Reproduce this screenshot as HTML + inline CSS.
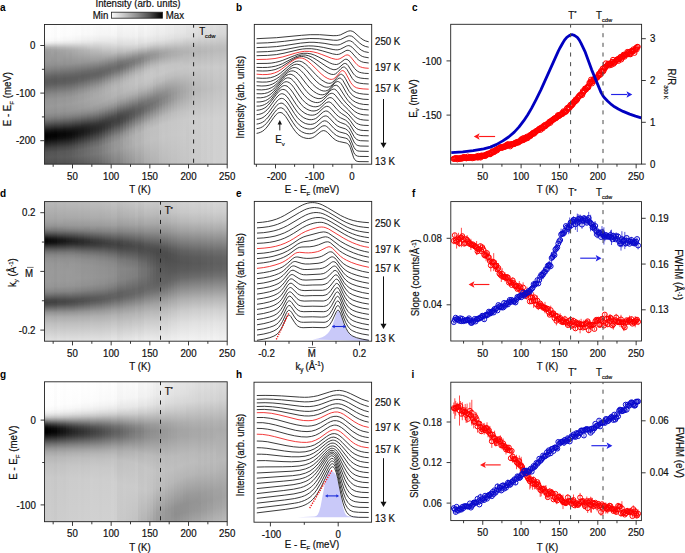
<!DOCTYPE html>
<html><head><meta charset="utf-8"><style>
html,body{margin:0;padding:0;background:#fff;width:685px;height:553px;overflow:hidden}
svg{display:block;font-family:"Liberation Sans", sans-serif}
</style></head><body>
<svg width="685" height="553" viewBox="0 0 685 553">
<defs><linearGradient id="ha0" x2="0" y2="1"><stop offset="0.000" stop-color="#fdfdfd"/><stop offset="0.090" stop-color="#fcfcfc"/><stop offset="0.115" stop-color="#f7f7f7"/><stop offset="0.133" stop-color="#e7e7e7"/><stop offset="0.162" stop-color="#b0b0b0"/><stop offset="0.176" stop-color="#a1a1a1"/><stop offset="0.194" stop-color="#9b9b9b"/><stop offset="0.255" stop-color="#979797"/><stop offset="0.288" stop-color="#909090"/><stop offset="0.317" stop-color="#848484"/><stop offset="0.371" stop-color="#646464"/><stop offset="0.396" stop-color="#5b5b5b"/><stop offset="0.414" stop-color="#5a5a5a"/><stop offset="0.432" stop-color="#5f5f5f"/><stop offset="0.500" stop-color="#868686"/><stop offset="0.540" stop-color="#949494"/><stop offset="0.590" stop-color="#989898"/><stop offset="0.637" stop-color="#909090"/><stop offset="0.662" stop-color="#848484"/><stop offset="0.683" stop-color="#737373"/><stop offset="0.705" stop-color="#5c5c5c"/><stop offset="0.759" stop-color="#171717"/><stop offset="0.777" stop-color="#070707"/><stop offset="0.791" stop-color="#010101"/><stop offset="0.806" stop-color="#010101"/><stop offset="0.824" stop-color="#080808"/><stop offset="0.885" stop-color="#404040"/><stop offset="0.917" stop-color="#525252"/><stop offset="0.953" stop-color="#575757"/><stop offset="1.000" stop-color="#4e4e4e"/></linearGradient><linearGradient id="ha1" x2="0" y2="1"><stop offset="0.000" stop-color="#fefefe"/><stop offset="0.083" stop-color="#fdfdfd"/><stop offset="0.112" stop-color="#f9f9f9"/><stop offset="0.129" stop-color="#ececec"/><stop offset="0.162" stop-color="#b2b2b2"/><stop offset="0.176" stop-color="#a3a3a3"/><stop offset="0.194" stop-color="#9d9d9d"/><stop offset="0.255" stop-color="#989898"/><stop offset="0.288" stop-color="#909090"/><stop offset="0.317" stop-color="#848484"/><stop offset="0.371" stop-color="#646464"/><stop offset="0.396" stop-color="#5b5b5b"/><stop offset="0.414" stop-color="#5c5c5c"/><stop offset="0.432" stop-color="#616161"/><stop offset="0.500" stop-color="#888888"/><stop offset="0.536" stop-color="#959595"/><stop offset="0.586" stop-color="#999999"/><stop offset="0.633" stop-color="#929292"/><stop offset="0.658" stop-color="#868686"/><stop offset="0.680" stop-color="#767676"/><stop offset="0.701" stop-color="#5f5f5f"/><stop offset="0.759" stop-color="#171717"/><stop offset="0.777" stop-color="#080808"/><stop offset="0.791" stop-color="#030303"/><stop offset="0.806" stop-color="#030303"/><stop offset="0.824" stop-color="#0c0c0c"/><stop offset="0.885" stop-color="#424242"/><stop offset="0.914" stop-color="#535353"/><stop offset="0.950" stop-color="#595959"/><stop offset="1.000" stop-color="#4f4f4f"/></linearGradient><linearGradient id="ha2" x2="0" y2="1"><stop offset="0.000" stop-color="#fdfdfd"/><stop offset="0.083" stop-color="#fcfcfc"/><stop offset="0.112" stop-color="#f8f8f8"/><stop offset="0.129" stop-color="#eaeaea"/><stop offset="0.162" stop-color="#b3b3b3"/><stop offset="0.180" stop-color="#a2a2a2"/><stop offset="0.284" stop-color="#919191"/><stop offset="0.313" stop-color="#848484"/><stop offset="0.367" stop-color="#646464"/><stop offset="0.392" stop-color="#5b5b5b"/><stop offset="0.410" stop-color="#5b5b5b"/><stop offset="0.428" stop-color="#606060"/><stop offset="0.496" stop-color="#878787"/><stop offset="0.532" stop-color="#949494"/><stop offset="0.583" stop-color="#999999"/><stop offset="0.629" stop-color="#929292"/><stop offset="0.655" stop-color="#878787"/><stop offset="0.676" stop-color="#777777"/><stop offset="0.701" stop-color="#5d5d5d"/><stop offset="0.755" stop-color="#191919"/><stop offset="0.773" stop-color="#0a0a0a"/><stop offset="0.788" stop-color="#040404"/><stop offset="0.802" stop-color="#040404"/><stop offset="0.820" stop-color="#0b0b0b"/><stop offset="0.881" stop-color="#414141"/><stop offset="0.914" stop-color="#545454"/><stop offset="0.950" stop-color="#595959"/><stop offset="1.000" stop-color="#4f4f4f"/></linearGradient><linearGradient id="ha3" x2="0" y2="1"><stop offset="0.000" stop-color="#fbfbfb"/><stop offset="0.083" stop-color="#fafafa"/><stop offset="0.112" stop-color="#f5f5f5"/><stop offset="0.129" stop-color="#e7e7e7"/><stop offset="0.162" stop-color="#b2b2b2"/><stop offset="0.180" stop-color="#a1a1a1"/><stop offset="0.198" stop-color="#9b9b9b"/><stop offset="0.252" stop-color="#969696"/><stop offset="0.284" stop-color="#8f8f8f"/><stop offset="0.313" stop-color="#828282"/><stop offset="0.367" stop-color="#626262"/><stop offset="0.388" stop-color="#5a5a5a"/><stop offset="0.406" stop-color="#595959"/><stop offset="0.424" stop-color="#5d5d5d"/><stop offset="0.496" stop-color="#868686"/><stop offset="0.532" stop-color="#939393"/><stop offset="0.583" stop-color="#979797"/><stop offset="0.629" stop-color="#909090"/><stop offset="0.655" stop-color="#848484"/><stop offset="0.676" stop-color="#747474"/><stop offset="0.698" stop-color="#5d5d5d"/><stop offset="0.755" stop-color="#161616"/><stop offset="0.773" stop-color="#080808"/><stop offset="0.788" stop-color="#030303"/><stop offset="0.802" stop-color="#030303"/><stop offset="0.820" stop-color="#0c0c0c"/><stop offset="0.881" stop-color="#414141"/><stop offset="0.914" stop-color="#535353"/><stop offset="0.950" stop-color="#585858"/><stop offset="1.000" stop-color="#4d4d4d"/></linearGradient><linearGradient id="ha4" x2="0" y2="1"><stop offset="0.000" stop-color="#fefefe"/><stop offset="0.083" stop-color="#fdfdfd"/><stop offset="0.112" stop-color="#f7f7f7"/><stop offset="0.129" stop-color="#e9e9e9"/><stop offset="0.162" stop-color="#b6b6b6"/><stop offset="0.180" stop-color="#a5a5a5"/><stop offset="0.198" stop-color="#9f9f9f"/><stop offset="0.255" stop-color="#999999"/><stop offset="0.284" stop-color="#919191"/><stop offset="0.313" stop-color="#848484"/><stop offset="0.363" stop-color="#666666"/><stop offset="0.388" stop-color="#5d5d5d"/><stop offset="0.406" stop-color="#5c5c5c"/><stop offset="0.424" stop-color="#616161"/><stop offset="0.493" stop-color="#898989"/><stop offset="0.529" stop-color="#969696"/><stop offset="0.579" stop-color="#9b9b9b"/><stop offset="0.626" stop-color="#949494"/><stop offset="0.651" stop-color="#888888"/><stop offset="0.673" stop-color="#797979"/><stop offset="0.698" stop-color="#5e5e5e"/><stop offset="0.752" stop-color="#1c1c1c"/><stop offset="0.770" stop-color="#0d0d0d"/><stop offset="0.784" stop-color="#070707"/><stop offset="0.799" stop-color="#070707"/><stop offset="0.817" stop-color="#0f0f0f"/><stop offset="0.881" stop-color="#464646"/><stop offset="0.914" stop-color="#585858"/><stop offset="0.950" stop-color="#5b5b5b"/><stop offset="1.000" stop-color="#515151"/></linearGradient><linearGradient id="ha5" x2="0" y2="1"><stop offset="0.000" stop-color="#fdfdfd"/><stop offset="0.079" stop-color="#fcfcfc"/><stop offset="0.108" stop-color="#f7f7f7"/><stop offset="0.129" stop-color="#e7e7e7"/><stop offset="0.162" stop-color="#b7b7b7"/><stop offset="0.180" stop-color="#a6a6a6"/><stop offset="0.198" stop-color="#a0a0a0"/><stop offset="0.255" stop-color="#989898"/><stop offset="0.284" stop-color="#919191"/><stop offset="0.360" stop-color="#666666"/><stop offset="0.385" stop-color="#5d5d5d"/><stop offset="0.403" stop-color="#5c5c5c"/><stop offset="0.421" stop-color="#606060"/><stop offset="0.493" stop-color="#8a8a8a"/><stop offset="0.529" stop-color="#969696"/><stop offset="0.576" stop-color="#9b9b9b"/><stop offset="0.622" stop-color="#949494"/><stop offset="0.647" stop-color="#898989"/><stop offset="0.669" stop-color="#7a7a7a"/><stop offset="0.694" stop-color="#606060"/><stop offset="0.752" stop-color="#1b1b1b"/><stop offset="0.770" stop-color="#0d0d0d"/><stop offset="0.784" stop-color="#080808"/><stop offset="0.799" stop-color="#090909"/><stop offset="0.817" stop-color="#111111"/><stop offset="0.878" stop-color="#454545"/><stop offset="0.910" stop-color="#575757"/><stop offset="0.950" stop-color="#5c5c5c"/><stop offset="1.000" stop-color="#515151"/></linearGradient><linearGradient id="ha6" x2="0" y2="1"><stop offset="0.000" stop-color="#fcfcfc"/><stop offset="0.076" stop-color="#fbfbfb"/><stop offset="0.108" stop-color="#f5f5f5"/><stop offset="0.129" stop-color="#e5e5e5"/><stop offset="0.162" stop-color="#b7b7b7"/><stop offset="0.183" stop-color="#a5a5a5"/><stop offset="0.281" stop-color="#909090"/><stop offset="0.309" stop-color="#838383"/><stop offset="0.360" stop-color="#646464"/><stop offset="0.385" stop-color="#5b5b5b"/><stop offset="0.403" stop-color="#5b5b5b"/><stop offset="0.421" stop-color="#606060"/><stop offset="0.489" stop-color="#888888"/><stop offset="0.525" stop-color="#959595"/><stop offset="0.576" stop-color="#9a9a9a"/><stop offset="0.622" stop-color="#929292"/><stop offset="0.647" stop-color="#878787"/><stop offset="0.669" stop-color="#777777"/><stop offset="0.691" stop-color="#616161"/><stop offset="0.748" stop-color="#1c1c1c"/><stop offset="0.766" stop-color="#0e0e0e"/><stop offset="0.781" stop-color="#080808"/><stop offset="0.795" stop-color="#080808"/><stop offset="0.813" stop-color="#101010"/><stop offset="0.878" stop-color="#464646"/><stop offset="0.910" stop-color="#575757"/><stop offset="0.950" stop-color="#5b5b5b"/><stop offset="1.000" stop-color="#505050"/></linearGradient><linearGradient id="ha7" x2="0" y2="1"><stop offset="0.000" stop-color="#fdfdfd"/><stop offset="0.076" stop-color="#fcfcfc"/><stop offset="0.108" stop-color="#f5f5f5"/><stop offset="0.129" stop-color="#e5e5e5"/><stop offset="0.165" stop-color="#b6b6b6"/><stop offset="0.183" stop-color="#a8a8a8"/><stop offset="0.281" stop-color="#929292"/><stop offset="0.356" stop-color="#676767"/><stop offset="0.381" stop-color="#5d5d5d"/><stop offset="0.399" stop-color="#5d5d5d"/><stop offset="0.417" stop-color="#616161"/><stop offset="0.489" stop-color="#8b8b8b"/><stop offset="0.525" stop-color="#989898"/><stop offset="0.572" stop-color="#9c9c9c"/><stop offset="0.619" stop-color="#959595"/><stop offset="0.644" stop-color="#8a8a8a"/><stop offset="0.665" stop-color="#7b7b7b"/><stop offset="0.691" stop-color="#616161"/><stop offset="0.745" stop-color="#212121"/><stop offset="0.763" stop-color="#121212"/><stop offset="0.781" stop-color="#0b0b0b"/><stop offset="0.795" stop-color="#0c0c0c"/><stop offset="0.813" stop-color="#131313"/><stop offset="0.878" stop-color="#494949"/><stop offset="0.910" stop-color="#5a5a5a"/><stop offset="0.950" stop-color="#5d5d5d"/><stop offset="1.000" stop-color="#525252"/></linearGradient><linearGradient id="ha8" x2="0" y2="1"><stop offset="0.000" stop-color="#fdfdfd"/><stop offset="0.072" stop-color="#fcfcfc"/><stop offset="0.104" stop-color="#f6f6f6"/><stop offset="0.126" stop-color="#e8e8e8"/><stop offset="0.165" stop-color="#b7b7b7"/><stop offset="0.183" stop-color="#a9a9a9"/><stop offset="0.201" stop-color="#a2a2a2"/><stop offset="0.281" stop-color="#919191"/><stop offset="0.356" stop-color="#666666"/><stop offset="0.381" stop-color="#5d5d5d"/><stop offset="0.399" stop-color="#5d5d5d"/><stop offset="0.417" stop-color="#626262"/><stop offset="0.486" stop-color="#8a8a8a"/><stop offset="0.522" stop-color="#979797"/><stop offset="0.568" stop-color="#9c9c9c"/><stop offset="0.615" stop-color="#969696"/><stop offset="0.640" stop-color="#8b8b8b"/><stop offset="0.662" stop-color="#7c7c7c"/><stop offset="0.687" stop-color="#636363"/><stop offset="0.745" stop-color="#202020"/><stop offset="0.763" stop-color="#121212"/><stop offset="0.777" stop-color="#0c0c0c"/><stop offset="0.791" stop-color="#0c0c0c"/><stop offset="0.809" stop-color="#131313"/><stop offset="0.874" stop-color="#494949"/><stop offset="0.906" stop-color="#5a5a5a"/><stop offset="0.946" stop-color="#5e5e5e"/><stop offset="1.000" stop-color="#535353"/></linearGradient><linearGradient id="ha9" x2="0" y2="1"><stop offset="0.000" stop-color="#fdfdfd"/><stop offset="0.072" stop-color="#fbfbfb"/><stop offset="0.104" stop-color="#f5f5f5"/><stop offset="0.126" stop-color="#e7e7e7"/><stop offset="0.165" stop-color="#b9b9b9"/><stop offset="0.183" stop-color="#ababab"/><stop offset="0.277" stop-color="#939393"/><stop offset="0.353" stop-color="#676767"/><stop offset="0.378" stop-color="#5e5e5e"/><stop offset="0.396" stop-color="#5e5e5e"/><stop offset="0.414" stop-color="#636363"/><stop offset="0.478" stop-color="#8a8a8a"/><stop offset="0.514" stop-color="#989898"/><stop offset="0.565" stop-color="#9e9e9e"/><stop offset="0.612" stop-color="#979797"/><stop offset="0.637" stop-color="#8c8c8c"/><stop offset="0.658" stop-color="#7d7d7d"/><stop offset="0.683" stop-color="#646464"/><stop offset="0.741" stop-color="#222222"/><stop offset="0.759" stop-color="#151515"/><stop offset="0.773" stop-color="#101010"/><stop offset="0.788" stop-color="#101010"/><stop offset="0.806" stop-color="#171717"/><stop offset="0.871" stop-color="#4c4c4c"/><stop offset="0.906" stop-color="#5e5e5e"/><stop offset="0.946" stop-color="#616161"/><stop offset="1.000" stop-color="#555555"/></linearGradient><linearGradient id="ha10" x2="0" y2="1"><stop offset="0.000" stop-color="#fcfcfc"/><stop offset="0.072" stop-color="#fafafa"/><stop offset="0.104" stop-color="#f3f3f3"/><stop offset="0.126" stop-color="#e6e6e6"/><stop offset="0.165" stop-color="#bbbbbb"/><stop offset="0.183" stop-color="#adadad"/><stop offset="0.273" stop-color="#949494"/><stop offset="0.349" stop-color="#676767"/><stop offset="0.374" stop-color="#5e5e5e"/><stop offset="0.392" stop-color="#5e5e5e"/><stop offset="0.410" stop-color="#646464"/><stop offset="0.475" stop-color="#8c8c8c"/><stop offset="0.511" stop-color="#9a9a9a"/><stop offset="0.561" stop-color="#9f9f9f"/><stop offset="0.608" stop-color="#989898"/><stop offset="0.633" stop-color="#8d8d8d"/><stop offset="0.655" stop-color="#7e7e7e"/><stop offset="0.676" stop-color="#696969"/><stop offset="0.734" stop-color="#272727"/><stop offset="0.752" stop-color="#1a1a1a"/><stop offset="0.770" stop-color="#131313"/><stop offset="0.784" stop-color="#131313"/><stop offset="0.802" stop-color="#1b1b1b"/><stop offset="0.867" stop-color="#4f4f4f"/><stop offset="0.903" stop-color="#616161"/><stop offset="0.942" stop-color="#646464"/><stop offset="1.000" stop-color="#575757"/></linearGradient><linearGradient id="ha11" x2="0" y2="1"><stop offset="0.000" stop-color="#fcfcfc"/><stop offset="0.068" stop-color="#fbfbfb"/><stop offset="0.104" stop-color="#f3f3f3"/><stop offset="0.126" stop-color="#e6e6e6"/><stop offset="0.165" stop-color="#bdbdbd"/><stop offset="0.183" stop-color="#b0b0b0"/><stop offset="0.270" stop-color="#969696"/><stop offset="0.345" stop-color="#686868"/><stop offset="0.371" stop-color="#5f5f5f"/><stop offset="0.403" stop-color="#656565"/><stop offset="0.468" stop-color="#8d8d8d"/><stop offset="0.504" stop-color="#9c9c9c"/><stop offset="0.554" stop-color="#a1a1a1"/><stop offset="0.601" stop-color="#9b9b9b"/><stop offset="0.626" stop-color="#919191"/><stop offset="0.647" stop-color="#838383"/><stop offset="0.673" stop-color="#6b6b6b"/><stop offset="0.730" stop-color="#2b2b2b"/><stop offset="0.748" stop-color="#1d1d1d"/><stop offset="0.763" stop-color="#181818"/><stop offset="0.781" stop-color="#181818"/><stop offset="0.799" stop-color="#202020"/><stop offset="0.863" stop-color="#535353"/><stop offset="0.899" stop-color="#656565"/><stop offset="0.942" stop-color="#676767"/><stop offset="1.000" stop-color="#5a5a5a"/></linearGradient><linearGradient id="ha12" x2="0" y2="1"><stop offset="0.000" stop-color="#fafafa"/><stop offset="0.068" stop-color="#f8f8f8"/><stop offset="0.104" stop-color="#f0f0f0"/><stop offset="0.126" stop-color="#e3e3e3"/><stop offset="0.165" stop-color="#bebebe"/><stop offset="0.183" stop-color="#b1b1b1"/><stop offset="0.270" stop-color="#949494"/><stop offset="0.338" stop-color="#696969"/><stop offset="0.363" stop-color="#5f5f5f"/><stop offset="0.381" stop-color="#5f5f5f"/><stop offset="0.399" stop-color="#646464"/><stop offset="0.464" stop-color="#8d8d8d"/><stop offset="0.500" stop-color="#9c9c9c"/><stop offset="0.550" stop-color="#a1a1a1"/><stop offset="0.597" stop-color="#9b9b9b"/><stop offset="0.622" stop-color="#909090"/><stop offset="0.644" stop-color="#828282"/><stop offset="0.669" stop-color="#6a6a6a"/><stop offset="0.723" stop-color="#2e2e2e"/><stop offset="0.741" stop-color="#202020"/><stop offset="0.759" stop-color="#191919"/><stop offset="0.773" stop-color="#191919"/><stop offset="0.791" stop-color="#202020"/><stop offset="0.860" stop-color="#555555"/><stop offset="0.896" stop-color="#666666"/><stop offset="0.939" stop-color="#696969"/><stop offset="1.000" stop-color="#5a5a5a"/></linearGradient><linearGradient id="ha13" x2="0" y2="1"><stop offset="0.000" stop-color="#fbfbfb"/><stop offset="0.068" stop-color="#f9f9f9"/><stop offset="0.104" stop-color="#f0f0f0"/><stop offset="0.126" stop-color="#e4e4e4"/><stop offset="0.165" stop-color="#c0c0c0"/><stop offset="0.183" stop-color="#b4b4b4"/><stop offset="0.266" stop-color="#969696"/><stop offset="0.335" stop-color="#6a6a6a"/><stop offset="0.360" stop-color="#606060"/><stop offset="0.378" stop-color="#616161"/><stop offset="0.396" stop-color="#676767"/><stop offset="0.460" stop-color="#909090"/><stop offset="0.496" stop-color="#9f9f9f"/><stop offset="0.547" stop-color="#a4a4a4"/><stop offset="0.594" stop-color="#9d9d9d"/><stop offset="0.619" stop-color="#929292"/><stop offset="0.640" stop-color="#848484"/><stop offset="0.662" stop-color="#707070"/><stop offset="0.719" stop-color="#313131"/><stop offset="0.737" stop-color="#242424"/><stop offset="0.755" stop-color="#1e1e1e"/><stop offset="0.770" stop-color="#1e1e1e"/><stop offset="0.788" stop-color="#252525"/><stop offset="0.856" stop-color="#595959"/><stop offset="0.892" stop-color="#6a6a6a"/><stop offset="0.935" stop-color="#6d6d6d"/><stop offset="1.000" stop-color="#5d5d5d"/></linearGradient><linearGradient id="ha14" x2="0" y2="1"><stop offset="0.000" stop-color="#fafafa"/><stop offset="0.068" stop-color="#f8f8f8"/><stop offset="0.104" stop-color="#efefef"/><stop offset="0.126" stop-color="#e3e3e3"/><stop offset="0.183" stop-color="#b5b5b5"/><stop offset="0.263" stop-color="#979797"/><stop offset="0.331" stop-color="#6a6a6a"/><stop offset="0.356" stop-color="#616161"/><stop offset="0.371" stop-color="#616161"/><stop offset="0.388" stop-color="#666666"/><stop offset="0.453" stop-color="#909090"/><stop offset="0.489" stop-color="#a0a0a0"/><stop offset="0.536" stop-color="#a5a5a5"/><stop offset="0.586" stop-color="#9f9f9f"/><stop offset="0.612" stop-color="#959595"/><stop offset="0.633" stop-color="#878787"/><stop offset="0.658" stop-color="#707070"/><stop offset="0.716" stop-color="#333333"/><stop offset="0.734" stop-color="#272727"/><stop offset="0.752" stop-color="#212121"/><stop offset="0.766" stop-color="#212121"/><stop offset="0.784" stop-color="#282828"/><stop offset="0.853" stop-color="#5c5c5c"/><stop offset="0.888" stop-color="#6d6d6d"/><stop offset="0.935" stop-color="#6f6f6f"/><stop offset="1.000" stop-color="#5f5f5f"/></linearGradient><linearGradient id="ha15" x2="0" y2="1"><stop offset="0.000" stop-color="#fbfbfb"/><stop offset="0.065" stop-color="#f9f9f9"/><stop offset="0.104" stop-color="#f0f0f0"/><stop offset="0.126" stop-color="#e4e4e4"/><stop offset="0.180" stop-color="#bbbbbb"/><stop offset="0.255" stop-color="#9c9c9c"/><stop offset="0.327" stop-color="#6c6c6c"/><stop offset="0.353" stop-color="#636363"/><stop offset="0.367" stop-color="#636363"/><stop offset="0.385" stop-color="#696969"/><stop offset="0.450" stop-color="#949494"/><stop offset="0.482" stop-color="#a2a2a2"/><stop offset="0.532" stop-color="#a8a8a8"/><stop offset="0.583" stop-color="#a2a2a2"/><stop offset="0.608" stop-color="#989898"/><stop offset="0.629" stop-color="#8a8a8a"/><stop offset="0.655" stop-color="#737373"/><stop offset="0.709" stop-color="#3a3a3a"/><stop offset="0.727" stop-color="#2d2d2d"/><stop offset="0.745" stop-color="#262626"/><stop offset="0.763" stop-color="#272727"/><stop offset="0.781" stop-color="#2e2e2e"/><stop offset="0.849" stop-color="#616161"/><stop offset="0.885" stop-color="#717171"/><stop offset="0.932" stop-color="#737373"/><stop offset="1.000" stop-color="#636363"/></linearGradient><linearGradient id="ha16" x2="0" y2="1"><stop offset="0.000" stop-color="#fafafa"/><stop offset="0.068" stop-color="#f7f7f7"/><stop offset="0.108" stop-color="#ededed"/><stop offset="0.180" stop-color="#bcbcbc"/><stop offset="0.252" stop-color="#9d9d9d"/><stop offset="0.320" stop-color="#6e6e6e"/><stop offset="0.349" stop-color="#636363"/><stop offset="0.363" stop-color="#636363"/><stop offset="0.381" stop-color="#6a6a6a"/><stop offset="0.439" stop-color="#919191"/><stop offset="0.464" stop-color="#9e9e9e"/><stop offset="0.493" stop-color="#a7a7a7"/><stop offset="0.525" stop-color="#a9a9a9"/><stop offset="0.572" stop-color="#a4a4a4"/><stop offset="0.612" stop-color="#949494"/><stop offset="0.644" stop-color="#7a7a7a"/><stop offset="0.709" stop-color="#393939"/><stop offset="0.727" stop-color="#2d2d2d"/><stop offset="0.741" stop-color="#292929"/><stop offset="0.755" stop-color="#292929"/><stop offset="0.773" stop-color="#2f2f2f"/><stop offset="0.845" stop-color="#646464"/><stop offset="0.881" stop-color="#747474"/><stop offset="0.928" stop-color="#767676"/><stop offset="1.000" stop-color="#646464"/></linearGradient><linearGradient id="ha17" x2="0" y2="1"><stop offset="0.000" stop-color="#f9f9f9"/><stop offset="0.068" stop-color="#f6f6f6"/><stop offset="0.108" stop-color="#ececec"/><stop offset="0.180" stop-color="#bdbdbd"/><stop offset="0.255" stop-color="#9b9b9b"/><stop offset="0.320" stop-color="#6c6c6c"/><stop offset="0.345" stop-color="#636363"/><stop offset="0.360" stop-color="#646464"/><stop offset="0.378" stop-color="#6b6b6b"/><stop offset="0.435" stop-color="#939393"/><stop offset="0.460" stop-color="#a0a0a0"/><stop offset="0.486" stop-color="#a7a7a7"/><stop offset="0.518" stop-color="#aaaaaa"/><stop offset="0.565" stop-color="#a6a6a6"/><stop offset="0.604" stop-color="#979797"/><stop offset="0.637" stop-color="#7e7e7e"/><stop offset="0.701" stop-color="#3e3e3e"/><stop offset="0.719" stop-color="#313131"/><stop offset="0.737" stop-color="#2c2c2c"/><stop offset="0.752" stop-color="#2c2c2c"/><stop offset="0.770" stop-color="#333333"/><stop offset="0.842" stop-color="#676767"/><stop offset="0.881" stop-color="#777777"/><stop offset="0.928" stop-color="#787878"/><stop offset="1.000" stop-color="#666666"/></linearGradient><linearGradient id="ha18" x2="0" y2="1"><stop offset="0.000" stop-color="#f8f8f8"/><stop offset="0.068" stop-color="#f5f5f5"/><stop offset="0.112" stop-color="#e9e9e9"/><stop offset="0.180" stop-color="#bfbfbf"/><stop offset="0.248" stop-color="#9d9d9d"/><stop offset="0.313" stop-color="#6d6d6d"/><stop offset="0.338" stop-color="#646464"/><stop offset="0.353" stop-color="#646464"/><stop offset="0.371" stop-color="#6b6b6b"/><stop offset="0.428" stop-color="#949494"/><stop offset="0.453" stop-color="#a2a2a2"/><stop offset="0.478" stop-color="#a9a9a9"/><stop offset="0.511" stop-color="#acacac"/><stop offset="0.558" stop-color="#a7a7a7"/><stop offset="0.597" stop-color="#989898"/><stop offset="0.629" stop-color="#7f7f7f"/><stop offset="0.694" stop-color="#404040"/><stop offset="0.712" stop-color="#343434"/><stop offset="0.730" stop-color="#2f2f2f"/><stop offset="0.745" stop-color="#2f2f2f"/><stop offset="0.763" stop-color="#363636"/><stop offset="0.835" stop-color="#6b6b6b"/><stop offset="0.874" stop-color="#7b7b7b"/><stop offset="0.924" stop-color="#7c7c7c"/><stop offset="1.000" stop-color="#6a6a6a"/></linearGradient><linearGradient id="ha19" x2="0" y2="1"><stop offset="0.000" stop-color="#f9f9f9"/><stop offset="0.068" stop-color="#f5f5f5"/><stop offset="0.112" stop-color="#e9e9e9"/><stop offset="0.237" stop-color="#a3a3a3"/><stop offset="0.306" stop-color="#707070"/><stop offset="0.331" stop-color="#666666"/><stop offset="0.345" stop-color="#666666"/><stop offset="0.363" stop-color="#6d6d6d"/><stop offset="0.417" stop-color="#959595"/><stop offset="0.442" stop-color="#a3a3a3"/><stop offset="0.468" stop-color="#ababab"/><stop offset="0.500" stop-color="#aeaeae"/><stop offset="0.547" stop-color="#aaaaaa"/><stop offset="0.586" stop-color="#9b9b9b"/><stop offset="0.619" stop-color="#848484"/><stop offset="0.687" stop-color="#424242"/><stop offset="0.705" stop-color="#373737"/><stop offset="0.719" stop-color="#333333"/><stop offset="0.737" stop-color="#343434"/><stop offset="0.755" stop-color="#3b3b3b"/><stop offset="0.827" stop-color="#707070"/><stop offset="0.867" stop-color="#818181"/><stop offset="0.921" stop-color="#828282"/><stop offset="1.000" stop-color="#6f6f6f"/></linearGradient><linearGradient id="ha20" x2="0" y2="1"><stop offset="0.000" stop-color="#f9f9f9"/><stop offset="0.068" stop-color="#f5f5f5"/><stop offset="0.115" stop-color="#e8e8e8"/><stop offset="0.223" stop-color="#ababab"/><stop offset="0.295" stop-color="#747474"/><stop offset="0.324" stop-color="#676767"/><stop offset="0.338" stop-color="#686868"/><stop offset="0.356" stop-color="#6f6f6f"/><stop offset="0.410" stop-color="#989898"/><stop offset="0.435" stop-color="#a6a6a6"/><stop offset="0.460" stop-color="#aeaeae"/><stop offset="0.489" stop-color="#b1b1b1"/><stop offset="0.536" stop-color="#adadad"/><stop offset="0.576" stop-color="#9f9f9f"/><stop offset="0.608" stop-color="#888888"/><stop offset="0.676" stop-color="#474747"/><stop offset="0.694" stop-color="#3c3c3c"/><stop offset="0.712" stop-color="#373737"/><stop offset="0.727" stop-color="#383838"/><stop offset="0.745" stop-color="#3e3e3e"/><stop offset="0.820" stop-color="#767676"/><stop offset="0.860" stop-color="#868686"/><stop offset="0.914" stop-color="#878787"/><stop offset="1.000" stop-color="#737373"/></linearGradient><linearGradient id="ha21" x2="0" y2="1"><stop offset="0.000" stop-color="#f8f8f8"/><stop offset="0.072" stop-color="#f4f4f4"/><stop offset="0.119" stop-color="#e6e6e6"/><stop offset="0.216" stop-color="#afafaf"/><stop offset="0.288" stop-color="#757575"/><stop offset="0.317" stop-color="#686868"/><stop offset="0.331" stop-color="#696969"/><stop offset="0.349" stop-color="#707070"/><stop offset="0.403" stop-color="#999999"/><stop offset="0.428" stop-color="#a8a8a8"/><stop offset="0.453" stop-color="#afafaf"/><stop offset="0.482" stop-color="#b2b2b2"/><stop offset="0.529" stop-color="#aeaeae"/><stop offset="0.568" stop-color="#a0a0a0"/><stop offset="0.601" stop-color="#898989"/><stop offset="0.669" stop-color="#494949"/><stop offset="0.701" stop-color="#3a3a3a"/><stop offset="0.719" stop-color="#3b3b3b"/><stop offset="0.737" stop-color="#424242"/><stop offset="0.813" stop-color="#7a7a7a"/><stop offset="0.856" stop-color="#8b8b8b"/><stop offset="0.910" stop-color="#8c8c8c"/><stop offset="1.000" stop-color="#777777"/></linearGradient><linearGradient id="ha22" x2="0" y2="1"><stop offset="0.000" stop-color="#fafafa"/><stop offset="0.072" stop-color="#f5f5f5"/><stop offset="0.122" stop-color="#e6e6e6"/><stop offset="0.205" stop-color="#b8b8b8"/><stop offset="0.281" stop-color="#797979"/><stop offset="0.309" stop-color="#6c6c6c"/><stop offset="0.324" stop-color="#6d6d6d"/><stop offset="0.342" stop-color="#747474"/><stop offset="0.392" stop-color="#9b9b9b"/><stop offset="0.417" stop-color="#aaaaaa"/><stop offset="0.442" stop-color="#b3b3b3"/><stop offset="0.471" stop-color="#b6b6b6"/><stop offset="0.518" stop-color="#b2b2b2"/><stop offset="0.558" stop-color="#a4a4a4"/><stop offset="0.590" stop-color="#8f8f8f"/><stop offset="0.658" stop-color="#4f4f4f"/><stop offset="0.676" stop-color="#444444"/><stop offset="0.694" stop-color="#3f3f3f"/><stop offset="0.727" stop-color="#474747"/><stop offset="0.806" stop-color="#818181"/><stop offset="0.849" stop-color="#929292"/><stop offset="0.906" stop-color="#929292"/><stop offset="1.000" stop-color="#7e7e7e"/></linearGradient><linearGradient id="ha23" x2="0" y2="1"><stop offset="0.000" stop-color="#fafafa"/><stop offset="0.076" stop-color="#f4f4f4"/><stop offset="0.129" stop-color="#e3e3e3"/><stop offset="0.198" stop-color="#bcbcbc"/><stop offset="0.273" stop-color="#7b7b7b"/><stop offset="0.302" stop-color="#6d6d6d"/><stop offset="0.317" stop-color="#6e6e6e"/><stop offset="0.335" stop-color="#757575"/><stop offset="0.385" stop-color="#9d9d9d"/><stop offset="0.410" stop-color="#acacac"/><stop offset="0.435" stop-color="#b5b5b5"/><stop offset="0.464" stop-color="#b8b8b8"/><stop offset="0.511" stop-color="#b3b3b3"/><stop offset="0.550" stop-color="#a5a5a5"/><stop offset="0.583" stop-color="#8f8f8f"/><stop offset="0.651" stop-color="#515151"/><stop offset="0.683" stop-color="#424242"/><stop offset="0.701" stop-color="#434343"/><stop offset="0.719" stop-color="#4a4a4a"/><stop offset="0.799" stop-color="#858585"/><stop offset="0.842" stop-color="#969696"/><stop offset="0.899" stop-color="#979797"/><stop offset="1.000" stop-color="#828282"/></linearGradient><linearGradient id="ha24" x2="0" y2="1"><stop offset="0.000" stop-color="#f5f5f5"/><stop offset="0.079" stop-color="#eeeeee"/><stop offset="0.137" stop-color="#dbdbdb"/><stop offset="0.194" stop-color="#b9b9b9"/><stop offset="0.266" stop-color="#787878"/><stop offset="0.295" stop-color="#6a6a6a"/><stop offset="0.309" stop-color="#6a6a6a"/><stop offset="0.327" stop-color="#727272"/><stop offset="0.378" stop-color="#9b9b9b"/><stop offset="0.403" stop-color="#aaaaaa"/><stop offset="0.428" stop-color="#b2b2b2"/><stop offset="0.453" stop-color="#b5b5b5"/><stop offset="0.500" stop-color="#b1b1b1"/><stop offset="0.540" stop-color="#a3a3a3"/><stop offset="0.572" stop-color="#8e8e8e"/><stop offset="0.640" stop-color="#505050"/><stop offset="0.658" stop-color="#464646"/><stop offset="0.676" stop-color="#414141"/><stop offset="0.694" stop-color="#424242"/><stop offset="0.712" stop-color="#494949"/><stop offset="0.791" stop-color="#848484"/><stop offset="0.835" stop-color="#969696"/><stop offset="0.863" stop-color="#989898"/><stop offset="0.896" stop-color="#969696"/><stop offset="1.000" stop-color="#818181"/></linearGradient><linearGradient id="ha25" x2="0" y2="1"><stop offset="0.000" stop-color="#f5f5f5"/><stop offset="0.079" stop-color="#efefef"/><stop offset="0.140" stop-color="#dbdbdb"/><stop offset="0.194" stop-color="#bababa"/><stop offset="0.266" stop-color="#767676"/><stop offset="0.291" stop-color="#6c6c6c"/><stop offset="0.306" stop-color="#6e6e6e"/><stop offset="0.320" stop-color="#757575"/><stop offset="0.371" stop-color="#9e9e9e"/><stop offset="0.392" stop-color="#acacac"/><stop offset="0.417" stop-color="#b5b5b5"/><stop offset="0.442" stop-color="#b8b8b8"/><stop offset="0.489" stop-color="#b4b4b4"/><stop offset="0.529" stop-color="#a7a7a7"/><stop offset="0.565" stop-color="#8f8f8f"/><stop offset="0.633" stop-color="#535353"/><stop offset="0.651" stop-color="#494949"/><stop offset="0.669" stop-color="#454545"/><stop offset="0.701" stop-color="#4c4c4c"/><stop offset="0.781" stop-color="#878787"/><stop offset="0.802" stop-color="#939393"/><stop offset="0.827" stop-color="#9b9b9b"/><stop offset="0.888" stop-color="#9c9c9c"/><stop offset="1.000" stop-color="#878787"/></linearGradient><linearGradient id="ha26" x2="0" y2="1"><stop offset="0.000" stop-color="#f7f7f7"/><stop offset="0.079" stop-color="#f1f1f1"/><stop offset="0.140" stop-color="#dddddd"/><stop offset="0.191" stop-color="#bebebe"/><stop offset="0.259" stop-color="#7b7b7b"/><stop offset="0.284" stop-color="#717171"/><stop offset="0.299" stop-color="#727272"/><stop offset="0.313" stop-color="#797979"/><stop offset="0.363" stop-color="#a3a3a3"/><stop offset="0.385" stop-color="#b0b0b0"/><stop offset="0.410" stop-color="#b9b9b9"/><stop offset="0.435" stop-color="#bcbcbc"/><stop offset="0.482" stop-color="#b8b8b8"/><stop offset="0.522" stop-color="#aaaaaa"/><stop offset="0.554" stop-color="#959595"/><stop offset="0.622" stop-color="#595959"/><stop offset="0.640" stop-color="#4f4f4f"/><stop offset="0.658" stop-color="#4a4a4a"/><stop offset="0.676" stop-color="#4b4b4b"/><stop offset="0.694" stop-color="#535353"/><stop offset="0.773" stop-color="#8e8e8e"/><stop offset="0.795" stop-color="#999999"/><stop offset="0.820" stop-color="#a1a1a1"/><stop offset="0.849" stop-color="#a4a4a4"/><stop offset="0.885" stop-color="#a2a2a2"/><stop offset="1.000" stop-color="#8d8d8d"/></linearGradient><linearGradient id="ha27" x2="0" y2="1"><stop offset="0.000" stop-color="#f7f7f7"/><stop offset="0.079" stop-color="#f0f0f0"/><stop offset="0.140" stop-color="#dddddd"/><stop offset="0.183" stop-color="#c1c1c1"/><stop offset="0.252" stop-color="#7e7e7e"/><stop offset="0.277" stop-color="#737373"/><stop offset="0.291" stop-color="#757575"/><stop offset="0.306" stop-color="#7c7c7c"/><stop offset="0.353" stop-color="#a2a2a2"/><stop offset="0.374" stop-color="#b0b0b0"/><stop offset="0.399" stop-color="#b9b9b9"/><stop offset="0.424" stop-color="#bdbdbd"/><stop offset="0.471" stop-color="#b9b9b9"/><stop offset="0.511" stop-color="#acacac"/><stop offset="0.547" stop-color="#959595"/><stop offset="0.612" stop-color="#5e5e5e"/><stop offset="0.629" stop-color="#535353"/><stop offset="0.647" stop-color="#4e4e4e"/><stop offset="0.665" stop-color="#4f4f4f"/><stop offset="0.683" stop-color="#565656"/><stop offset="0.766" stop-color="#939393"/><stop offset="0.813" stop-color="#a5a5a5"/><stop offset="0.878" stop-color="#a6a6a6"/><stop offset="1.000" stop-color="#919191"/></linearGradient><linearGradient id="ha28" x2="0" y2="1"><stop offset="0.000" stop-color="#f7f7f7"/><stop offset="0.083" stop-color="#f0f0f0"/><stop offset="0.140" stop-color="#dddddd"/><stop offset="0.180" stop-color="#c3c3c3"/><stop offset="0.245" stop-color="#828282"/><stop offset="0.270" stop-color="#777777"/><stop offset="0.295" stop-color="#7e7e7e"/><stop offset="0.345" stop-color="#a6a6a6"/><stop offset="0.367" stop-color="#b3b3b3"/><stop offset="0.392" stop-color="#bcbcbc"/><stop offset="0.417" stop-color="#bfbfbf"/><stop offset="0.460" stop-color="#bcbcbc"/><stop offset="0.500" stop-color="#afafaf"/><stop offset="0.532" stop-color="#9b9b9b"/><stop offset="0.604" stop-color="#616161"/><stop offset="0.622" stop-color="#575757"/><stop offset="0.640" stop-color="#535353"/><stop offset="0.673" stop-color="#5b5b5b"/><stop offset="0.755" stop-color="#979797"/><stop offset="0.781" stop-color="#a3a3a3"/><stop offset="0.806" stop-color="#aaaaaa"/><stop offset="0.874" stop-color="#aaaaaa"/><stop offset="1.000" stop-color="#959595"/></linearGradient><linearGradient id="ha29" x2="0" y2="1"><stop offset="0.000" stop-color="#f6f6f6"/><stop offset="0.079" stop-color="#f0f0f0"/><stop offset="0.137" stop-color="#dedede"/><stop offset="0.169" stop-color="#cacaca"/><stop offset="0.230" stop-color="#8b8b8b"/><stop offset="0.255" stop-color="#7b7b7b"/><stop offset="0.270" stop-color="#7a7a7a"/><stop offset="0.284" stop-color="#7f7f7f"/><stop offset="0.342" stop-color="#ababab"/><stop offset="0.367" stop-color="#b8b8b8"/><stop offset="0.396" stop-color="#bfbfbf"/><stop offset="0.432" stop-color="#bfbfbf"/><stop offset="0.468" stop-color="#b9b9b9"/><stop offset="0.500" stop-color="#acacac"/><stop offset="0.529" stop-color="#999999"/><stop offset="0.590" stop-color="#676767"/><stop offset="0.608" stop-color="#5d5d5d"/><stop offset="0.626" stop-color="#585858"/><stop offset="0.644" stop-color="#595959"/><stop offset="0.662" stop-color="#5f5f5f"/><stop offset="0.748" stop-color="#9c9c9c"/><stop offset="0.795" stop-color="#adadad"/><stop offset="0.827" stop-color="#b0b0b0"/><stop offset="0.867" stop-color="#aeaeae"/><stop offset="1.000" stop-color="#999999"/></linearGradient><linearGradient id="ha30" x2="0" y2="1"><stop offset="0.000" stop-color="#f8f8f8"/><stop offset="0.079" stop-color="#f2f2f2"/><stop offset="0.133" stop-color="#e2e2e2"/><stop offset="0.165" stop-color="#cdcdcd"/><stop offset="0.223" stop-color="#919191"/><stop offset="0.248" stop-color="#818181"/><stop offset="0.263" stop-color="#808080"/><stop offset="0.277" stop-color="#858585"/><stop offset="0.331" stop-color="#aeaeae"/><stop offset="0.360" stop-color="#bdbdbd"/><stop offset="0.388" stop-color="#c3c3c3"/><stop offset="0.424" stop-color="#c3c3c3"/><stop offset="0.457" stop-color="#bdbdbd"/><stop offset="0.489" stop-color="#b0b0b0"/><stop offset="0.518" stop-color="#9e9e9e"/><stop offset="0.583" stop-color="#6c6c6c"/><stop offset="0.601" stop-color="#636363"/><stop offset="0.619" stop-color="#5f5f5f"/><stop offset="0.637" stop-color="#606060"/><stop offset="0.655" stop-color="#676767"/><stop offset="0.737" stop-color="#a1a1a1"/><stop offset="0.763" stop-color="#adadad"/><stop offset="0.788" stop-color="#b3b3b3"/><stop offset="0.860" stop-color="#b4b4b4"/><stop offset="1.000" stop-color="#a0a0a0"/></linearGradient><linearGradient id="ha31" x2="0" y2="1"><stop offset="0.000" stop-color="#f4f4f4"/><stop offset="0.076" stop-color="#ededed"/><stop offset="0.129" stop-color="#dedede"/><stop offset="0.162" stop-color="#cacaca"/><stop offset="0.216" stop-color="#919191"/><stop offset="0.241" stop-color="#818181"/><stop offset="0.255" stop-color="#808080"/><stop offset="0.270" stop-color="#858585"/><stop offset="0.324" stop-color="#adadad"/><stop offset="0.349" stop-color="#b9b9b9"/><stop offset="0.378" stop-color="#c0c0c0"/><stop offset="0.414" stop-color="#c0c0c0"/><stop offset="0.446" stop-color="#bababa"/><stop offset="0.478" stop-color="#aeaeae"/><stop offset="0.507" stop-color="#9d9d9d"/><stop offset="0.572" stop-color="#6c6c6c"/><stop offset="0.608" stop-color="#5f5f5f"/><stop offset="0.626" stop-color="#606060"/><stop offset="0.644" stop-color="#676767"/><stop offset="0.730" stop-color="#a1a1a1"/><stop offset="0.781" stop-color="#b2b2b2"/><stop offset="0.856" stop-color="#b3b3b3"/><stop offset="1.000" stop-color="#9f9f9f"/></linearGradient><linearGradient id="ha32" x2="0" y2="1"><stop offset="0.000" stop-color="#f4f4f4"/><stop offset="0.076" stop-color="#eeeeee"/><stop offset="0.126" stop-color="#e0e0e0"/><stop offset="0.158" stop-color="#cbcbcb"/><stop offset="0.216" stop-color="#909090"/><stop offset="0.237" stop-color="#858585"/><stop offset="0.263" stop-color="#8a8a8a"/><stop offset="0.317" stop-color="#b0b0b0"/><stop offset="0.342" stop-color="#bcbcbc"/><stop offset="0.371" stop-color="#c2c2c2"/><stop offset="0.406" stop-color="#c2c2c2"/><stop offset="0.439" stop-color="#bcbcbc"/><stop offset="0.471" stop-color="#b0b0b0"/><stop offset="0.500" stop-color="#9e9e9e"/><stop offset="0.561" stop-color="#717171"/><stop offset="0.597" stop-color="#646464"/><stop offset="0.615" stop-color="#656565"/><stop offset="0.633" stop-color="#6b6b6b"/><stop offset="0.719" stop-color="#a5a5a5"/><stop offset="0.770" stop-color="#b6b6b6"/><stop offset="0.845" stop-color="#b7b7b7"/><stop offset="1.000" stop-color="#a4a4a4"/></linearGradient><linearGradient id="ha33" x2="0" y2="1"><stop offset="0.000" stop-color="#f7f7f7"/><stop offset="0.076" stop-color="#f1f1f1"/><stop offset="0.122" stop-color="#e4e4e4"/><stop offset="0.155" stop-color="#cfcfcf"/><stop offset="0.209" stop-color="#989898"/><stop offset="0.230" stop-color="#8d8d8d"/><stop offset="0.255" stop-color="#919191"/><stop offset="0.306" stop-color="#b4b4b4"/><stop offset="0.331" stop-color="#c0c0c0"/><stop offset="0.360" stop-color="#c7c7c7"/><stop offset="0.396" stop-color="#c6c6c6"/><stop offset="0.428" stop-color="#c1c1c1"/><stop offset="0.460" stop-color="#b5b5b5"/><stop offset="0.489" stop-color="#a4a4a4"/><stop offset="0.550" stop-color="#787878"/><stop offset="0.586" stop-color="#6b6b6b"/><stop offset="0.604" stop-color="#6c6c6c"/><stop offset="0.622" stop-color="#727272"/><stop offset="0.709" stop-color="#aaaaaa"/><stop offset="0.734" stop-color="#b5b5b5"/><stop offset="0.763" stop-color="#bcbcbc"/><stop offset="0.842" stop-color="#bdbdbd"/><stop offset="1.000" stop-color="#ababab"/></linearGradient><linearGradient id="ha34" x2="0" y2="1"><stop offset="0.000" stop-color="#f4f4f4"/><stop offset="0.072" stop-color="#efefef"/><stop offset="0.119" stop-color="#e2e2e2"/><stop offset="0.151" stop-color="#cdcdcd"/><stop offset="0.201" stop-color="#9b9b9b"/><stop offset="0.223" stop-color="#909090"/><stop offset="0.248" stop-color="#939393"/><stop offset="0.299" stop-color="#b5b5b5"/><stop offset="0.324" stop-color="#c1c1c1"/><stop offset="0.353" stop-color="#c6c6c6"/><stop offset="0.388" stop-color="#c6c6c6"/><stop offset="0.421" stop-color="#c0c0c0"/><stop offset="0.450" stop-color="#b5b5b5"/><stop offset="0.478" stop-color="#a5a5a5"/><stop offset="0.543" stop-color="#787878"/><stop offset="0.579" stop-color="#6d6d6d"/><stop offset="0.615" stop-color="#757575"/><stop offset="0.698" stop-color="#aaaaaa"/><stop offset="0.723" stop-color="#b6b6b6"/><stop offset="0.752" stop-color="#bdbdbd"/><stop offset="0.831" stop-color="#bebebe"/><stop offset="1.000" stop-color="#adadad"/></linearGradient><linearGradient id="ha35" x2="0" y2="1"><stop offset="0.000" stop-color="#f4f4f4"/><stop offset="0.072" stop-color="#eeeeee"/><stop offset="0.115" stop-color="#e3e3e3"/><stop offset="0.144" stop-color="#d0d0d0"/><stop offset="0.194" stop-color="#a0a0a0"/><stop offset="0.216" stop-color="#959595"/><stop offset="0.241" stop-color="#989898"/><stop offset="0.291" stop-color="#b8b8b8"/><stop offset="0.317" stop-color="#c3c3c3"/><stop offset="0.345" stop-color="#c8c8c8"/><stop offset="0.378" stop-color="#c7c7c7"/><stop offset="0.410" stop-color="#c2c2c2"/><stop offset="0.439" stop-color="#b8b8b8"/><stop offset="0.468" stop-color="#a8a8a8"/><stop offset="0.532" stop-color="#7d7d7d"/><stop offset="0.568" stop-color="#717171"/><stop offset="0.604" stop-color="#797979"/><stop offset="0.691" stop-color="#aeaeae"/><stop offset="0.745" stop-color="#bfbfbf"/><stop offset="0.827" stop-color="#c1c1c1"/><stop offset="1.000" stop-color="#b1b1b1"/></linearGradient><linearGradient id="ha36" x2="0" y2="1"><stop offset="0.000" stop-color="#f2f2f2"/><stop offset="0.068" stop-color="#ededed"/><stop offset="0.112" stop-color="#e2e2e2"/><stop offset="0.140" stop-color="#d0d0d0"/><stop offset="0.191" stop-color="#a2a2a2"/><stop offset="0.212" stop-color="#979797"/><stop offset="0.237" stop-color="#9a9a9a"/><stop offset="0.288" stop-color="#b8b8b8"/><stop offset="0.309" stop-color="#c1c1c1"/><stop offset="0.338" stop-color="#c6c6c6"/><stop offset="0.371" stop-color="#c6c6c6"/><stop offset="0.428" stop-color="#b7b7b7"/><stop offset="0.522" stop-color="#808080"/><stop offset="0.558" stop-color="#757575"/><stop offset="0.594" stop-color="#7c7c7c"/><stop offset="0.683" stop-color="#b0b0b0"/><stop offset="0.737" stop-color="#c0c0c0"/><stop offset="0.820" stop-color="#c1c1c1"/><stop offset="1.000" stop-color="#b2b2b2"/></linearGradient><linearGradient id="ha37" x2="0" y2="1"><stop offset="0.000" stop-color="#f0f0f0"/><stop offset="0.068" stop-color="#eaeaea"/><stop offset="0.108" stop-color="#e1e1e1"/><stop offset="0.137" stop-color="#d0d0d0"/><stop offset="0.187" stop-color="#a5a5a5"/><stop offset="0.209" stop-color="#9a9a9a"/><stop offset="0.234" stop-color="#9d9d9d"/><stop offset="0.284" stop-color="#b9b9b9"/><stop offset="0.306" stop-color="#c1c1c1"/><stop offset="0.360" stop-color="#c5c5c5"/><stop offset="0.417" stop-color="#b7b7b7"/><stop offset="0.511" stop-color="#838383"/><stop offset="0.547" stop-color="#787878"/><stop offset="0.583" stop-color="#7f7f7f"/><stop offset="0.673" stop-color="#b0b0b0"/><stop offset="0.730" stop-color="#c0c0c0"/><stop offset="0.817" stop-color="#c1c1c1"/><stop offset="1.000" stop-color="#b4b4b4"/></linearGradient><linearGradient id="ha38" x2="0" y2="1"><stop offset="0.000" stop-color="#f1f1f1"/><stop offset="0.068" stop-color="#ececec"/><stop offset="0.108" stop-color="#e2e2e2"/><stop offset="0.137" stop-color="#d1d1d1"/><stop offset="0.183" stop-color="#ababab"/><stop offset="0.205" stop-color="#a1a1a1"/><stop offset="0.230" stop-color="#a3a3a3"/><stop offset="0.281" stop-color="#bdbdbd"/><stop offset="0.302" stop-color="#c5c5c5"/><stop offset="0.353" stop-color="#c7c7c7"/><stop offset="0.406" stop-color="#bbbbbb"/><stop offset="0.500" stop-color="#898989"/><stop offset="0.536" stop-color="#808080"/><stop offset="0.572" stop-color="#858585"/><stop offset="0.665" stop-color="#b5b5b5"/><stop offset="0.719" stop-color="#c4c4c4"/><stop offset="0.806" stop-color="#c5c5c5"/><stop offset="1.000" stop-color="#b9b9b9"/></linearGradient><linearGradient id="ha39" x2="0" y2="1"><stop offset="0.000" stop-color="#f1f1f1"/><stop offset="0.065" stop-color="#ececec"/><stop offset="0.104" stop-color="#e2e2e2"/><stop offset="0.133" stop-color="#d3d3d3"/><stop offset="0.180" stop-color="#aeaeae"/><stop offset="0.201" stop-color="#a4a4a4"/><stop offset="0.227" stop-color="#a6a6a6"/><stop offset="0.295" stop-color="#c5c5c5"/><stop offset="0.345" stop-color="#c8c8c8"/><stop offset="0.399" stop-color="#bbbbbb"/><stop offset="0.489" stop-color="#8e8e8e"/><stop offset="0.525" stop-color="#858585"/><stop offset="0.561" stop-color="#8a8a8a"/><stop offset="0.655" stop-color="#b7b7b7"/><stop offset="0.712" stop-color="#c5c5c5"/><stop offset="0.802" stop-color="#c7c7c7"/><stop offset="1.000" stop-color="#bbbbbb"/></linearGradient><linearGradient id="ha40" x2="0" y2="1"><stop offset="0.000" stop-color="#eeeeee"/><stop offset="0.061" stop-color="#eaeaea"/><stop offset="0.101" stop-color="#e1e1e1"/><stop offset="0.129" stop-color="#d2d2d2"/><stop offset="0.176" stop-color="#afafaf"/><stop offset="0.198" stop-color="#a6a6a6"/><stop offset="0.223" stop-color="#a8a8a8"/><stop offset="0.291" stop-color="#c4c4c4"/><stop offset="0.338" stop-color="#c6c6c6"/><stop offset="0.388" stop-color="#bababa"/><stop offset="0.478" stop-color="#919191"/><stop offset="0.514" stop-color="#888888"/><stop offset="0.554" stop-color="#8e8e8e"/><stop offset="0.647" stop-color="#b7b7b7"/><stop offset="0.705" stop-color="#c4c4c4"/><stop offset="0.795" stop-color="#c6c6c6"/><stop offset="1.000" stop-color="#bcbcbc"/></linearGradient><linearGradient id="ha41" x2="0" y2="1"><stop offset="0.000" stop-color="#ededed"/><stop offset="0.058" stop-color="#e9e9e9"/><stop offset="0.097" stop-color="#e1e1e1"/><stop offset="0.126" stop-color="#d3d3d3"/><stop offset="0.176" stop-color="#b1b1b1"/><stop offset="0.194" stop-color="#aaaaaa"/><stop offset="0.223" stop-color="#ababab"/><stop offset="0.288" stop-color="#c4c4c4"/><stop offset="0.331" stop-color="#c6c6c6"/><stop offset="0.378" stop-color="#bcbcbc"/><stop offset="0.468" stop-color="#979797"/><stop offset="0.507" stop-color="#8f8f8f"/><stop offset="0.547" stop-color="#949494"/><stop offset="0.640" stop-color="#b9b9b9"/><stop offset="0.701" stop-color="#c6c6c6"/><stop offset="0.795" stop-color="#c7c7c7"/><stop offset="1.000" stop-color="#bebebe"/></linearGradient><linearGradient id="ha42" x2="0" y2="1"><stop offset="0.000" stop-color="#ededed"/><stop offset="0.058" stop-color="#e9e9e9"/><stop offset="0.094" stop-color="#e1e1e1"/><stop offset="0.122" stop-color="#d4d4d4"/><stop offset="0.173" stop-color="#b4b4b4"/><stop offset="0.194" stop-color="#acacac"/><stop offset="0.219" stop-color="#aeaeae"/><stop offset="0.284" stop-color="#c4c4c4"/><stop offset="0.324" stop-color="#c6c6c6"/><stop offset="0.367" stop-color="#bebebe"/><stop offset="0.457" stop-color="#9d9d9d"/><stop offset="0.496" stop-color="#969696"/><stop offset="0.536" stop-color="#999999"/><stop offset="0.637" stop-color="#bdbdbd"/><stop offset="0.698" stop-color="#c7c7c7"/><stop offset="0.795" stop-color="#c8c8c8"/><stop offset="1.000" stop-color="#c0c0c0"/></linearGradient><linearGradient id="ha43" x2="0" y2="1"><stop offset="0.000" stop-color="#eaeaea"/><stop offset="0.058" stop-color="#e6e6e6"/><stop offset="0.094" stop-color="#dedede"/><stop offset="0.119" stop-color="#d3d3d3"/><stop offset="0.169" stop-color="#b5b5b5"/><stop offset="0.191" stop-color="#aeaeae"/><stop offset="0.219" stop-color="#afafaf"/><stop offset="0.281" stop-color="#c3c3c3"/><stop offset="0.317" stop-color="#c5c5c5"/><stop offset="0.363" stop-color="#bdbdbd"/><stop offset="0.453" stop-color="#a0a0a0"/><stop offset="0.489" stop-color="#9a9a9a"/><stop offset="0.529" stop-color="#9e9e9e"/><stop offset="0.629" stop-color="#bdbdbd"/><stop offset="0.691" stop-color="#c7c7c7"/><stop offset="0.788" stop-color="#c8c8c8"/><stop offset="1.000" stop-color="#c0c0c0"/></linearGradient><linearGradient id="ha44" x2="0" y2="1"><stop offset="0.000" stop-color="#eaeaea"/><stop offset="0.054" stop-color="#e6e6e6"/><stop offset="0.090" stop-color="#dfdfdf"/><stop offset="0.119" stop-color="#d3d3d3"/><stop offset="0.169" stop-color="#b7b7b7"/><stop offset="0.191" stop-color="#b0b0b0"/><stop offset="0.216" stop-color="#b1b1b1"/><stop offset="0.281" stop-color="#c4c4c4"/><stop offset="0.313" stop-color="#c6c6c6"/><stop offset="0.356" stop-color="#bfbfbf"/><stop offset="0.446" stop-color="#a5a5a5"/><stop offset="0.482" stop-color="#a0a0a0"/><stop offset="0.525" stop-color="#a4a4a4"/><stop offset="0.626" stop-color="#c0c0c0"/><stop offset="0.687" stop-color="#c8c8c8"/><stop offset="0.788" stop-color="#c9c9c9"/><stop offset="1.000" stop-color="#c2c2c2"/></linearGradient><linearGradient id="ha45" x2="0" y2="1"><stop offset="0.000" stop-color="#e9e9e9"/><stop offset="0.050" stop-color="#e6e6e6"/><stop offset="0.086" stop-color="#dfdfdf"/><stop offset="0.115" stop-color="#d4d4d4"/><stop offset="0.165" stop-color="#b9b9b9"/><stop offset="0.187" stop-color="#b2b2b2"/><stop offset="0.212" stop-color="#b2b2b2"/><stop offset="0.273" stop-color="#c3c3c3"/><stop offset="0.313" stop-color="#c6c6c6"/><stop offset="0.356" stop-color="#c0c0c0"/><stop offset="0.442" stop-color="#a9a9a9"/><stop offset="0.478" stop-color="#a5a5a5"/><stop offset="0.522" stop-color="#a8a8a8"/><stop offset="0.622" stop-color="#c1c1c1"/><stop offset="0.687" stop-color="#c9c9c9"/><stop offset="0.788" stop-color="#cacaca"/><stop offset="1.000" stop-color="#c4c4c4"/></linearGradient><linearGradient id="ha46" x2="0" y2="1"><stop offset="0.000" stop-color="#e8e8e8"/><stop offset="0.050" stop-color="#e5e5e5"/><stop offset="0.086" stop-color="#dedede"/><stop offset="0.165" stop-color="#b9b9b9"/><stop offset="0.194" stop-color="#b2b2b2"/><stop offset="0.299" stop-color="#c6c6c6"/><stop offset="0.338" stop-color="#c3c3c3"/><stop offset="0.435" stop-color="#adadad"/><stop offset="0.478" stop-color="#a8a8a8"/><stop offset="0.518" stop-color="#acacac"/><stop offset="0.619" stop-color="#c2c2c2"/><stop offset="0.683" stop-color="#cacaca"/><stop offset="0.788" stop-color="#cbcbcb"/><stop offset="1.000" stop-color="#c5c5c5"/></linearGradient><linearGradient id="ha47" x2="0" y2="1"><stop offset="0.000" stop-color="#e6e6e6"/><stop offset="0.083" stop-color="#dddddd"/><stop offset="0.165" stop-color="#b8b8b8"/><stop offset="0.194" stop-color="#b2b2b2"/><stop offset="0.299" stop-color="#c6c6c6"/><stop offset="0.338" stop-color="#c3c3c3"/><stop offset="0.432" stop-color="#b0b0b0"/><stop offset="0.475" stop-color="#acacac"/><stop offset="0.522" stop-color="#b0b0b0"/><stop offset="0.626" stop-color="#c5c5c5"/><stop offset="0.683" stop-color="#cacaca"/><stop offset="1.000" stop-color="#c5c5c5"/></linearGradient><linearGradient id="ha48" x2="0" y2="1"><stop offset="0.000" stop-color="#e6e6e6"/><stop offset="0.083" stop-color="#dddddd"/><stop offset="0.165" stop-color="#bababa"/><stop offset="0.194" stop-color="#b5b5b5"/><stop offset="0.299" stop-color="#c8c8c8"/><stop offset="0.335" stop-color="#c5c5c5"/><stop offset="0.428" stop-color="#b4b4b4"/><stop offset="0.471" stop-color="#b1b1b1"/><stop offset="0.518" stop-color="#b5b5b5"/><stop offset="0.622" stop-color="#c7c7c7"/><stop offset="0.680" stop-color="#cccccc"/><stop offset="1.000" stop-color="#c8c8c8"/></linearGradient><linearGradient id="ha49" x2="0" y2="1"><stop offset="0.000" stop-color="#e6e6e6"/><stop offset="0.079" stop-color="#dddddd"/><stop offset="0.162" stop-color="#bcbcbc"/><stop offset="0.194" stop-color="#b6b6b6"/><stop offset="0.302" stop-color="#c8c8c8"/><stop offset="0.468" stop-color="#b5b5b5"/><stop offset="0.680" stop-color="#cdcdcd"/><stop offset="1.000" stop-color="#cacaca"/></linearGradient><linearGradient id="ha50" x2="0" y2="1"><stop offset="0.000" stop-color="#e4e4e4"/><stop offset="0.079" stop-color="#dbdbdb"/><stop offset="0.162" stop-color="#bbbbbb"/><stop offset="0.191" stop-color="#b6b6b6"/><stop offset="0.302" stop-color="#c8c8c8"/><stop offset="0.464" stop-color="#b8b8b8"/><stop offset="0.676" stop-color="#cdcdcd"/><stop offset="1.000" stop-color="#cacaca"/></linearGradient><linearGradient id="ha51" x2="0" y2="1"><stop offset="0.000" stop-color="#e2e2e2"/><stop offset="0.076" stop-color="#d9d9d9"/><stop offset="0.158" stop-color="#bbbbbb"/><stop offset="0.191" stop-color="#b5b5b5"/><stop offset="0.302" stop-color="#c7c7c7"/><stop offset="0.464" stop-color="#b8b8b8"/><stop offset="0.676" stop-color="#cccccc"/><stop offset="1.000" stop-color="#cacaca"/></linearGradient><linearGradient id="ha52" x2="0" y2="1"><stop offset="0.000" stop-color="#e3e3e3"/><stop offset="0.076" stop-color="#dbdbdb"/><stop offset="0.158" stop-color="#bdbdbd"/><stop offset="0.191" stop-color="#b8b8b8"/><stop offset="0.302" stop-color="#c9c9c9"/><stop offset="0.460" stop-color="#bcbcbc"/><stop offset="0.676" stop-color="#cfcfcf"/><stop offset="1.000" stop-color="#cdcdcd"/></linearGradient><linearGradient id="ha53" x2="0" y2="1"><stop offset="0.000" stop-color="#e0e0e0"/><stop offset="0.072" stop-color="#d9d9d9"/><stop offset="0.158" stop-color="#bcbcbc"/><stop offset="0.191" stop-color="#b7b7b7"/><stop offset="0.302" stop-color="#c8c8c8"/><stop offset="0.460" stop-color="#bcbcbc"/><stop offset="0.676" stop-color="#cecece"/><stop offset="1.000" stop-color="#cccccc"/></linearGradient><linearGradient id="ha54" x2="0" y2="1"><stop offset="0.000" stop-color="#e2e2e2"/><stop offset="0.072" stop-color="#dadada"/><stop offset="0.155" stop-color="#bfbfbf"/><stop offset="0.187" stop-color="#bababa"/><stop offset="0.302" stop-color="#cacaca"/><stop offset="0.460" stop-color="#bfbfbf"/><stop offset="0.673" stop-color="#d0d0d0"/><stop offset="1.000" stop-color="#cfcfcf"/></linearGradient><linearGradient id="ha55" x2="0" y2="1"><stop offset="0.000" stop-color="#dedede"/><stop offset="0.072" stop-color="#d7d7d7"/><stop offset="0.155" stop-color="#bdbdbd"/><stop offset="0.187" stop-color="#b8b8b8"/><stop offset="0.302" stop-color="#c8c8c8"/><stop offset="0.457" stop-color="#bebebe"/><stop offset="0.673" stop-color="#cecece"/><stop offset="1.000" stop-color="#cdcdcd"/></linearGradient><linearGradient id="ha56" x2="0" y2="1"><stop offset="0.000" stop-color="#e0e0e0"/><stop offset="0.068" stop-color="#d9d9d9"/><stop offset="0.155" stop-color="#bfbfbf"/><stop offset="0.187" stop-color="#bbbbbb"/><stop offset="0.302" stop-color="#cbcbcb"/><stop offset="0.457" stop-color="#c2c2c2"/><stop offset="0.673" stop-color="#d1d1d1"/><stop offset="1.000" stop-color="#d1d1d1"/></linearGradient><linearGradient id="ha57" x2="0" y2="1"><stop offset="0.000" stop-color="#dedede"/><stop offset="0.068" stop-color="#d7d7d7"/><stop offset="0.151" stop-color="#bfbfbf"/><stop offset="0.183" stop-color="#bbbbbb"/><stop offset="0.302" stop-color="#cbcbcb"/><stop offset="0.453" stop-color="#c3c3c3"/><stop offset="0.673" stop-color="#d1d1d1"/><stop offset="1.000" stop-color="#d0d0d0"/></linearGradient><linearGradient id="ha58" x2="0" y2="1"><stop offset="0.000" stop-color="#dcdcdc"/><stop offset="0.065" stop-color="#d6d6d6"/><stop offset="0.151" stop-color="#bebebe"/><stop offset="0.183" stop-color="#bababa"/><stop offset="0.302" stop-color="#c9c9c9"/><stop offset="0.453" stop-color="#c2c2c2"/><stop offset="0.673" stop-color="#d0d0d0"/><stop offset="1.000" stop-color="#d0d0d0"/></linearGradient><linearGradient id="ha59" x2="0" y2="1"><stop offset="0.000" stop-color="#dddddd"/><stop offset="0.065" stop-color="#d6d6d6"/><stop offset="0.151" stop-color="#bfbfbf"/><stop offset="0.183" stop-color="#bbbbbb"/><stop offset="0.302" stop-color="#cbcbcb"/><stop offset="0.453" stop-color="#c5c5c5"/><stop offset="0.669" stop-color="#d1d1d1"/><stop offset="1.000" stop-color="#d2d2d2"/></linearGradient><linearGradient id="ha60" x2="0" y2="1"><stop offset="0.000" stop-color="#dcdcdc"/><stop offset="0.065" stop-color="#d6d6d6"/><stop offset="0.147" stop-color="#c0c0c0"/><stop offset="0.183" stop-color="#bcbcbc"/><stop offset="0.302" stop-color="#cccccc"/><stop offset="0.453" stop-color="#c7c7c7"/><stop offset="0.669" stop-color="#d2d2d2"/><stop offset="1.000" stop-color="#d3d3d3"/></linearGradient></defs>
<g shape-rendering="crispEdges"><rect x="45" y="25" width="3" height="139" fill="url(#ha0)"/><rect x="48" y="25" width="3" height="139" fill="url(#ha1)"/><rect x="51" y="25" width="3" height="139" fill="url(#ha2)"/><rect x="54" y="25" width="3" height="139" fill="url(#ha3)"/><rect x="57" y="25" width="3" height="139" fill="url(#ha4)"/><rect x="60" y="25" width="3" height="139" fill="url(#ha5)"/><rect x="63" y="25" width="3" height="139" fill="url(#ha6)"/><rect x="66" y="25" width="3" height="139" fill="url(#ha7)"/><rect x="69" y="25" width="3" height="139" fill="url(#ha8)"/><rect x="72" y="25" width="3" height="139" fill="url(#ha9)"/><rect x="75" y="25" width="3" height="139" fill="url(#ha10)"/><rect x="78" y="25" width="3" height="139" fill="url(#ha11)"/><rect x="81" y="25" width="3" height="139" fill="url(#ha12)"/><rect x="84" y="25" width="3" height="139" fill="url(#ha13)"/><rect x="87" y="25" width="3" height="139" fill="url(#ha14)"/><rect x="90" y="25" width="3" height="139" fill="url(#ha15)"/><rect x="93" y="25" width="3" height="139" fill="url(#ha16)"/><rect x="96" y="25" width="3" height="139" fill="url(#ha17)"/><rect x="99" y="25" width="3" height="139" fill="url(#ha18)"/><rect x="102" y="25" width="3" height="139" fill="url(#ha19)"/><rect x="105" y="25" width="3" height="139" fill="url(#ha20)"/><rect x="108" y="25" width="3" height="139" fill="url(#ha21)"/><rect x="111" y="25" width="3" height="139" fill="url(#ha22)"/><rect x="114" y="25" width="3" height="139" fill="url(#ha23)"/><rect x="117" y="25" width="3" height="139" fill="url(#ha24)"/><rect x="120" y="25" width="3" height="139" fill="url(#ha25)"/><rect x="123" y="25" width="3" height="139" fill="url(#ha26)"/><rect x="126" y="25" width="3" height="139" fill="url(#ha27)"/><rect x="129" y="25" width="3" height="139" fill="url(#ha28)"/><rect x="132" y="25" width="3" height="139" fill="url(#ha29)"/><rect x="135" y="25" width="3" height="139" fill="url(#ha30)"/><rect x="138" y="25" width="3" height="139" fill="url(#ha31)"/><rect x="141" y="25" width="3" height="139" fill="url(#ha32)"/><rect x="144" y="25" width="3" height="139" fill="url(#ha33)"/><rect x="147" y="25" width="3" height="139" fill="url(#ha34)"/><rect x="150" y="25" width="3" height="139" fill="url(#ha35)"/><rect x="153" y="25" width="3" height="139" fill="url(#ha36)"/><rect x="156" y="25" width="3" height="139" fill="url(#ha37)"/><rect x="159" y="25" width="3" height="139" fill="url(#ha38)"/><rect x="162" y="25" width="3" height="139" fill="url(#ha39)"/><rect x="165" y="25" width="3" height="139" fill="url(#ha40)"/><rect x="168" y="25" width="3" height="139" fill="url(#ha41)"/><rect x="171" y="25" width="3" height="139" fill="url(#ha42)"/><rect x="174" y="25" width="3" height="139" fill="url(#ha43)"/><rect x="177" y="25" width="3" height="139" fill="url(#ha44)"/><rect x="180" y="25" width="3" height="139" fill="url(#ha45)"/><rect x="183" y="25" width="3" height="139" fill="url(#ha46)"/><rect x="186" y="25" width="3" height="139" fill="url(#ha47)"/><rect x="189" y="25" width="3" height="139" fill="url(#ha48)"/><rect x="192" y="25" width="3" height="139" fill="url(#ha49)"/><rect x="195" y="25" width="3" height="139" fill="url(#ha50)"/><rect x="198" y="25" width="3" height="139" fill="url(#ha51)"/><rect x="201" y="25" width="3" height="139" fill="url(#ha52)"/><rect x="204" y="25" width="3" height="139" fill="url(#ha53)"/><rect x="207" y="25" width="3" height="139" fill="url(#ha54)"/><rect x="210" y="25" width="3" height="139" fill="url(#ha55)"/><rect x="213" y="25" width="3" height="139" fill="url(#ha56)"/><rect x="216" y="25" width="3" height="139" fill="url(#ha57)"/><rect x="219" y="25" width="3" height="139" fill="url(#ha58)"/><rect x="222" y="25" width="3" height="139" fill="url(#ha59)"/><rect x="225" y="25" width="2" height="139" fill="url(#ha60)"/></g>
<defs><linearGradient id="hd0" x2="0" y2="1"><stop offset="0.000" stop-color="#b8b8b8"/><stop offset="0.119" stop-color="#a7a7a7"/><stop offset="0.151" stop-color="#9d9d9d"/><stop offset="0.173" stop-color="#939393"/><stop offset="0.191" stop-color="#848484"/><stop offset="0.205" stop-color="#747474"/><stop offset="0.223" stop-color="#5a5a5a"/><stop offset="0.259" stop-color="#191919"/><stop offset="0.270" stop-color="#0c0c0c"/><stop offset="0.281" stop-color="#070707"/><stop offset="0.288" stop-color="#090909"/><stop offset="0.299" stop-color="#141414"/><stop offset="0.338" stop-color="#565656"/><stop offset="0.360" stop-color="#737373"/><stop offset="0.381" stop-color="#858585"/><stop offset="0.406" stop-color="#909090"/><stop offset="0.442" stop-color="#979797"/><stop offset="0.500" stop-color="#9a9a9a"/><stop offset="0.572" stop-color="#999999"/><stop offset="0.612" stop-color="#949494"/><stop offset="0.647" stop-color="#838383"/><stop offset="0.665" stop-color="#737373"/><stop offset="0.705" stop-color="#474747"/><stop offset="0.723" stop-color="#404040"/><stop offset="0.741" stop-color="#4c4c4c"/><stop offset="0.795" stop-color="#939393"/><stop offset="0.827" stop-color="#acacac"/><stop offset="0.874" stop-color="#bfbfbf"/><stop offset="1.000" stop-color="#e1e1e1"/></linearGradient><linearGradient id="hd1" x2="0" y2="1"><stop offset="0.000" stop-color="#b9b9b9"/><stop offset="0.119" stop-color="#a7a7a7"/><stop offset="0.151" stop-color="#9e9e9e"/><stop offset="0.173" stop-color="#949494"/><stop offset="0.191" stop-color="#858585"/><stop offset="0.205" stop-color="#767676"/><stop offset="0.223" stop-color="#5b5b5b"/><stop offset="0.259" stop-color="#1d1d1d"/><stop offset="0.270" stop-color="#101010"/><stop offset="0.281" stop-color="#0b0b0b"/><stop offset="0.288" stop-color="#0d0d0d"/><stop offset="0.299" stop-color="#171717"/><stop offset="0.338" stop-color="#575757"/><stop offset="0.360" stop-color="#737373"/><stop offset="0.381" stop-color="#858585"/><stop offset="0.406" stop-color="#919191"/><stop offset="0.442" stop-color="#979797"/><stop offset="0.500" stop-color="#9a9a9a"/><stop offset="0.572" stop-color="#9a9a9a"/><stop offset="0.612" stop-color="#959595"/><stop offset="0.647" stop-color="#848484"/><stop offset="0.665" stop-color="#747474"/><stop offset="0.705" stop-color="#484848"/><stop offset="0.723" stop-color="#424242"/><stop offset="0.741" stop-color="#4e4e4e"/><stop offset="0.795" stop-color="#949494"/><stop offset="0.827" stop-color="#adadad"/><stop offset="0.874" stop-color="#c0c0c0"/><stop offset="1.000" stop-color="#e2e2e2"/></linearGradient><linearGradient id="hd2" x2="0" y2="1"><stop offset="0.000" stop-color="#b9b9b9"/><stop offset="0.119" stop-color="#a7a7a7"/><stop offset="0.147" stop-color="#9f9f9f"/><stop offset="0.173" stop-color="#939393"/><stop offset="0.205" stop-color="#767676"/><stop offset="0.223" stop-color="#5c5c5c"/><stop offset="0.259" stop-color="#1f1f1f"/><stop offset="0.270" stop-color="#121212"/><stop offset="0.281" stop-color="#0e0e0e"/><stop offset="0.288" stop-color="#0f0f0f"/><stop offset="0.299" stop-color="#191919"/><stop offset="0.338" stop-color="#575757"/><stop offset="0.360" stop-color="#737373"/><stop offset="0.381" stop-color="#858585"/><stop offset="0.406" stop-color="#909090"/><stop offset="0.442" stop-color="#979797"/><stop offset="0.496" stop-color="#9a9a9a"/><stop offset="0.568" stop-color="#999999"/><stop offset="0.608" stop-color="#959595"/><stop offset="0.629" stop-color="#8d8d8d"/><stop offset="0.647" stop-color="#838383"/><stop offset="0.665" stop-color="#737373"/><stop offset="0.701" stop-color="#4b4b4b"/><stop offset="0.712" stop-color="#444444"/><stop offset="0.723" stop-color="#434343"/><stop offset="0.741" stop-color="#4f4f4f"/><stop offset="0.795" stop-color="#949494"/><stop offset="0.827" stop-color="#acacac"/><stop offset="0.874" stop-color="#bfbfbf"/><stop offset="1.000" stop-color="#e1e1e1"/></linearGradient><linearGradient id="hd3" x2="0" y2="1"><stop offset="0.000" stop-color="#b7b7b7"/><stop offset="0.119" stop-color="#a5a5a5"/><stop offset="0.147" stop-color="#9d9d9d"/><stop offset="0.173" stop-color="#919191"/><stop offset="0.205" stop-color="#757575"/><stop offset="0.223" stop-color="#5b5b5b"/><stop offset="0.259" stop-color="#202020"/><stop offset="0.270" stop-color="#141414"/><stop offset="0.281" stop-color="#0f0f0f"/><stop offset="0.291" stop-color="#121212"/><stop offset="0.302" stop-color="#1e1e1e"/><stop offset="0.338" stop-color="#565656"/><stop offset="0.360" stop-color="#717171"/><stop offset="0.381" stop-color="#838383"/><stop offset="0.406" stop-color="#8e8e8e"/><stop offset="0.442" stop-color="#949494"/><stop offset="0.496" stop-color="#979797"/><stop offset="0.568" stop-color="#979797"/><stop offset="0.608" stop-color="#929292"/><stop offset="0.644" stop-color="#838383"/><stop offset="0.665" stop-color="#707070"/><stop offset="0.701" stop-color="#4a4a4a"/><stop offset="0.712" stop-color="#434343"/><stop offset="0.723" stop-color="#424242"/><stop offset="0.741" stop-color="#4e4e4e"/><stop offset="0.795" stop-color="#929292"/><stop offset="0.827" stop-color="#aaaaaa"/><stop offset="0.874" stop-color="#bdbdbd"/><stop offset="1.000" stop-color="#dfdfdf"/></linearGradient><linearGradient id="hd4" x2="0" y2="1"><stop offset="0.000" stop-color="#bababa"/><stop offset="0.119" stop-color="#a8a8a8"/><stop offset="0.147" stop-color="#a0a0a0"/><stop offset="0.173" stop-color="#959595"/><stop offset="0.205" stop-color="#787878"/><stop offset="0.223" stop-color="#606060"/><stop offset="0.259" stop-color="#262626"/><stop offset="0.270" stop-color="#1a1a1a"/><stop offset="0.281" stop-color="#151515"/><stop offset="0.291" stop-color="#181818"/><stop offset="0.302" stop-color="#232323"/><stop offset="0.342" stop-color="#5e5e5e"/><stop offset="0.363" stop-color="#777777"/><stop offset="0.385" stop-color="#888888"/><stop offset="0.410" stop-color="#929292"/><stop offset="0.446" stop-color="#989898"/><stop offset="0.504" stop-color="#9a9a9a"/><stop offset="0.568" stop-color="#9a9a9a"/><stop offset="0.608" stop-color="#959595"/><stop offset="0.647" stop-color="#838383"/><stop offset="0.701" stop-color="#4d4d4d"/><stop offset="0.719" stop-color="#464646"/><stop offset="0.737" stop-color="#4f4f4f"/><stop offset="0.791" stop-color="#919191"/><stop offset="0.827" stop-color="#adadad"/><stop offset="0.874" stop-color="#c0c0c0"/><stop offset="1.000" stop-color="#e2e2e2"/></linearGradient><linearGradient id="hd5" x2="0" y2="1"><stop offset="0.000" stop-color="#bababa"/><stop offset="0.119" stop-color="#a8a8a8"/><stop offset="0.147" stop-color="#a0a0a0"/><stop offset="0.173" stop-color="#949494"/><stop offset="0.205" stop-color="#787878"/><stop offset="0.223" stop-color="#616161"/><stop offset="0.259" stop-color="#282828"/><stop offset="0.270" stop-color="#1c1c1c"/><stop offset="0.281" stop-color="#171717"/><stop offset="0.291" stop-color="#1b1b1b"/><stop offset="0.302" stop-color="#252525"/><stop offset="0.342" stop-color="#5e5e5e"/><stop offset="0.363" stop-color="#777777"/><stop offset="0.385" stop-color="#878787"/><stop offset="0.410" stop-color="#919191"/><stop offset="0.446" stop-color="#979797"/><stop offset="0.504" stop-color="#9a9a9a"/><stop offset="0.568" stop-color="#999999"/><stop offset="0.608" stop-color="#949494"/><stop offset="0.644" stop-color="#848484"/><stop offset="0.701" stop-color="#4e4e4e"/><stop offset="0.719" stop-color="#464646"/><stop offset="0.737" stop-color="#505050"/><stop offset="0.791" stop-color="#919191"/><stop offset="0.827" stop-color="#adadad"/><stop offset="0.874" stop-color="#bfbfbf"/><stop offset="1.000" stop-color="#e1e1e1"/></linearGradient><linearGradient id="hd6" x2="0" y2="1"><stop offset="0.000" stop-color="#b9b9b9"/><stop offset="0.115" stop-color="#a8a8a8"/><stop offset="0.169" stop-color="#969696"/><stop offset="0.191" stop-color="#868686"/><stop offset="0.209" stop-color="#747474"/><stop offset="0.266" stop-color="#222222"/><stop offset="0.277" stop-color="#1a1a1a"/><stop offset="0.284" stop-color="#1a1a1a"/><stop offset="0.302" stop-color="#262626"/><stop offset="0.342" stop-color="#5e5e5e"/><stop offset="0.363" stop-color="#767676"/><stop offset="0.385" stop-color="#868686"/><stop offset="0.410" stop-color="#909090"/><stop offset="0.446" stop-color="#969696"/><stop offset="0.504" stop-color="#999999"/><stop offset="0.568" stop-color="#989898"/><stop offset="0.608" stop-color="#939393"/><stop offset="0.644" stop-color="#838383"/><stop offset="0.701" stop-color="#4d4d4d"/><stop offset="0.719" stop-color="#464646"/><stop offset="0.737" stop-color="#505050"/><stop offset="0.791" stop-color="#909090"/><stop offset="0.827" stop-color="#acacac"/><stop offset="0.874" stop-color="#bebebe"/><stop offset="1.000" stop-color="#e0e0e0"/></linearGradient><linearGradient id="hd7" x2="0" y2="1"><stop offset="0.000" stop-color="#bbbbbb"/><stop offset="0.115" stop-color="#a9a9a9"/><stop offset="0.169" stop-color="#979797"/><stop offset="0.191" stop-color="#888888"/><stop offset="0.209" stop-color="#767676"/><stop offset="0.266" stop-color="#262626"/><stop offset="0.284" stop-color="#1e1e1e"/><stop offset="0.302" stop-color="#2a2a2a"/><stop offset="0.342" stop-color="#606060"/><stop offset="0.363" stop-color="#787878"/><stop offset="0.385" stop-color="#878787"/><stop offset="0.410" stop-color="#919191"/><stop offset="0.496" stop-color="#9a9a9a"/><stop offset="0.565" stop-color="#9a9a9a"/><stop offset="0.604" stop-color="#959595"/><stop offset="0.644" stop-color="#848484"/><stop offset="0.698" stop-color="#525252"/><stop offset="0.709" stop-color="#4b4b4b"/><stop offset="0.719" stop-color="#494949"/><stop offset="0.737" stop-color="#535353"/><stop offset="0.791" stop-color="#929292"/><stop offset="0.827" stop-color="#adadad"/><stop offset="0.874" stop-color="#bfbfbf"/><stop offset="1.000" stop-color="#e2e2e2"/></linearGradient><linearGradient id="hd8" x2="0" y2="1"><stop offset="0.000" stop-color="#bbbbbb"/><stop offset="0.115" stop-color="#a9a9a9"/><stop offset="0.169" stop-color="#989898"/><stop offset="0.191" stop-color="#898989"/><stop offset="0.209" stop-color="#777777"/><stop offset="0.263" stop-color="#2d2d2d"/><stop offset="0.273" stop-color="#242424"/><stop offset="0.284" stop-color="#212121"/><stop offset="0.302" stop-color="#2c2c2c"/><stop offset="0.342" stop-color="#616161"/><stop offset="0.363" stop-color="#787878"/><stop offset="0.385" stop-color="#878787"/><stop offset="0.410" stop-color="#919191"/><stop offset="0.446" stop-color="#979797"/><stop offset="0.500" stop-color="#9a9a9a"/><stop offset="0.565" stop-color="#999999"/><stop offset="0.604" stop-color="#949494"/><stop offset="0.640" stop-color="#868686"/><stop offset="0.662" stop-color="#757575"/><stop offset="0.698" stop-color="#525252"/><stop offset="0.709" stop-color="#4c4c4c"/><stop offset="0.719" stop-color="#4a4a4a"/><stop offset="0.741" stop-color="#585858"/><stop offset="0.795" stop-color="#969696"/><stop offset="0.827" stop-color="#adadad"/><stop offset="0.874" stop-color="#bfbfbf"/><stop offset="1.000" stop-color="#e1e1e1"/></linearGradient><linearGradient id="hd9" x2="0" y2="1"><stop offset="0.000" stop-color="#bbbbbb"/><stop offset="0.115" stop-color="#a9a9a9"/><stop offset="0.169" stop-color="#989898"/><stop offset="0.191" stop-color="#898989"/><stop offset="0.209" stop-color="#787878"/><stop offset="0.266" stop-color="#2c2c2c"/><stop offset="0.284" stop-color="#242424"/><stop offset="0.302" stop-color="#2e2e2e"/><stop offset="0.342" stop-color="#616161"/><stop offset="0.363" stop-color="#777777"/><stop offset="0.385" stop-color="#878787"/><stop offset="0.410" stop-color="#919191"/><stop offset="0.446" stop-color="#979797"/><stop offset="0.496" stop-color="#999999"/><stop offset="0.561" stop-color="#999999"/><stop offset="0.601" stop-color="#959595"/><stop offset="0.640" stop-color="#858585"/><stop offset="0.698" stop-color="#535353"/><stop offset="0.709" stop-color="#4d4d4d"/><stop offset="0.719" stop-color="#4c4c4c"/><stop offset="0.741" stop-color="#5a5a5a"/><stop offset="0.795" stop-color="#969696"/><stop offset="0.827" stop-color="#adadad"/><stop offset="0.874" stop-color="#bfbfbf"/><stop offset="1.000" stop-color="#e1e1e1"/></linearGradient><linearGradient id="hd10" x2="0" y2="1"><stop offset="0.000" stop-color="#bbbbbb"/><stop offset="0.115" stop-color="#a9a9a9"/><stop offset="0.169" stop-color="#989898"/><stop offset="0.191" stop-color="#8a8a8a"/><stop offset="0.209" stop-color="#797979"/><stop offset="0.266" stop-color="#2f2f2f"/><stop offset="0.284" stop-color="#262626"/><stop offset="0.295" stop-color="#292929"/><stop offset="0.306" stop-color="#323232"/><stop offset="0.349" stop-color="#676767"/><stop offset="0.378" stop-color="#818181"/><stop offset="0.410" stop-color="#8f8f8f"/><stop offset="0.450" stop-color="#969696"/><stop offset="0.547" stop-color="#999999"/><stop offset="0.604" stop-color="#929292"/><stop offset="0.644" stop-color="#808080"/><stop offset="0.698" stop-color="#525252"/><stop offset="0.719" stop-color="#4e4e4e"/><stop offset="0.737" stop-color="#595959"/><stop offset="0.791" stop-color="#949494"/><stop offset="0.827" stop-color="#adadad"/><stop offset="0.874" stop-color="#bfbfbf"/><stop offset="1.000" stop-color="#e1e1e1"/></linearGradient><linearGradient id="hd11" x2="0" y2="1"><stop offset="0.000" stop-color="#bcbcbc"/><stop offset="0.115" stop-color="#aaaaaa"/><stop offset="0.169" stop-color="#999999"/><stop offset="0.191" stop-color="#8b8b8b"/><stop offset="0.209" stop-color="#7b7b7b"/><stop offset="0.266" stop-color="#343434"/><stop offset="0.277" stop-color="#2c2c2c"/><stop offset="0.288" stop-color="#2a2a2a"/><stop offset="0.306" stop-color="#343434"/><stop offset="0.353" stop-color="#6a6a6a"/><stop offset="0.378" stop-color="#808080"/><stop offset="0.410" stop-color="#8f8f8f"/><stop offset="0.453" stop-color="#969696"/><stop offset="0.550" stop-color="#999999"/><stop offset="0.604" stop-color="#929292"/><stop offset="0.640" stop-color="#828282"/><stop offset="0.698" stop-color="#535353"/><stop offset="0.716" stop-color="#505050"/><stop offset="0.737" stop-color="#5d5d5d"/><stop offset="0.791" stop-color="#969696"/><stop offset="0.824" stop-color="#adadad"/><stop offset="0.871" stop-color="#bfbfbf"/><stop offset="1.000" stop-color="#e2e2e2"/></linearGradient><linearGradient id="hd12" x2="0" y2="1"><stop offset="0.000" stop-color="#bbbbbb"/><stop offset="0.115" stop-color="#a9a9a9"/><stop offset="0.169" stop-color="#989898"/><stop offset="0.191" stop-color="#8b8b8b"/><stop offset="0.209" stop-color="#7b7b7b"/><stop offset="0.266" stop-color="#353535"/><stop offset="0.277" stop-color="#2d2d2d"/><stop offset="0.288" stop-color="#2b2b2b"/><stop offset="0.299" stop-color="#2e2e2e"/><stop offset="0.309" stop-color="#363636"/><stop offset="0.353" stop-color="#676767"/><stop offset="0.381" stop-color="#7f7f7f"/><stop offset="0.414" stop-color="#8d8d8d"/><stop offset="0.453" stop-color="#949494"/><stop offset="0.547" stop-color="#969696"/><stop offset="0.601" stop-color="#909090"/><stop offset="0.640" stop-color="#7f7f7f"/><stop offset="0.694" stop-color="#545454"/><stop offset="0.716" stop-color="#505050"/><stop offset="0.734" stop-color="#5b5b5b"/><stop offset="0.791" stop-color="#969696"/><stop offset="0.824" stop-color="#acacac"/><stop offset="0.871" stop-color="#bebebe"/><stop offset="1.000" stop-color="#e1e1e1"/></linearGradient><linearGradient id="hd13" x2="0" y2="1"><stop offset="0.000" stop-color="#bcbcbc"/><stop offset="0.115" stop-color="#aaaaaa"/><stop offset="0.169" stop-color="#999999"/><stop offset="0.209" stop-color="#7d7d7d"/><stop offset="0.270" stop-color="#363636"/><stop offset="0.288" stop-color="#2e2e2e"/><stop offset="0.309" stop-color="#383838"/><stop offset="0.356" stop-color="#6a6a6a"/><stop offset="0.385" stop-color="#818181"/><stop offset="0.417" stop-color="#8e8e8e"/><stop offset="0.457" stop-color="#949494"/><stop offset="0.547" stop-color="#979797"/><stop offset="0.601" stop-color="#909090"/><stop offset="0.637" stop-color="#808080"/><stop offset="0.691" stop-color="#575757"/><stop offset="0.712" stop-color="#525252"/><stop offset="0.734" stop-color="#5f5f5f"/><stop offset="0.791" stop-color="#989898"/><stop offset="0.824" stop-color="#adadad"/><stop offset="0.871" stop-color="#bfbfbf"/><stop offset="1.000" stop-color="#e2e2e2"/></linearGradient><linearGradient id="hd14" x2="0" y2="1"><stop offset="0.000" stop-color="#bcbcbc"/><stop offset="0.115" stop-color="#aaaaaa"/><stop offset="0.169" stop-color="#999999"/><stop offset="0.209" stop-color="#7e7e7e"/><stop offset="0.270" stop-color="#393939"/><stop offset="0.281" stop-color="#323232"/><stop offset="0.291" stop-color="#303030"/><stop offset="0.309" stop-color="#393939"/><stop offset="0.356" stop-color="#696969"/><stop offset="0.385" stop-color="#7f7f7f"/><stop offset="0.417" stop-color="#8d8d8d"/><stop offset="0.460" stop-color="#949494"/><stop offset="0.547" stop-color="#969696"/><stop offset="0.597" stop-color="#909090"/><stop offset="0.633" stop-color="#818181"/><stop offset="0.691" stop-color="#575757"/><stop offset="0.712" stop-color="#545454"/><stop offset="0.734" stop-color="#616161"/><stop offset="0.788" stop-color="#969696"/><stop offset="0.824" stop-color="#adadad"/><stop offset="0.871" stop-color="#bfbfbf"/><stop offset="1.000" stop-color="#e2e2e2"/></linearGradient><linearGradient id="hd15" x2="0" y2="1"><stop offset="0.000" stop-color="#bebebe"/><stop offset="0.115" stop-color="#acacac"/><stop offset="0.169" stop-color="#9b9b9b"/><stop offset="0.191" stop-color="#8f8f8f"/><stop offset="0.212" stop-color="#7d7d7d"/><stop offset="0.270" stop-color="#3e3e3e"/><stop offset="0.291" stop-color="#343434"/><stop offset="0.313" stop-color="#3e3e3e"/><stop offset="0.360" stop-color="#6d6d6d"/><stop offset="0.388" stop-color="#818181"/><stop offset="0.421" stop-color="#8e8e8e"/><stop offset="0.460" stop-color="#949494"/><stop offset="0.543" stop-color="#969696"/><stop offset="0.594" stop-color="#919191"/><stop offset="0.633" stop-color="#818181"/><stop offset="0.687" stop-color="#5b5b5b"/><stop offset="0.709" stop-color="#575757"/><stop offset="0.730" stop-color="#636363"/><stop offset="0.788" stop-color="#999999"/><stop offset="0.824" stop-color="#b0b0b0"/><stop offset="0.871" stop-color="#c1c1c1"/><stop offset="1.000" stop-color="#e3e3e3"/></linearGradient><linearGradient id="hd16" x2="0" y2="1"><stop offset="0.000" stop-color="#bebebe"/><stop offset="0.115" stop-color="#acacac"/><stop offset="0.169" stop-color="#9b9b9b"/><stop offset="0.191" stop-color="#8f8f8f"/><stop offset="0.212" stop-color="#7e7e7e"/><stop offset="0.273" stop-color="#3e3e3e"/><stop offset="0.295" stop-color="#363636"/><stop offset="0.313" stop-color="#3e3e3e"/><stop offset="0.360" stop-color="#6b6b6b"/><stop offset="0.388" stop-color="#808080"/><stop offset="0.421" stop-color="#8d8d8d"/><stop offset="0.464" stop-color="#939393"/><stop offset="0.543" stop-color="#959595"/><stop offset="0.594" stop-color="#8f8f8f"/><stop offset="0.629" stop-color="#818181"/><stop offset="0.687" stop-color="#5b5b5b"/><stop offset="0.709" stop-color="#585858"/><stop offset="0.730" stop-color="#656565"/><stop offset="0.788" stop-color="#9a9a9a"/><stop offset="0.820" stop-color="#aeaeae"/><stop offset="0.867" stop-color="#bfbfbf"/><stop offset="1.000" stop-color="#e3e3e3"/></linearGradient><linearGradient id="hd17" x2="0" y2="1"><stop offset="0.000" stop-color="#bebebe"/><stop offset="0.115" stop-color="#acacac"/><stop offset="0.169" stop-color="#9b9b9b"/><stop offset="0.212" stop-color="#7f7f7f"/><stop offset="0.273" stop-color="#404040"/><stop offset="0.295" stop-color="#383838"/><stop offset="0.317" stop-color="#424242"/><stop offset="0.363" stop-color="#6d6d6d"/><stop offset="0.392" stop-color="#808080"/><stop offset="0.424" stop-color="#8c8c8c"/><stop offset="0.464" stop-color="#929292"/><stop offset="0.540" stop-color="#949494"/><stop offset="0.590" stop-color="#8f8f8f"/><stop offset="0.626" stop-color="#818181"/><stop offset="0.683" stop-color="#5d5d5d"/><stop offset="0.705" stop-color="#595959"/><stop offset="0.723" stop-color="#626262"/><stop offset="0.781" stop-color="#959595"/><stop offset="0.820" stop-color="#aeaeae"/><stop offset="0.867" stop-color="#bfbfbf"/><stop offset="1.000" stop-color="#e3e3e3"/></linearGradient><linearGradient id="hd18" x2="0" y2="1"><stop offset="0.000" stop-color="#bebebe"/><stop offset="0.115" stop-color="#ababab"/><stop offset="0.169" stop-color="#9b9b9b"/><stop offset="0.212" stop-color="#808080"/><stop offset="0.273" stop-color="#434343"/><stop offset="0.295" stop-color="#3a3a3a"/><stop offset="0.317" stop-color="#424242"/><stop offset="0.367" stop-color="#6e6e6e"/><stop offset="0.396" stop-color="#808080"/><stop offset="0.428" stop-color="#8b8b8b"/><stop offset="0.468" stop-color="#919191"/><stop offset="0.543" stop-color="#939393"/><stop offset="0.590" stop-color="#8d8d8d"/><stop offset="0.626" stop-color="#808080"/><stop offset="0.680" stop-color="#5e5e5e"/><stop offset="0.705" stop-color="#5b5b5b"/><stop offset="0.727" stop-color="#666666"/><stop offset="0.784" stop-color="#999999"/><stop offset="0.820" stop-color="#aeaeae"/><stop offset="0.867" stop-color="#bfbfbf"/><stop offset="1.000" stop-color="#e2e2e2"/></linearGradient><linearGradient id="hd19" x2="0" y2="1"><stop offset="0.000" stop-color="#bfbfbf"/><stop offset="0.115" stop-color="#acacac"/><stop offset="0.169" stop-color="#9c9c9c"/><stop offset="0.212" stop-color="#828282"/><stop offset="0.273" stop-color="#474747"/><stop offset="0.288" stop-color="#3f3f3f"/><stop offset="0.299" stop-color="#3e3e3e"/><stop offset="0.320" stop-color="#474747"/><stop offset="0.367" stop-color="#6e6e6e"/><stop offset="0.396" stop-color="#808080"/><stop offset="0.428" stop-color="#8b8b8b"/><stop offset="0.471" stop-color="#919191"/><stop offset="0.540" stop-color="#939393"/><stop offset="0.586" stop-color="#8e8e8e"/><stop offset="0.622" stop-color="#818181"/><stop offset="0.680" stop-color="#5f5f5f"/><stop offset="0.701" stop-color="#5d5d5d"/><stop offset="0.719" stop-color="#656565"/><stop offset="0.781" stop-color="#989898"/><stop offset="0.820" stop-color="#afafaf"/><stop offset="0.867" stop-color="#c0c0c0"/><stop offset="1.000" stop-color="#e3e3e3"/></linearGradient><linearGradient id="hd20" x2="0" y2="1"><stop offset="0.000" stop-color="#c0c0c0"/><stop offset="0.112" stop-color="#aeaeae"/><stop offset="0.169" stop-color="#9d9d9d"/><stop offset="0.212" stop-color="#838383"/><stop offset="0.277" stop-color="#474747"/><stop offset="0.299" stop-color="#3f3f3f"/><stop offset="0.320" stop-color="#464646"/><stop offset="0.371" stop-color="#6e6e6e"/><stop offset="0.399" stop-color="#7f7f7f"/><stop offset="0.432" stop-color="#8a8a8a"/><stop offset="0.475" stop-color="#909090"/><stop offset="0.540" stop-color="#929292"/><stop offset="0.583" stop-color="#8c8c8c"/><stop offset="0.619" stop-color="#808080"/><stop offset="0.673" stop-color="#626262"/><stop offset="0.698" stop-color="#5e5e5e"/><stop offset="0.719" stop-color="#686868"/><stop offset="0.777" stop-color="#989898"/><stop offset="0.817" stop-color="#afafaf"/><stop offset="0.867" stop-color="#c1c1c1"/><stop offset="1.000" stop-color="#e4e4e4"/></linearGradient><linearGradient id="hd21" x2="0" y2="1"><stop offset="0.000" stop-color="#c0c0c0"/><stop offset="0.112" stop-color="#aeaeae"/><stop offset="0.169" stop-color="#9d9d9d"/><stop offset="0.212" stop-color="#838383"/><stop offset="0.277" stop-color="#494949"/><stop offset="0.302" stop-color="#404040"/><stop offset="0.324" stop-color="#474747"/><stop offset="0.374" stop-color="#6d6d6d"/><stop offset="0.403" stop-color="#7e7e7e"/><stop offset="0.435" stop-color="#898989"/><stop offset="0.475" stop-color="#8e8e8e"/><stop offset="0.536" stop-color="#909090"/><stop offset="0.579" stop-color="#8a8a8a"/><stop offset="0.612" stop-color="#808080"/><stop offset="0.669" stop-color="#616161"/><stop offset="0.694" stop-color="#5f5f5f"/><stop offset="0.716" stop-color="#696969"/><stop offset="0.781" stop-color="#9c9c9c"/><stop offset="0.817" stop-color="#b0b0b0"/><stop offset="0.867" stop-color="#c1c1c1"/><stop offset="1.000" stop-color="#e4e4e4"/></linearGradient><linearGradient id="hd22" x2="0" y2="1"><stop offset="0.000" stop-color="#c3c3c3"/><stop offset="0.112" stop-color="#b0b0b0"/><stop offset="0.169" stop-color="#9f9f9f"/><stop offset="0.212" stop-color="#868686"/><stop offset="0.277" stop-color="#4d4d4d"/><stop offset="0.291" stop-color="#454545"/><stop offset="0.306" stop-color="#434343"/><stop offset="0.327" stop-color="#4b4b4b"/><stop offset="0.378" stop-color="#6f6f6f"/><stop offset="0.406" stop-color="#7f7f7f"/><stop offset="0.439" stop-color="#898989"/><stop offset="0.478" stop-color="#8f8f8f"/><stop offset="0.532" stop-color="#909090"/><stop offset="0.572" stop-color="#8c8c8c"/><stop offset="0.608" stop-color="#808080"/><stop offset="0.665" stop-color="#646464"/><stop offset="0.691" stop-color="#626262"/><stop offset="0.716" stop-color="#6e6e6e"/><stop offset="0.777" stop-color="#9e9e9e"/><stop offset="0.817" stop-color="#b3b3b3"/><stop offset="0.867" stop-color="#c4c4c4"/><stop offset="1.000" stop-color="#e7e7e7"/></linearGradient><linearGradient id="hd23" x2="0" y2="1"><stop offset="0.000" stop-color="#c3c3c3"/><stop offset="0.112" stop-color="#b0b0b0"/><stop offset="0.169" stop-color="#9f9f9f"/><stop offset="0.212" stop-color="#868686"/><stop offset="0.281" stop-color="#4c4c4c"/><stop offset="0.306" stop-color="#444444"/><stop offset="0.331" stop-color="#4c4c4c"/><stop offset="0.381" stop-color="#6f6f6f"/><stop offset="0.410" stop-color="#7e7e7e"/><stop offset="0.442" stop-color="#888888"/><stop offset="0.482" stop-color="#8d8d8d"/><stop offset="0.529" stop-color="#8e8e8e"/><stop offset="0.568" stop-color="#8a8a8a"/><stop offset="0.601" stop-color="#808080"/><stop offset="0.658" stop-color="#656565"/><stop offset="0.687" stop-color="#626262"/><stop offset="0.712" stop-color="#6f6f6f"/><stop offset="0.777" stop-color="#9f9f9f"/><stop offset="0.813" stop-color="#b2b2b2"/><stop offset="0.863" stop-color="#c3c3c3"/><stop offset="1.000" stop-color="#e7e7e7"/></linearGradient><linearGradient id="hd24" x2="0" y2="1"><stop offset="0.000" stop-color="#bfbfbf"/><stop offset="0.108" stop-color="#acacac"/><stop offset="0.165" stop-color="#9c9c9c"/><stop offset="0.212" stop-color="#828282"/><stop offset="0.281" stop-color="#4a4a4a"/><stop offset="0.295" stop-color="#424242"/><stop offset="0.309" stop-color="#404040"/><stop offset="0.331" stop-color="#474747"/><stop offset="0.385" stop-color="#696969"/><stop offset="0.414" stop-color="#787878"/><stop offset="0.446" stop-color="#818181"/><stop offset="0.482" stop-color="#878787"/><stop offset="0.525" stop-color="#878787"/><stop offset="0.565" stop-color="#838383"/><stop offset="0.597" stop-color="#797979"/><stop offset="0.655" stop-color="#606060"/><stop offset="0.683" stop-color="#5f5f5f"/><stop offset="0.709" stop-color="#6b6b6b"/><stop offset="0.773" stop-color="#9a9a9a"/><stop offset="0.813" stop-color="#aeaeae"/><stop offset="0.863" stop-color="#bfbfbf"/><stop offset="1.000" stop-color="#e2e2e2"/></linearGradient><linearGradient id="hd25" x2="0" y2="1"><stop offset="0.000" stop-color="#c1c1c1"/><stop offset="0.108" stop-color="#aeaeae"/><stop offset="0.165" stop-color="#9d9d9d"/><stop offset="0.212" stop-color="#848484"/><stop offset="0.284" stop-color="#4a4a4a"/><stop offset="0.313" stop-color="#424242"/><stop offset="0.335" stop-color="#494949"/><stop offset="0.414" stop-color="#767676"/><stop offset="0.446" stop-color="#808080"/><stop offset="0.482" stop-color="#868686"/><stop offset="0.558" stop-color="#838383"/><stop offset="0.590" stop-color="#7a7a7a"/><stop offset="0.651" stop-color="#616161"/><stop offset="0.680" stop-color="#616161"/><stop offset="0.705" stop-color="#6d6d6d"/><stop offset="0.770" stop-color="#9b9b9b"/><stop offset="0.809" stop-color="#afafaf"/><stop offset="0.860" stop-color="#c0c0c0"/><stop offset="1.000" stop-color="#e4e4e4"/></linearGradient><linearGradient id="hd26" x2="0" y2="1"><stop offset="0.000" stop-color="#c3c3c3"/><stop offset="0.104" stop-color="#b1b1b1"/><stop offset="0.165" stop-color="#9f9f9f"/><stop offset="0.212" stop-color="#868686"/><stop offset="0.284" stop-color="#4f4f4f"/><stop offset="0.313" stop-color="#464646"/><stop offset="0.338" stop-color="#4c4c4c"/><stop offset="0.417" stop-color="#787878"/><stop offset="0.482" stop-color="#868686"/><stop offset="0.554" stop-color="#838383"/><stop offset="0.586" stop-color="#7b7b7b"/><stop offset="0.647" stop-color="#646464"/><stop offset="0.676" stop-color="#646464"/><stop offset="0.701" stop-color="#707070"/><stop offset="0.770" stop-color="#9f9f9f"/><stop offset="0.809" stop-color="#b2b2b2"/><stop offset="0.860" stop-color="#c2c2c2"/><stop offset="1.000" stop-color="#e7e7e7"/></linearGradient><linearGradient id="hd27" x2="0" y2="1"><stop offset="0.000" stop-color="#c4c4c4"/><stop offset="0.104" stop-color="#b1b1b1"/><stop offset="0.165" stop-color="#9f9f9f"/><stop offset="0.212" stop-color="#878787"/><stop offset="0.284" stop-color="#505050"/><stop offset="0.302" stop-color="#484848"/><stop offset="0.317" stop-color="#464646"/><stop offset="0.342" stop-color="#4d4d4d"/><stop offset="0.421" stop-color="#767676"/><stop offset="0.482" stop-color="#848484"/><stop offset="0.550" stop-color="#818181"/><stop offset="0.640" stop-color="#656565"/><stop offset="0.669" stop-color="#636363"/><stop offset="0.694" stop-color="#6e6e6e"/><stop offset="0.759" stop-color="#9a9a9a"/><stop offset="0.806" stop-color="#b1b1b1"/><stop offset="0.860" stop-color="#c3c3c3"/><stop offset="1.000" stop-color="#e7e7e7"/></linearGradient><linearGradient id="hd28" x2="0" y2="1"><stop offset="0.000" stop-color="#c5c5c5"/><stop offset="0.104" stop-color="#b3b3b3"/><stop offset="0.165" stop-color="#a1a1a1"/><stop offset="0.212" stop-color="#888888"/><stop offset="0.288" stop-color="#515151"/><stop offset="0.306" stop-color="#494949"/><stop offset="0.320" stop-color="#484848"/><stop offset="0.345" stop-color="#4f4f4f"/><stop offset="0.424" stop-color="#767676"/><stop offset="0.482" stop-color="#838383"/><stop offset="0.547" stop-color="#808080"/><stop offset="0.637" stop-color="#666666"/><stop offset="0.665" stop-color="#656565"/><stop offset="0.691" stop-color="#6f6f6f"/><stop offset="0.759" stop-color="#9c9c9c"/><stop offset="0.806" stop-color="#b3b3b3"/><stop offset="1.000" stop-color="#e8e8e8"/></linearGradient><linearGradient id="hd29" x2="0" y2="1"><stop offset="0.000" stop-color="#c6c6c6"/><stop offset="0.104" stop-color="#b3b3b3"/><stop offset="0.165" stop-color="#a1a1a1"/><stop offset="0.212" stop-color="#898989"/><stop offset="0.288" stop-color="#535353"/><stop offset="0.320" stop-color="#494949"/><stop offset="0.345" stop-color="#4f4f4f"/><stop offset="0.428" stop-color="#757575"/><stop offset="0.482" stop-color="#818181"/><stop offset="0.540" stop-color="#7f7f7f"/><stop offset="0.629" stop-color="#666666"/><stop offset="0.662" stop-color="#666666"/><stop offset="0.687" stop-color="#707070"/><stop offset="0.755" stop-color="#9c9c9c"/><stop offset="0.802" stop-color="#b2b2b2"/><stop offset="0.856" stop-color="#c4c4c4"/><stop offset="1.000" stop-color="#e9e9e9"/></linearGradient><linearGradient id="hd30" x2="0" y2="1"><stop offset="0.000" stop-color="#c9c9c9"/><stop offset="0.101" stop-color="#b7b7b7"/><stop offset="0.162" stop-color="#a5a5a5"/><stop offset="0.212" stop-color="#8c8c8c"/><stop offset="0.291" stop-color="#565656"/><stop offset="0.309" stop-color="#4e4e4e"/><stop offset="0.327" stop-color="#4d4d4d"/><stop offset="0.353" stop-color="#535353"/><stop offset="0.432" stop-color="#757575"/><stop offset="0.482" stop-color="#7f7f7f"/><stop offset="0.532" stop-color="#7f7f7f"/><stop offset="0.626" stop-color="#686868"/><stop offset="0.658" stop-color="#6a6a6a"/><stop offset="0.683" stop-color="#747474"/><stop offset="0.759" stop-color="#a3a3a3"/><stop offset="0.802" stop-color="#b6b6b6"/><stop offset="1.000" stop-color="#ececec"/></linearGradient><linearGradient id="hd31" x2="0" y2="1"><stop offset="0.000" stop-color="#c5c5c5"/><stop offset="0.097" stop-color="#b4b4b4"/><stop offset="0.162" stop-color="#a1a1a1"/><stop offset="0.212" stop-color="#898989"/><stop offset="0.295" stop-color="#525252"/><stop offset="0.313" stop-color="#4b4b4b"/><stop offset="0.331" stop-color="#494949"/><stop offset="0.356" stop-color="#4e4e4e"/><stop offset="0.435" stop-color="#6d6d6d"/><stop offset="0.482" stop-color="#777777"/><stop offset="0.536" stop-color="#767676"/><stop offset="0.622" stop-color="#646464"/><stop offset="0.651" stop-color="#666666"/><stop offset="0.680" stop-color="#727272"/><stop offset="0.755" stop-color="#9f9f9f"/><stop offset="0.799" stop-color="#b2b2b2"/><stop offset="0.856" stop-color="#c4c4c4"/><stop offset="1.000" stop-color="#e8e8e8"/></linearGradient><linearGradient id="hd32" x2="0" y2="1"><stop offset="0.000" stop-color="#c7c7c7"/><stop offset="0.097" stop-color="#b5b5b5"/><stop offset="0.162" stop-color="#a3a3a3"/><stop offset="0.212" stop-color="#8b8b8b"/><stop offset="0.299" stop-color="#545454"/><stop offset="0.320" stop-color="#4c4c4c"/><stop offset="0.338" stop-color="#4b4b4b"/><stop offset="0.363" stop-color="#505050"/><stop offset="0.439" stop-color="#6b6b6b"/><stop offset="0.482" stop-color="#737373"/><stop offset="0.532" stop-color="#737373"/><stop offset="0.615" stop-color="#656565"/><stop offset="0.644" stop-color="#676767"/><stop offset="0.673" stop-color="#737373"/><stop offset="0.752" stop-color="#a1a1a1"/><stop offset="0.795" stop-color="#b4b4b4"/><stop offset="0.856" stop-color="#c6c6c6"/><stop offset="1.000" stop-color="#eaeaea"/></linearGradient><linearGradient id="hd33" x2="0" y2="1"><stop offset="0.000" stop-color="#cbcbcb"/><stop offset="0.094" stop-color="#bababa"/><stop offset="0.158" stop-color="#a8a8a8"/><stop offset="0.212" stop-color="#8f8f8f"/><stop offset="0.302" stop-color="#585858"/><stop offset="0.324" stop-color="#505050"/><stop offset="0.342" stop-color="#4e4e4e"/><stop offset="0.371" stop-color="#535353"/><stop offset="0.442" stop-color="#6b6b6b"/><stop offset="0.482" stop-color="#727272"/><stop offset="0.529" stop-color="#727272"/><stop offset="0.604" stop-color="#686868"/><stop offset="0.637" stop-color="#6b6b6b"/><stop offset="0.665" stop-color="#767676"/><stop offset="0.748" stop-color="#a5a5a5"/><stop offset="0.795" stop-color="#b8b8b8"/><stop offset="0.856" stop-color="#cbcbcb"/><stop offset="1.000" stop-color="#ededed"/></linearGradient><linearGradient id="hd34" x2="0" y2="1"><stop offset="0.000" stop-color="#cacaca"/><stop offset="0.094" stop-color="#b9b9b9"/><stop offset="0.158" stop-color="#a7a7a7"/><stop offset="0.212" stop-color="#8f8f8f"/><stop offset="0.306" stop-color="#565656"/><stop offset="0.327" stop-color="#4f4f4f"/><stop offset="0.349" stop-color="#4d4d4d"/><stop offset="0.482" stop-color="#6c6c6c"/><stop offset="0.525" stop-color="#6c6c6c"/><stop offset="0.597" stop-color="#656565"/><stop offset="0.629" stop-color="#696969"/><stop offset="0.662" stop-color="#767676"/><stop offset="0.745" stop-color="#a3a3a3"/><stop offset="0.791" stop-color="#b7b7b7"/><stop offset="0.856" stop-color="#cacaca"/><stop offset="1.000" stop-color="#ececec"/></linearGradient><linearGradient id="hd35" x2="0" y2="1"><stop offset="0.000" stop-color="#cacaca"/><stop offset="0.090" stop-color="#bababa"/><stop offset="0.155" stop-color="#a8a8a8"/><stop offset="0.212" stop-color="#8f8f8f"/><stop offset="0.309" stop-color="#575757"/><stop offset="0.335" stop-color="#4e4e4e"/><stop offset="0.356" stop-color="#4d4d4d"/><stop offset="0.482" stop-color="#676767"/><stop offset="0.590" stop-color="#656565"/><stop offset="0.622" stop-color="#696969"/><stop offset="0.655" stop-color="#757575"/><stop offset="0.741" stop-color="#a4a4a4"/><stop offset="0.791" stop-color="#b9b9b9"/><stop offset="0.856" stop-color="#cbcbcb"/><stop offset="1.000" stop-color="#ededed"/></linearGradient><linearGradient id="hd36" x2="0" y2="1"><stop offset="0.000" stop-color="#c9c9c9"/><stop offset="0.090" stop-color="#b9b9b9"/><stop offset="0.155" stop-color="#a8a8a8"/><stop offset="0.212" stop-color="#8f8f8f"/><stop offset="0.313" stop-color="#565656"/><stop offset="0.338" stop-color="#4d4d4d"/><stop offset="0.363" stop-color="#4c4c4c"/><stop offset="0.478" stop-color="#616161"/><stop offset="0.583" stop-color="#626262"/><stop offset="0.612" stop-color="#666666"/><stop offset="0.644" stop-color="#717171"/><stop offset="0.730" stop-color="#a0a0a0"/><stop offset="0.788" stop-color="#b7b7b7"/><stop offset="0.856" stop-color="#cbcbcb"/><stop offset="1.000" stop-color="#ececec"/></linearGradient><linearGradient id="hd37" x2="0" y2="1"><stop offset="0.000" stop-color="#c9c9c9"/><stop offset="0.086" stop-color="#b9b9b9"/><stop offset="0.155" stop-color="#a7a7a7"/><stop offset="0.216" stop-color="#8d8d8d"/><stop offset="0.317" stop-color="#555555"/><stop offset="0.342" stop-color="#4c4c4c"/><stop offset="0.371" stop-color="#4a4a4a"/><stop offset="0.478" stop-color="#5b5b5b"/><stop offset="0.572" stop-color="#5f5f5f"/><stop offset="0.604" stop-color="#646464"/><stop offset="0.637" stop-color="#6f6f6f"/><stop offset="0.727" stop-color="#9f9f9f"/><stop offset="0.784" stop-color="#b6b6b6"/><stop offset="0.856" stop-color="#cbcbcb"/><stop offset="1.000" stop-color="#ebebeb"/></linearGradient><linearGradient id="hd38" x2="0" y2="1"><stop offset="0.000" stop-color="#cccccc"/><stop offset="0.086" stop-color="#bdbdbd"/><stop offset="0.151" stop-color="#ababab"/><stop offset="0.212" stop-color="#929292"/><stop offset="0.320" stop-color="#575757"/><stop offset="0.349" stop-color="#4e4e4e"/><stop offset="0.378" stop-color="#4c4c4c"/><stop offset="0.597" stop-color="#656565"/><stop offset="0.633" stop-color="#737373"/><stop offset="0.730" stop-color="#a5a5a5"/><stop offset="0.784" stop-color="#bababa"/><stop offset="0.856" stop-color="#cecece"/><stop offset="1.000" stop-color="#eeeeee"/></linearGradient><linearGradient id="hd39" x2="0" y2="1"><stop offset="0.000" stop-color="#cccccc"/><stop offset="0.083" stop-color="#bebebe"/><stop offset="0.147" stop-color="#adadad"/><stop offset="0.212" stop-color="#939393"/><stop offset="0.327" stop-color="#575757"/><stop offset="0.356" stop-color="#4f4f4f"/><stop offset="0.388" stop-color="#4d4d4d"/><stop offset="0.586" stop-color="#656565"/><stop offset="0.622" stop-color="#717171"/><stop offset="0.719" stop-color="#a3a3a3"/><stop offset="0.781" stop-color="#bbbbbb"/><stop offset="0.856" stop-color="#d0d0d0"/><stop offset="1.000" stop-color="#eeeeee"/></linearGradient><linearGradient id="hd40" x2="0" y2="1"><stop offset="0.000" stop-color="#cccccc"/><stop offset="0.083" stop-color="#bebebe"/><stop offset="0.147" stop-color="#adadad"/><stop offset="0.212" stop-color="#949494"/><stop offset="0.331" stop-color="#575757"/><stop offset="0.363" stop-color="#4e4e4e"/><stop offset="0.399" stop-color="#4c4c4c"/><stop offset="0.576" stop-color="#636363"/><stop offset="0.615" stop-color="#717171"/><stop offset="0.712" stop-color="#a1a1a1"/><stop offset="0.777" stop-color="#bbbbbb"/><stop offset="0.856" stop-color="#d0d0d0"/><stop offset="1.000" stop-color="#ededed"/></linearGradient><linearGradient id="hd41" x2="0" y2="1"><stop offset="0.000" stop-color="#cdcdcd"/><stop offset="0.079" stop-color="#c1c1c1"/><stop offset="0.144" stop-color="#b0b0b0"/><stop offset="0.212" stop-color="#969696"/><stop offset="0.335" stop-color="#5a5a5a"/><stop offset="0.371" stop-color="#505050"/><stop offset="0.410" stop-color="#4e4e4e"/><stop offset="0.507" stop-color="#595959"/><stop offset="0.565" stop-color="#636363"/><stop offset="0.604" stop-color="#717171"/><stop offset="0.712" stop-color="#a6a6a6"/><stop offset="0.777" stop-color="#bebebe"/><stop offset="0.860" stop-color="#d4d4d4"/><stop offset="1.000" stop-color="#eeeeee"/></linearGradient><linearGradient id="hd42" x2="0" y2="1"><stop offset="0.000" stop-color="#cfcfcf"/><stop offset="0.079" stop-color="#c3c3c3"/><stop offset="0.144" stop-color="#b3b3b3"/><stop offset="0.212" stop-color="#999999"/><stop offset="0.338" stop-color="#5d5d5d"/><stop offset="0.378" stop-color="#525252"/><stop offset="0.417" stop-color="#505050"/><stop offset="0.493" stop-color="#585858"/><stop offset="0.554" stop-color="#646464"/><stop offset="0.597" stop-color="#737373"/><stop offset="0.705" stop-color="#a7a7a7"/><stop offset="0.773" stop-color="#c1c1c1"/><stop offset="0.860" stop-color="#d7d7d7"/><stop offset="1.000" stop-color="#f0f0f0"/></linearGradient><linearGradient id="hd43" x2="0" y2="1"><stop offset="0.000" stop-color="#cecece"/><stop offset="0.076" stop-color="#c4c4c4"/><stop offset="0.140" stop-color="#b4b4b4"/><stop offset="0.209" stop-color="#9c9c9c"/><stop offset="0.345" stop-color="#5c5c5c"/><stop offset="0.385" stop-color="#535353"/><stop offset="0.428" stop-color="#515151"/><stop offset="0.500" stop-color="#595959"/><stop offset="0.561" stop-color="#686868"/><stop offset="0.712" stop-color="#acacac"/><stop offset="0.791" stop-color="#c7c7c7"/><stop offset="0.871" stop-color="#dadada"/><stop offset="1.000" stop-color="#efefef"/></linearGradient><linearGradient id="hd44" x2="0" y2="1"><stop offset="0.000" stop-color="#d0d0d0"/><stop offset="0.076" stop-color="#c6c6c6"/><stop offset="0.140" stop-color="#b7b7b7"/><stop offset="0.209" stop-color="#9f9f9f"/><stop offset="0.349" stop-color="#5f5f5f"/><stop offset="0.388" stop-color="#565656"/><stop offset="0.432" stop-color="#535353"/><stop offset="0.496" stop-color="#5b5b5b"/><stop offset="0.554" stop-color="#696969"/><stop offset="0.705" stop-color="#aeaeae"/><stop offset="0.784" stop-color="#c9c9c9"/><stop offset="0.867" stop-color="#dcdcdc"/><stop offset="1.000" stop-color="#f1f1f1"/></linearGradient><linearGradient id="hd45" x2="0" y2="1"><stop offset="0.000" stop-color="#d1d1d1"/><stop offset="0.076" stop-color="#c8c8c8"/><stop offset="0.140" stop-color="#b9b9b9"/><stop offset="0.209" stop-color="#a1a1a1"/><stop offset="0.349" stop-color="#626262"/><stop offset="0.392" stop-color="#585858"/><stop offset="0.435" stop-color="#555555"/><stop offset="0.493" stop-color="#5c5c5c"/><stop offset="0.547" stop-color="#6a6a6a"/><stop offset="0.701" stop-color="#afafaf"/><stop offset="0.781" stop-color="#cbcbcb"/><stop offset="0.867" stop-color="#dedede"/><stop offset="1.000" stop-color="#f2f2f2"/></linearGradient><linearGradient id="hd46" x2="0" y2="1"><stop offset="0.000" stop-color="#d2d2d2"/><stop offset="0.076" stop-color="#c8c8c8"/><stop offset="0.140" stop-color="#b9b9b9"/><stop offset="0.209" stop-color="#a1a1a1"/><stop offset="0.353" stop-color="#626262"/><stop offset="0.396" stop-color="#585858"/><stop offset="0.439" stop-color="#565656"/><stop offset="0.493" stop-color="#5c5c5c"/><stop offset="0.543" stop-color="#696969"/><stop offset="0.701" stop-color="#b0b0b0"/><stop offset="0.781" stop-color="#cbcbcb"/><stop offset="0.867" stop-color="#dedede"/><stop offset="1.000" stop-color="#f2f2f2"/></linearGradient><linearGradient id="hd47" x2="0" y2="1"><stop offset="0.000" stop-color="#d1d1d1"/><stop offset="0.076" stop-color="#c8c8c8"/><stop offset="0.140" stop-color="#b9b9b9"/><stop offset="0.209" stop-color="#a1a1a1"/><stop offset="0.353" stop-color="#626262"/><stop offset="0.396" stop-color="#585858"/><stop offset="0.439" stop-color="#555555"/><stop offset="0.489" stop-color="#5b5b5b"/><stop offset="0.543" stop-color="#696969"/><stop offset="0.698" stop-color="#afafaf"/><stop offset="0.777" stop-color="#cacaca"/><stop offset="0.867" stop-color="#dedede"/><stop offset="1.000" stop-color="#f1f1f1"/></linearGradient><linearGradient id="hd48" x2="0" y2="1"><stop offset="0.000" stop-color="#d3d3d3"/><stop offset="0.076" stop-color="#cacaca"/><stop offset="0.140" stop-color="#bbbbbb"/><stop offset="0.209" stop-color="#a3a3a3"/><stop offset="0.353" stop-color="#656565"/><stop offset="0.396" stop-color="#5a5a5a"/><stop offset="0.439" stop-color="#575757"/><stop offset="0.489" stop-color="#5d5d5d"/><stop offset="0.540" stop-color="#6b6b6b"/><stop offset="0.698" stop-color="#b1b1b1"/><stop offset="0.777" stop-color="#cccccc"/><stop offset="0.867" stop-color="#e0e0e0"/><stop offset="1.000" stop-color="#f3f3f3"/></linearGradient><linearGradient id="hd49" x2="0" y2="1"><stop offset="0.000" stop-color="#d4d4d4"/><stop offset="0.072" stop-color="#cbcbcb"/><stop offset="0.137" stop-color="#bdbdbd"/><stop offset="0.205" stop-color="#a6a6a6"/><stop offset="0.356" stop-color="#656565"/><stop offset="0.399" stop-color="#5b5b5b"/><stop offset="0.442" stop-color="#595959"/><stop offset="0.489" stop-color="#5e5e5e"/><stop offset="0.540" stop-color="#6c6c6c"/><stop offset="0.694" stop-color="#b1b1b1"/><stop offset="0.777" stop-color="#cecece"/><stop offset="0.867" stop-color="#e1e1e1"/><stop offset="1.000" stop-color="#f3f3f3"/></linearGradient><linearGradient id="hd50" x2="0" y2="1"><stop offset="0.000" stop-color="#d3d3d3"/><stop offset="0.072" stop-color="#cbcbcb"/><stop offset="0.137" stop-color="#bdbdbd"/><stop offset="0.205" stop-color="#a5a5a5"/><stop offset="0.356" stop-color="#666666"/><stop offset="0.399" stop-color="#5b5b5b"/><stop offset="0.442" stop-color="#595959"/><stop offset="0.489" stop-color="#5e5e5e"/><stop offset="0.536" stop-color="#6b6b6b"/><stop offset="0.694" stop-color="#b1b1b1"/><stop offset="0.777" stop-color="#cecece"/><stop offset="0.867" stop-color="#e1e1e1"/><stop offset="1.000" stop-color="#f2f2f2"/></linearGradient><linearGradient id="hd51" x2="0" y2="1"><stop offset="0.000" stop-color="#d2d2d2"/><stop offset="0.072" stop-color="#cacaca"/><stop offset="0.137" stop-color="#bcbcbc"/><stop offset="0.205" stop-color="#a5a5a5"/><stop offset="0.356" stop-color="#656565"/><stop offset="0.399" stop-color="#5b5b5b"/><stop offset="0.442" stop-color="#585858"/><stop offset="0.489" stop-color="#5e5e5e"/><stop offset="0.536" stop-color="#6b6b6b"/><stop offset="0.694" stop-color="#b1b1b1"/><stop offset="0.777" stop-color="#cdcdcd"/><stop offset="0.867" stop-color="#e0e0e0"/><stop offset="1.000" stop-color="#f1f1f1"/></linearGradient><linearGradient id="hd52" x2="0" y2="1"><stop offset="0.000" stop-color="#d5d5d5"/><stop offset="0.072" stop-color="#cccccc"/><stop offset="0.137" stop-color="#bebebe"/><stop offset="0.205" stop-color="#a7a7a7"/><stop offset="0.356" stop-color="#686868"/><stop offset="0.399" stop-color="#5e5e5e"/><stop offset="0.442" stop-color="#5b5b5b"/><stop offset="0.486" stop-color="#606060"/><stop offset="0.532" stop-color="#6d6d6d"/><stop offset="0.694" stop-color="#b4b4b4"/><stop offset="0.773" stop-color="#cfcfcf"/><stop offset="0.867" stop-color="#e2e2e2"/><stop offset="1.000" stop-color="#f3f3f3"/></linearGradient><linearGradient id="hd53" x2="0" y2="1"><stop offset="0.000" stop-color="#d4d4d4"/><stop offset="0.072" stop-color="#cbcbcb"/><stop offset="0.137" stop-color="#bdbdbd"/><stop offset="0.201" stop-color="#a8a8a8"/><stop offset="0.356" stop-color="#686868"/><stop offset="0.399" stop-color="#5e5e5e"/><stop offset="0.442" stop-color="#5b5b5b"/><stop offset="0.486" stop-color="#606060"/><stop offset="0.532" stop-color="#6c6c6c"/><stop offset="0.694" stop-color="#b3b3b3"/><stop offset="0.773" stop-color="#cecece"/><stop offset="0.867" stop-color="#e1e1e1"/><stop offset="1.000" stop-color="#f2f2f2"/></linearGradient><linearGradient id="hd54" x2="0" y2="1"><stop offset="0.000" stop-color="#d6d6d6"/><stop offset="0.072" stop-color="#cdcdcd"/><stop offset="0.137" stop-color="#bfbfbf"/><stop offset="0.201" stop-color="#aaaaaa"/><stop offset="0.356" stop-color="#6b6b6b"/><stop offset="0.399" stop-color="#606060"/><stop offset="0.442" stop-color="#5e5e5e"/><stop offset="0.486" stop-color="#626262"/><stop offset="0.532" stop-color="#6f6f6f"/><stop offset="0.694" stop-color="#b5b5b5"/><stop offset="0.773" stop-color="#d0d0d0"/><stop offset="0.867" stop-color="#e3e3e3"/><stop offset="1.000" stop-color="#f4f4f4"/></linearGradient><linearGradient id="hd55" x2="0" y2="1"><stop offset="0.000" stop-color="#d4d4d4"/><stop offset="0.068" stop-color="#cccccc"/><stop offset="0.133" stop-color="#bebebe"/><stop offset="0.201" stop-color="#a8a8a8"/><stop offset="0.356" stop-color="#696969"/><stop offset="0.399" stop-color="#5f5f5f"/><stop offset="0.442" stop-color="#5c5c5c"/><stop offset="0.486" stop-color="#616161"/><stop offset="0.532" stop-color="#6d6d6d"/><stop offset="0.694" stop-color="#b3b3b3"/><stop offset="0.773" stop-color="#cecece"/><stop offset="0.867" stop-color="#e1e1e1"/><stop offset="1.000" stop-color="#f1f1f1"/></linearGradient><linearGradient id="hd56" x2="0" y2="1"><stop offset="0.000" stop-color="#d7d7d7"/><stop offset="0.068" stop-color="#cfcfcf"/><stop offset="0.133" stop-color="#c1c1c1"/><stop offset="0.201" stop-color="#ababab"/><stop offset="0.353" stop-color="#6e6e6e"/><stop offset="0.399" stop-color="#626262"/><stop offset="0.442" stop-color="#606060"/><stop offset="0.486" stop-color="#646464"/><stop offset="0.532" stop-color="#717171"/><stop offset="0.691" stop-color="#b5b5b5"/><stop offset="0.773" stop-color="#d1d1d1"/><stop offset="0.867" stop-color="#e4e4e4"/><stop offset="1.000" stop-color="#f4f4f4"/></linearGradient><linearGradient id="hd57" x2="0" y2="1"><stop offset="0.000" stop-color="#d6d6d6"/><stop offset="0.068" stop-color="#cecece"/><stop offset="0.133" stop-color="#c0c0c0"/><stop offset="0.201" stop-color="#aaaaaa"/><stop offset="0.353" stop-color="#6d6d6d"/><stop offset="0.399" stop-color="#626262"/><stop offset="0.442" stop-color="#5f5f5f"/><stop offset="0.486" stop-color="#646464"/><stop offset="0.532" stop-color="#717171"/><stop offset="0.694" stop-color="#b6b6b6"/><stop offset="0.777" stop-color="#d1d1d1"/><stop offset="0.867" stop-color="#e3e3e3"/><stop offset="1.000" stop-color="#f3f3f3"/></linearGradient><linearGradient id="hd58" x2="0" y2="1"><stop offset="0.000" stop-color="#d5d5d5"/><stop offset="0.068" stop-color="#cdcdcd"/><stop offset="0.133" stop-color="#bfbfbf"/><stop offset="0.201" stop-color="#a9a9a9"/><stop offset="0.353" stop-color="#6d6d6d"/><stop offset="0.399" stop-color="#626262"/><stop offset="0.442" stop-color="#5f5f5f"/><stop offset="0.486" stop-color="#636363"/><stop offset="0.532" stop-color="#707070"/><stop offset="0.694" stop-color="#b5b5b5"/><stop offset="0.777" stop-color="#cfcfcf"/><stop offset="0.867" stop-color="#e2e2e2"/><stop offset="1.000" stop-color="#f1f1f1"/></linearGradient><linearGradient id="hd59" x2="0" y2="1"><stop offset="0.000" stop-color="#d6d6d6"/><stop offset="0.068" stop-color="#cecece"/><stop offset="0.133" stop-color="#c1c1c1"/><stop offset="0.198" stop-color="#acacac"/><stop offset="0.353" stop-color="#6f6f6f"/><stop offset="0.399" stop-color="#646464"/><stop offset="0.442" stop-color="#616161"/><stop offset="0.486" stop-color="#666666"/><stop offset="0.532" stop-color="#727272"/><stop offset="0.694" stop-color="#b6b6b6"/><stop offset="0.777" stop-color="#d1d1d1"/><stop offset="0.867" stop-color="#e3e3e3"/><stop offset="1.000" stop-color="#f2f2f2"/></linearGradient><linearGradient id="hd60" x2="0" y2="1"><stop offset="0.000" stop-color="#d7d7d7"/><stop offset="0.068" stop-color="#cfcfcf"/><stop offset="0.133" stop-color="#c2c2c2"/><stop offset="0.198" stop-color="#adadad"/><stop offset="0.353" stop-color="#707070"/><stop offset="0.399" stop-color="#656565"/><stop offset="0.442" stop-color="#626262"/><stop offset="0.486" stop-color="#676767"/><stop offset="0.532" stop-color="#737373"/><stop offset="0.694" stop-color="#b7b7b7"/><stop offset="0.777" stop-color="#d2d2d2"/><stop offset="0.871" stop-color="#e4e4e4"/><stop offset="1.000" stop-color="#f3f3f3"/></linearGradient></defs>
<g shape-rendering="crispEdges"><rect x="45" y="202" width="3" height="139" fill="url(#hd0)"/><rect x="48" y="202" width="3" height="139" fill="url(#hd1)"/><rect x="51" y="202" width="3" height="139" fill="url(#hd2)"/><rect x="54" y="202" width="3" height="139" fill="url(#hd3)"/><rect x="57" y="202" width="3" height="139" fill="url(#hd4)"/><rect x="60" y="202" width="3" height="139" fill="url(#hd5)"/><rect x="63" y="202" width="3" height="139" fill="url(#hd6)"/><rect x="66" y="202" width="3" height="139" fill="url(#hd7)"/><rect x="69" y="202" width="3" height="139" fill="url(#hd8)"/><rect x="72" y="202" width="3" height="139" fill="url(#hd9)"/><rect x="75" y="202" width="3" height="139" fill="url(#hd10)"/><rect x="78" y="202" width="3" height="139" fill="url(#hd11)"/><rect x="81" y="202" width="3" height="139" fill="url(#hd12)"/><rect x="84" y="202" width="3" height="139" fill="url(#hd13)"/><rect x="87" y="202" width="3" height="139" fill="url(#hd14)"/><rect x="90" y="202" width="3" height="139" fill="url(#hd15)"/><rect x="93" y="202" width="3" height="139" fill="url(#hd16)"/><rect x="96" y="202" width="3" height="139" fill="url(#hd17)"/><rect x="99" y="202" width="3" height="139" fill="url(#hd18)"/><rect x="102" y="202" width="3" height="139" fill="url(#hd19)"/><rect x="105" y="202" width="3" height="139" fill="url(#hd20)"/><rect x="108" y="202" width="3" height="139" fill="url(#hd21)"/><rect x="111" y="202" width="3" height="139" fill="url(#hd22)"/><rect x="114" y="202" width="3" height="139" fill="url(#hd23)"/><rect x="117" y="202" width="3" height="139" fill="url(#hd24)"/><rect x="120" y="202" width="3" height="139" fill="url(#hd25)"/><rect x="123" y="202" width="3" height="139" fill="url(#hd26)"/><rect x="126" y="202" width="3" height="139" fill="url(#hd27)"/><rect x="129" y="202" width="3" height="139" fill="url(#hd28)"/><rect x="132" y="202" width="3" height="139" fill="url(#hd29)"/><rect x="135" y="202" width="3" height="139" fill="url(#hd30)"/><rect x="138" y="202" width="3" height="139" fill="url(#hd31)"/><rect x="141" y="202" width="3" height="139" fill="url(#hd32)"/><rect x="144" y="202" width="3" height="139" fill="url(#hd33)"/><rect x="147" y="202" width="3" height="139" fill="url(#hd34)"/><rect x="150" y="202" width="3" height="139" fill="url(#hd35)"/><rect x="153" y="202" width="3" height="139" fill="url(#hd36)"/><rect x="156" y="202" width="3" height="139" fill="url(#hd37)"/><rect x="159" y="202" width="3" height="139" fill="url(#hd38)"/><rect x="162" y="202" width="3" height="139" fill="url(#hd39)"/><rect x="165" y="202" width="3" height="139" fill="url(#hd40)"/><rect x="168" y="202" width="3" height="139" fill="url(#hd41)"/><rect x="171" y="202" width="3" height="139" fill="url(#hd42)"/><rect x="174" y="202" width="3" height="139" fill="url(#hd43)"/><rect x="177" y="202" width="3" height="139" fill="url(#hd44)"/><rect x="180" y="202" width="3" height="139" fill="url(#hd45)"/><rect x="183" y="202" width="3" height="139" fill="url(#hd46)"/><rect x="186" y="202" width="3" height="139" fill="url(#hd47)"/><rect x="189" y="202" width="3" height="139" fill="url(#hd48)"/><rect x="192" y="202" width="3" height="139" fill="url(#hd49)"/><rect x="195" y="202" width="3" height="139" fill="url(#hd50)"/><rect x="198" y="202" width="3" height="139" fill="url(#hd51)"/><rect x="201" y="202" width="3" height="139" fill="url(#hd52)"/><rect x="204" y="202" width="3" height="139" fill="url(#hd53)"/><rect x="207" y="202" width="3" height="139" fill="url(#hd54)"/><rect x="210" y="202" width="3" height="139" fill="url(#hd55)"/><rect x="213" y="202" width="3" height="139" fill="url(#hd56)"/><rect x="216" y="202" width="3" height="139" fill="url(#hd57)"/><rect x="219" y="202" width="3" height="139" fill="url(#hd58)"/><rect x="222" y="202" width="3" height="139" fill="url(#hd59)"/><rect x="225" y="202" width="2" height="139" fill="url(#hd60)"/></g>
<defs><linearGradient id="hg0" x2="0" y2="1"><stop offset="0.000" stop-color="#ffffff"/><stop offset="0.171" stop-color="#fefefe"/><stop offset="0.200" stop-color="#f9f9f9"/><stop offset="0.221" stop-color="#eeeeee"/><stop offset="0.236" stop-color="#dfdfdf"/><stop offset="0.250" stop-color="#c8c8c8"/><stop offset="0.264" stop-color="#a6a6a6"/><stop offset="0.296" stop-color="#474747"/><stop offset="0.307" stop-color="#2b2b2b"/><stop offset="0.321" stop-color="#0f0f0f"/><stop offset="0.336" stop-color="#000000"/><stop offset="0.361" stop-color="#000000"/><stop offset="0.371" stop-color="#070707"/><stop offset="0.389" stop-color="#1d1d1d"/><stop offset="0.439" stop-color="#696969"/><stop offset="0.464" stop-color="#888888"/><stop offset="0.496" stop-color="#a4a4a4"/><stop offset="0.536" stop-color="#b7b7b7"/><stop offset="0.593" stop-color="#c2c2c2"/><stop offset="0.686" stop-color="#c9c9c9"/><stop offset="1.000" stop-color="#cccccc"/></linearGradient><linearGradient id="hg1" x2="0" y2="1"><stop offset="0.000" stop-color="#ffffff"/><stop offset="0.168" stop-color="#fefefe"/><stop offset="0.200" stop-color="#f9f9f9"/><stop offset="0.221" stop-color="#eeeeee"/><stop offset="0.239" stop-color="#dadada"/><stop offset="0.254" stop-color="#c1c1c1"/><stop offset="0.268" stop-color="#9d9d9d"/><stop offset="0.300" stop-color="#414141"/><stop offset="0.314" stop-color="#202020"/><stop offset="0.329" stop-color="#0a0a0a"/><stop offset="0.343" stop-color="#010101"/><stop offset="0.361" stop-color="#030303"/><stop offset="0.379" stop-color="#121212"/><stop offset="0.443" stop-color="#6f6f6f"/><stop offset="0.475" stop-color="#949494"/><stop offset="0.504" stop-color="#aaaaaa"/><stop offset="0.536" stop-color="#b7b7b7"/><stop offset="0.593" stop-color="#c2c2c2"/><stop offset="0.686" stop-color="#cacaca"/><stop offset="1.000" stop-color="#cdcdcd"/></linearGradient><linearGradient id="hg2" x2="0" y2="1"><stop offset="0.000" stop-color="#ffffff"/><stop offset="0.164" stop-color="#fefefe"/><stop offset="0.196" stop-color="#f9f9f9"/><stop offset="0.218" stop-color="#efefef"/><stop offset="0.236" stop-color="#dedede"/><stop offset="0.254" stop-color="#bfbfbf"/><stop offset="0.268" stop-color="#9e9e9e"/><stop offset="0.300" stop-color="#444444"/><stop offset="0.318" stop-color="#1d1d1d"/><stop offset="0.332" stop-color="#0b0b0b"/><stop offset="0.350" stop-color="#030303"/><stop offset="0.364" stop-color="#080808"/><stop offset="0.382" stop-color="#191919"/><stop offset="0.443" stop-color="#707070"/><stop offset="0.471" stop-color="#919191"/><stop offset="0.500" stop-color="#a7a7a7"/><stop offset="0.536" stop-color="#b7b7b7"/><stop offset="0.593" stop-color="#c2c2c2"/><stop offset="0.686" stop-color="#c9c9c9"/><stop offset="1.000" stop-color="#cccccc"/></linearGradient><linearGradient id="hg3" x2="0" y2="1"><stop offset="0.000" stop-color="#fdfdfd"/><stop offset="0.164" stop-color="#fbfbfb"/><stop offset="0.196" stop-color="#f6f6f6"/><stop offset="0.218" stop-color="#ececec"/><stop offset="0.236" stop-color="#dadada"/><stop offset="0.254" stop-color="#bdbdbd"/><stop offset="0.268" stop-color="#9c9c9c"/><stop offset="0.300" stop-color="#464646"/><stop offset="0.318" stop-color="#202020"/><stop offset="0.332" stop-color="#0d0d0d"/><stop offset="0.350" stop-color="#050505"/><stop offset="0.364" stop-color="#090909"/><stop offset="0.382" stop-color="#191919"/><stop offset="0.443" stop-color="#6f6f6f"/><stop offset="0.471" stop-color="#8f8f8f"/><stop offset="0.500" stop-color="#a5a5a5"/><stop offset="0.536" stop-color="#b5b5b5"/><stop offset="0.593" stop-color="#c0c0c0"/><stop offset="0.686" stop-color="#c7c7c7"/><stop offset="1.000" stop-color="#cacaca"/></linearGradient><linearGradient id="hg4" x2="0" y2="1"><stop offset="0.000" stop-color="#ffffff"/><stop offset="0.161" stop-color="#fefefe"/><stop offset="0.193" stop-color="#f9f9f9"/><stop offset="0.218" stop-color="#eeeeee"/><stop offset="0.236" stop-color="#dcdcdc"/><stop offset="0.254" stop-color="#bfbfbf"/><stop offset="0.268" stop-color="#9f9f9f"/><stop offset="0.300" stop-color="#4c4c4c"/><stop offset="0.318" stop-color="#282828"/><stop offset="0.332" stop-color="#151515"/><stop offset="0.350" stop-color="#0d0d0d"/><stop offset="0.364" stop-color="#111111"/><stop offset="0.382" stop-color="#202020"/><stop offset="0.443" stop-color="#737373"/><stop offset="0.471" stop-color="#939393"/><stop offset="0.500" stop-color="#a9a9a9"/><stop offset="0.536" stop-color="#b8b8b8"/><stop offset="0.593" stop-color="#c3c3c3"/><stop offset="0.686" stop-color="#cacaca"/><stop offset="1.000" stop-color="#cdcdcd"/></linearGradient><linearGradient id="hg5" x2="0" y2="1"><stop offset="0.000" stop-color="#ffffff"/><stop offset="0.161" stop-color="#fdfdfd"/><stop offset="0.193" stop-color="#f8f8f8"/><stop offset="0.214" stop-color="#eeeeee"/><stop offset="0.236" stop-color="#dadada"/><stop offset="0.254" stop-color="#bebebe"/><stop offset="0.268" stop-color="#9f9f9f"/><stop offset="0.300" stop-color="#505050"/><stop offset="0.318" stop-color="#2c2c2c"/><stop offset="0.332" stop-color="#1a1a1a"/><stop offset="0.350" stop-color="#121212"/><stop offset="0.364" stop-color="#151515"/><stop offset="0.382" stop-color="#242424"/><stop offset="0.446" stop-color="#797979"/><stop offset="0.475" stop-color="#979797"/><stop offset="0.504" stop-color="#ababab"/><stop offset="0.539" stop-color="#b9b9b9"/><stop offset="0.596" stop-color="#c3c3c3"/><stop offset="0.689" stop-color="#cacaca"/><stop offset="1.000" stop-color="#cdcdcd"/></linearGradient><linearGradient id="hg6" x2="0" y2="1"><stop offset="0.000" stop-color="#fefefe"/><stop offset="0.157" stop-color="#fcfcfc"/><stop offset="0.189" stop-color="#f7f7f7"/><stop offset="0.214" stop-color="#ececec"/><stop offset="0.236" stop-color="#d8d8d8"/><stop offset="0.254" stop-color="#bcbcbc"/><stop offset="0.268" stop-color="#9e9e9e"/><stop offset="0.300" stop-color="#525252"/><stop offset="0.318" stop-color="#303030"/><stop offset="0.332" stop-color="#1e1e1e"/><stop offset="0.350" stop-color="#161616"/><stop offset="0.364" stop-color="#191919"/><stop offset="0.382" stop-color="#272727"/><stop offset="0.446" stop-color="#797979"/><stop offset="0.475" stop-color="#979797"/><stop offset="0.504" stop-color="#aaaaaa"/><stop offset="0.539" stop-color="#b9b9b9"/><stop offset="0.596" stop-color="#c3c3c3"/><stop offset="0.686" stop-color="#c9c9c9"/><stop offset="1.000" stop-color="#cdcdcd"/></linearGradient><linearGradient id="hg7" x2="0" y2="1"><stop offset="0.000" stop-color="#ffffff"/><stop offset="0.157" stop-color="#fdfdfd"/><stop offset="0.189" stop-color="#f8f8f8"/><stop offset="0.214" stop-color="#ececec"/><stop offset="0.236" stop-color="#d8d8d8"/><stop offset="0.254" stop-color="#bdbdbd"/><stop offset="0.268" stop-color="#a0a0a0"/><stop offset="0.300" stop-color="#585858"/><stop offset="0.318" stop-color="#373737"/><stop offset="0.336" stop-color="#232323"/><stop offset="0.350" stop-color="#1d1d1d"/><stop offset="0.364" stop-color="#202020"/><stop offset="0.382" stop-color="#2d2d2d"/><stop offset="0.446" stop-color="#7c7c7c"/><stop offset="0.475" stop-color="#999999"/><stop offset="0.504" stop-color="#adadad"/><stop offset="0.539" stop-color="#bbbbbb"/><stop offset="0.596" stop-color="#c5c5c5"/><stop offset="0.686" stop-color="#cbcbcb"/><stop offset="1.000" stop-color="#cecece"/></linearGradient><linearGradient id="hg8" x2="0" y2="1"><stop offset="0.000" stop-color="#ffffff"/><stop offset="0.154" stop-color="#fdfdfd"/><stop offset="0.186" stop-color="#f8f8f8"/><stop offset="0.211" stop-color="#ededed"/><stop offset="0.232" stop-color="#dbdbdb"/><stop offset="0.250" stop-color="#c2c2c2"/><stop offset="0.268" stop-color="#a1a1a1"/><stop offset="0.300" stop-color="#5b5b5b"/><stop offset="0.318" stop-color="#3c3c3c"/><stop offset="0.336" stop-color="#282828"/><stop offset="0.350" stop-color="#222222"/><stop offset="0.368" stop-color="#262626"/><stop offset="0.386" stop-color="#343434"/><stop offset="0.446" stop-color="#7e7e7e"/><stop offset="0.479" stop-color="#9d9d9d"/><stop offset="0.507" stop-color="#afafaf"/><stop offset="0.543" stop-color="#bcbcbc"/><stop offset="0.600" stop-color="#c6c6c6"/><stop offset="0.689" stop-color="#cccccc"/><stop offset="1.000" stop-color="#cfcfcf"/></linearGradient><linearGradient id="hg9" x2="0" y2="1"><stop offset="0.000" stop-color="#ffffff"/><stop offset="0.154" stop-color="#fcfcfc"/><stop offset="0.186" stop-color="#f7f7f7"/><stop offset="0.211" stop-color="#ececec"/><stop offset="0.232" stop-color="#d9d9d9"/><stop offset="0.250" stop-color="#c1c1c1"/><stop offset="0.268" stop-color="#a1a1a1"/><stop offset="0.300" stop-color="#5f5f5f"/><stop offset="0.318" stop-color="#414141"/><stop offset="0.336" stop-color="#2d2d2d"/><stop offset="0.354" stop-color="#272727"/><stop offset="0.368" stop-color="#2b2b2b"/><stop offset="0.386" stop-color="#383838"/><stop offset="0.450" stop-color="#838383"/><stop offset="0.479" stop-color="#9e9e9e"/><stop offset="0.507" stop-color="#b0b0b0"/><stop offset="0.543" stop-color="#bdbdbd"/><stop offset="0.600" stop-color="#c6c6c6"/><stop offset="0.689" stop-color="#cccccc"/><stop offset="1.000" stop-color="#cfcfcf"/></linearGradient><linearGradient id="hg10" x2="0" y2="1"><stop offset="0.000" stop-color="#ffffff"/><stop offset="0.150" stop-color="#fcfcfc"/><stop offset="0.182" stop-color="#f7f7f7"/><stop offset="0.207" stop-color="#ececec"/><stop offset="0.229" stop-color="#dcdcdc"/><stop offset="0.250" stop-color="#c0c0c0"/><stop offset="0.268" stop-color="#a1a1a1"/><stop offset="0.300" stop-color="#616161"/><stop offset="0.318" stop-color="#444444"/><stop offset="0.336" stop-color="#313131"/><stop offset="0.354" stop-color="#2b2b2b"/><stop offset="0.368" stop-color="#2e2e2e"/><stop offset="0.386" stop-color="#3b3b3b"/><stop offset="0.450" stop-color="#848484"/><stop offset="0.479" stop-color="#9e9e9e"/><stop offset="0.507" stop-color="#b0b0b0"/><stop offset="0.543" stop-color="#bdbdbd"/><stop offset="0.600" stop-color="#c6c6c6"/><stop offset="0.689" stop-color="#cccccc"/><stop offset="1.000" stop-color="#cfcfcf"/></linearGradient><linearGradient id="hg11" x2="0" y2="1"><stop offset="0.000" stop-color="#ffffff"/><stop offset="0.146" stop-color="#fdfdfd"/><stop offset="0.182" stop-color="#f7f7f7"/><stop offset="0.207" stop-color="#ececec"/><stop offset="0.229" stop-color="#dbdbdb"/><stop offset="0.250" stop-color="#c0c0c0"/><stop offset="0.300" stop-color="#656565"/><stop offset="0.318" stop-color="#484848"/><stop offset="0.336" stop-color="#363636"/><stop offset="0.354" stop-color="#303030"/><stop offset="0.368" stop-color="#333333"/><stop offset="0.386" stop-color="#3f3f3f"/><stop offset="0.450" stop-color="#868686"/><stop offset="0.479" stop-color="#9f9f9f"/><stop offset="0.507" stop-color="#b1b1b1"/><stop offset="0.543" stop-color="#bebebe"/><stop offset="0.600" stop-color="#c7c7c7"/><stop offset="0.689" stop-color="#cdcdcd"/><stop offset="1.000" stop-color="#d0d0d0"/></linearGradient><linearGradient id="hg12" x2="0" y2="1"><stop offset="0.000" stop-color="#fefefe"/><stop offset="0.146" stop-color="#fbfbfb"/><stop offset="0.182" stop-color="#f4f4f4"/><stop offset="0.207" stop-color="#e9e9e9"/><stop offset="0.229" stop-color="#d8d8d8"/><stop offset="0.246" stop-color="#c3c3c3"/><stop offset="0.264" stop-color="#a7a7a7"/><stop offset="0.304" stop-color="#606060"/><stop offset="0.318" stop-color="#4a4a4a"/><stop offset="0.336" stop-color="#393939"/><stop offset="0.354" stop-color="#323232"/><stop offset="0.368" stop-color="#353535"/><stop offset="0.386" stop-color="#404040"/><stop offset="0.450" stop-color="#858585"/><stop offset="0.482" stop-color="#a1a1a1"/><stop offset="0.511" stop-color="#b1b1b1"/><stop offset="0.546" stop-color="#bdbdbd"/><stop offset="0.604" stop-color="#c6c6c6"/><stop offset="0.693" stop-color="#cccccc"/><stop offset="1.000" stop-color="#cfcfcf"/></linearGradient><linearGradient id="hg13" x2="0" y2="1"><stop offset="0.000" stop-color="#ffffff"/><stop offset="0.143" stop-color="#fbfbfb"/><stop offset="0.179" stop-color="#f5f5f5"/><stop offset="0.204" stop-color="#ebebeb"/><stop offset="0.225" stop-color="#dbdbdb"/><stop offset="0.246" stop-color="#c3c3c3"/><stop offset="0.264" stop-color="#a7a7a7"/><stop offset="0.300" stop-color="#696969"/><stop offset="0.318" stop-color="#4f4f4f"/><stop offset="0.336" stop-color="#3d3d3d"/><stop offset="0.354" stop-color="#373737"/><stop offset="0.371" stop-color="#3b3b3b"/><stop offset="0.389" stop-color="#474747"/><stop offset="0.450" stop-color="#878787"/><stop offset="0.482" stop-color="#a2a2a2"/><stop offset="0.511" stop-color="#b3b3b3"/><stop offset="0.546" stop-color="#bebebe"/><stop offset="0.604" stop-color="#c7c7c7"/><stop offset="0.693" stop-color="#cdcdcd"/><stop offset="1.000" stop-color="#d0d0d0"/></linearGradient><linearGradient id="hg14" x2="0" y2="1"><stop offset="0.000" stop-color="#fefefe"/><stop offset="0.143" stop-color="#fbfbfb"/><stop offset="0.179" stop-color="#f4f4f4"/><stop offset="0.204" stop-color="#eaeaea"/><stop offset="0.225" stop-color="#dadada"/><stop offset="0.246" stop-color="#c2c2c2"/><stop offset="0.300" stop-color="#6b6b6b"/><stop offset="0.318" stop-color="#525252"/><stop offset="0.336" stop-color="#414141"/><stop offset="0.354" stop-color="#3b3b3b"/><stop offset="0.371" stop-color="#3e3e3e"/><stop offset="0.389" stop-color="#4a4a4a"/><stop offset="0.454" stop-color="#8b8b8b"/><stop offset="0.482" stop-color="#a3a3a3"/><stop offset="0.511" stop-color="#b3b3b3"/><stop offset="0.546" stop-color="#bebebe"/><stop offset="0.604" stop-color="#c7c7c7"/><stop offset="0.693" stop-color="#cdcdcd"/><stop offset="1.000" stop-color="#d0d0d0"/></linearGradient><linearGradient id="hg15" x2="0" y2="1"><stop offset="0.000" stop-color="#ffffff"/><stop offset="0.136" stop-color="#fcfcfc"/><stop offset="0.171" stop-color="#f7f7f7"/><stop offset="0.200" stop-color="#ececec"/><stop offset="0.221" stop-color="#dddddd"/><stop offset="0.243" stop-color="#c7c7c7"/><stop offset="0.318" stop-color="#575757"/><stop offset="0.336" stop-color="#464646"/><stop offset="0.354" stop-color="#404040"/><stop offset="0.371" stop-color="#434343"/><stop offset="0.389" stop-color="#4e4e4e"/><stop offset="0.454" stop-color="#8e8e8e"/><stop offset="0.486" stop-color="#a7a7a7"/><stop offset="0.514" stop-color="#b6b6b6"/><stop offset="0.550" stop-color="#c1c1c1"/><stop offset="0.607" stop-color="#c9c9c9"/><stop offset="0.696" stop-color="#cfcfcf"/><stop offset="1.000" stop-color="#d1d1d1"/></linearGradient><linearGradient id="hg16" x2="0" y2="1"><stop offset="0.000" stop-color="#ffffff"/><stop offset="0.136" stop-color="#fbfbfb"/><stop offset="0.171" stop-color="#f5f5f5"/><stop offset="0.200" stop-color="#eaeaea"/><stop offset="0.221" stop-color="#dcdcdc"/><stop offset="0.243" stop-color="#c6c6c6"/><stop offset="0.318" stop-color="#595959"/><stop offset="0.336" stop-color="#494949"/><stop offset="0.354" stop-color="#434343"/><stop offset="0.371" stop-color="#464646"/><stop offset="0.389" stop-color="#515151"/><stop offset="0.454" stop-color="#8e8e8e"/><stop offset="0.486" stop-color="#a7a7a7"/><stop offset="0.514" stop-color="#b6b6b6"/><stop offset="0.550" stop-color="#c1c1c1"/><stop offset="0.607" stop-color="#c9c9c9"/><stop offset="0.696" stop-color="#cecece"/><stop offset="1.000" stop-color="#d1d1d1"/></linearGradient><linearGradient id="hg17" x2="0" y2="1"><stop offset="0.000" stop-color="#fefefe"/><stop offset="0.132" stop-color="#fbfbfb"/><stop offset="0.168" stop-color="#f5f5f5"/><stop offset="0.196" stop-color="#ebebeb"/><stop offset="0.221" stop-color="#dadada"/><stop offset="0.243" stop-color="#c4c4c4"/><stop offset="0.300" stop-color="#727272"/><stop offset="0.318" stop-color="#5c5c5c"/><stop offset="0.336" stop-color="#4d4d4d"/><stop offset="0.354" stop-color="#474747"/><stop offset="0.371" stop-color="#4a4a4a"/><stop offset="0.389" stop-color="#545454"/><stop offset="0.454" stop-color="#8f8f8f"/><stop offset="0.486" stop-color="#a7a7a7"/><stop offset="0.514" stop-color="#b6b6b6"/><stop offset="0.550" stop-color="#c0c0c0"/><stop offset="0.607" stop-color="#c9c9c9"/><stop offset="0.700" stop-color="#cecece"/><stop offset="1.000" stop-color="#d1d1d1"/></linearGradient><linearGradient id="hg18" x2="0" y2="1"><stop offset="0.000" stop-color="#fdfdfd"/><stop offset="0.132" stop-color="#f9f9f9"/><stop offset="0.168" stop-color="#f3f3f3"/><stop offset="0.196" stop-color="#e9e9e9"/><stop offset="0.221" stop-color="#d8d8d8"/><stop offset="0.243" stop-color="#c3c3c3"/><stop offset="0.300" stop-color="#747474"/><stop offset="0.318" stop-color="#5f5f5f"/><stop offset="0.336" stop-color="#505050"/><stop offset="0.354" stop-color="#4b4b4b"/><stop offset="0.371" stop-color="#4d4d4d"/><stop offset="0.389" stop-color="#575757"/><stop offset="0.454" stop-color="#909090"/><stop offset="0.486" stop-color="#a8a8a8"/><stop offset="0.514" stop-color="#b6b6b6"/><stop offset="0.550" stop-color="#c0c0c0"/><stop offset="0.607" stop-color="#c8c8c8"/><stop offset="0.700" stop-color="#cdcdcd"/><stop offset="1.000" stop-color="#d0d0d0"/></linearGradient><linearGradient id="hg19" x2="0" y2="1"><stop offset="0.000" stop-color="#fefefe"/><stop offset="0.129" stop-color="#fafafa"/><stop offset="0.164" stop-color="#f4f4f4"/><stop offset="0.193" stop-color="#eaeaea"/><stop offset="0.218" stop-color="#dadada"/><stop offset="0.239" stop-color="#c6c6c6"/><stop offset="0.300" stop-color="#777777"/><stop offset="0.318" stop-color="#636363"/><stop offset="0.336" stop-color="#555555"/><stop offset="0.354" stop-color="#505050"/><stop offset="0.371" stop-color="#525252"/><stop offset="0.389" stop-color="#5c5c5c"/><stop offset="0.457" stop-color="#959595"/><stop offset="0.486" stop-color="#a9a9a9"/><stop offset="0.518" stop-color="#b8b8b8"/><stop offset="0.554" stop-color="#c1c1c1"/><stop offset="0.614" stop-color="#c9c9c9"/><stop offset="0.704" stop-color="#cecece"/><stop offset="1.000" stop-color="#d1d1d1"/></linearGradient><linearGradient id="hg20" x2="0" y2="1"><stop offset="0.000" stop-color="#fefefe"/><stop offset="0.129" stop-color="#f9f9f9"/><stop offset="0.164" stop-color="#f3f3f3"/><stop offset="0.193" stop-color="#e9e9e9"/><stop offset="0.218" stop-color="#d9d9d9"/><stop offset="0.239" stop-color="#c6c6c6"/><stop offset="0.300" stop-color="#797979"/><stop offset="0.318" stop-color="#666666"/><stop offset="0.336" stop-color="#5a5a5a"/><stop offset="0.354" stop-color="#555555"/><stop offset="0.371" stop-color="#575757"/><stop offset="0.389" stop-color="#606060"/><stop offset="0.457" stop-color="#979797"/><stop offset="0.486" stop-color="#aaaaaa"/><stop offset="0.518" stop-color="#b9b9b9"/><stop offset="0.554" stop-color="#c2c2c2"/><stop offset="0.614" stop-color="#c9c9c9"/><stop offset="0.707" stop-color="#cecece"/><stop offset="1.000" stop-color="#d1d1d1"/></linearGradient><linearGradient id="hg21" x2="0" y2="1"><stop offset="0.000" stop-color="#fdfdfd"/><stop offset="0.125" stop-color="#f9f9f9"/><stop offset="0.161" stop-color="#f3f3f3"/><stop offset="0.189" stop-color="#e9e9e9"/><stop offset="0.214" stop-color="#dbdbdb"/><stop offset="0.236" stop-color="#c8c8c8"/><stop offset="0.300" stop-color="#7b7b7b"/><stop offset="0.318" stop-color="#696969"/><stop offset="0.336" stop-color="#5d5d5d"/><stop offset="0.354" stop-color="#585858"/><stop offset="0.371" stop-color="#5b5b5b"/><stop offset="0.389" stop-color="#636363"/><stop offset="0.457" stop-color="#989898"/><stop offset="0.489" stop-color="#adadad"/><stop offset="0.518" stop-color="#b9b9b9"/><stop offset="0.554" stop-color="#c2c2c2"/><stop offset="0.614" stop-color="#c9c9c9"/><stop offset="0.707" stop-color="#cecece"/><stop offset="1.000" stop-color="#d1d1d1"/></linearGradient><linearGradient id="hg22" x2="0" y2="1"><stop offset="0.000" stop-color="#ffffff"/><stop offset="0.125" stop-color="#fafafa"/><stop offset="0.161" stop-color="#f4f4f4"/><stop offset="0.189" stop-color="#eaeaea"/><stop offset="0.214" stop-color="#dbdbdb"/><stop offset="0.236" stop-color="#c9c9c9"/><stop offset="0.314" stop-color="#717171"/><stop offset="0.336" stop-color="#636363"/><stop offset="0.354" stop-color="#5f5f5f"/><stop offset="0.371" stop-color="#616161"/><stop offset="0.389" stop-color="#696969"/><stop offset="0.457" stop-color="#9c9c9c"/><stop offset="0.489" stop-color="#afafaf"/><stop offset="0.518" stop-color="#bbbbbb"/><stop offset="0.554" stop-color="#c4c4c4"/><stop offset="0.614" stop-color="#cbcbcb"/><stop offset="0.711" stop-color="#d0d0d0"/><stop offset="1.000" stop-color="#d2d2d2"/></linearGradient><linearGradient id="hg23" x2="0" y2="1"><stop offset="0.000" stop-color="#fefefe"/><stop offset="0.121" stop-color="#f9f9f9"/><stop offset="0.157" stop-color="#f3f3f3"/><stop offset="0.186" stop-color="#eaeaea"/><stop offset="0.211" stop-color="#dddddd"/><stop offset="0.232" stop-color="#cccccc"/><stop offset="0.314" stop-color="#747474"/><stop offset="0.336" stop-color="#676767"/><stop offset="0.354" stop-color="#626262"/><stop offset="0.371" stop-color="#656565"/><stop offset="0.389" stop-color="#6c6c6c"/><stop offset="0.457" stop-color="#9c9c9c"/><stop offset="0.489" stop-color="#afafaf"/><stop offset="0.521" stop-color="#bbbbbb"/><stop offset="0.557" stop-color="#c3c3c3"/><stop offset="0.718" stop-color="#cfcfcf"/><stop offset="1.000" stop-color="#d0d0d0"/></linearGradient><linearGradient id="hg24" x2="0" y2="1"><stop offset="0.000" stop-color="#f9f9f9"/><stop offset="0.121" stop-color="#f4f4f4"/><stop offset="0.157" stop-color="#eeeeee"/><stop offset="0.186" stop-color="#e4e4e4"/><stop offset="0.211" stop-color="#d7d7d7"/><stop offset="0.232" stop-color="#c6c6c6"/><stop offset="0.314" stop-color="#737373"/><stop offset="0.336" stop-color="#666666"/><stop offset="0.354" stop-color="#626262"/><stop offset="0.371" stop-color="#646464"/><stop offset="0.393" stop-color="#6d6d6d"/><stop offset="0.461" stop-color="#9b9b9b"/><stop offset="0.493" stop-color="#acacac"/><stop offset="0.561" stop-color="#bfbfbf"/><stop offset="0.725" stop-color="#cacaca"/><stop offset="1.000" stop-color="#c9c9c9"/></linearGradient><linearGradient id="hg25" x2="0" y2="1"><stop offset="0.000" stop-color="#f9f9f9"/><stop offset="0.118" stop-color="#f4f4f4"/><stop offset="0.182" stop-color="#e6e6e6"/><stop offset="0.207" stop-color="#d9d9d9"/><stop offset="0.232" stop-color="#c7c7c7"/><stop offset="0.314" stop-color="#777777"/><stop offset="0.336" stop-color="#6b6b6b"/><stop offset="0.354" stop-color="#676767"/><stop offset="0.371" stop-color="#696969"/><stop offset="0.393" stop-color="#717171"/><stop offset="0.461" stop-color="#9c9c9c"/><stop offset="0.493" stop-color="#adadad"/><stop offset="0.561" stop-color="#c0c0c0"/><stop offset="0.729" stop-color="#cacaca"/><stop offset="1.000" stop-color="#c8c8c8"/></linearGradient><linearGradient id="hg26" x2="0" y2="1"><stop offset="0.000" stop-color="#fbfbfb"/><stop offset="0.118" stop-color="#f6f6f6"/><stop offset="0.182" stop-color="#e7e7e7"/><stop offset="0.229" stop-color="#cbcbcb"/><stop offset="0.314" stop-color="#7c7c7c"/><stop offset="0.336" stop-color="#717171"/><stop offset="0.354" stop-color="#6d6d6d"/><stop offset="0.371" stop-color="#6e6e6e"/><stop offset="0.393" stop-color="#767676"/><stop offset="0.464" stop-color="#a2a2a2"/><stop offset="0.496" stop-color="#b1b1b1"/><stop offset="0.564" stop-color="#c2c2c2"/><stop offset="0.736" stop-color="#cccccc"/><stop offset="1.000" stop-color="#c8c8c8"/></linearGradient><linearGradient id="hg27" x2="0" y2="1"><stop offset="0.000" stop-color="#fafafa"/><stop offset="0.114" stop-color="#f5f5f5"/><stop offset="0.179" stop-color="#e7e7e7"/><stop offset="0.204" stop-color="#dbdbdb"/><stop offset="0.229" stop-color="#cacaca"/><stop offset="0.314" stop-color="#7f7f7f"/><stop offset="0.336" stop-color="#747474"/><stop offset="0.354" stop-color="#707070"/><stop offset="0.371" stop-color="#727272"/><stop offset="0.393" stop-color="#797979"/><stop offset="0.464" stop-color="#a2a2a2"/><stop offset="0.496" stop-color="#b1b1b1"/><stop offset="0.568" stop-color="#c2c2c2"/><stop offset="0.739" stop-color="#cbcbcb"/><stop offset="1.000" stop-color="#c6c6c6"/></linearGradient><linearGradient id="hg28" x2="0" y2="1"><stop offset="0.000" stop-color="#fbfbfb"/><stop offset="0.114" stop-color="#f5f5f5"/><stop offset="0.179" stop-color="#e7e7e7"/><stop offset="0.229" stop-color="#cbcbcb"/><stop offset="0.311" stop-color="#858585"/><stop offset="0.332" stop-color="#7a7a7a"/><stop offset="0.354" stop-color="#757575"/><stop offset="0.393" stop-color="#7d7d7d"/><stop offset="0.464" stop-color="#a4a4a4"/><stop offset="0.500" stop-color="#b3b3b3"/><stop offset="0.571" stop-color="#c3c3c3"/><stop offset="0.746" stop-color="#cbcbcb"/><stop offset="1.000" stop-color="#c5c5c5"/></linearGradient><linearGradient id="hg29" x2="0" y2="1"><stop offset="0.000" stop-color="#fafafa"/><stop offset="0.111" stop-color="#f5f5f5"/><stop offset="0.175" stop-color="#e7e7e7"/><stop offset="0.225" stop-color="#cdcdcd"/><stop offset="0.311" stop-color="#888888"/><stop offset="0.332" stop-color="#7d7d7d"/><stop offset="0.354" stop-color="#787878"/><stop offset="0.393" stop-color="#808080"/><stop offset="0.500" stop-color="#b3b3b3"/><stop offset="0.575" stop-color="#c3c3c3"/><stop offset="0.750" stop-color="#cbcbcb"/><stop offset="1.000" stop-color="#c3c3c3"/></linearGradient><linearGradient id="hg30" x2="0" y2="1"><stop offset="0.000" stop-color="#fcfcfc"/><stop offset="0.111" stop-color="#f6f6f6"/><stop offset="0.175" stop-color="#e8e8e8"/><stop offset="0.225" stop-color="#cecece"/><stop offset="0.311" stop-color="#8d8d8d"/><stop offset="0.332" stop-color="#838383"/><stop offset="0.354" stop-color="#7f7f7f"/><stop offset="0.393" stop-color="#858585"/><stop offset="0.504" stop-color="#b7b7b7"/><stop offset="0.582" stop-color="#c6c6c6"/><stop offset="0.754" stop-color="#cccccc"/><stop offset="1.000" stop-color="#c2c2c2"/></linearGradient><linearGradient id="hg31" x2="0" y2="1"><stop offset="0.000" stop-color="#f6f6f6"/><stop offset="0.107" stop-color="#f1f1f1"/><stop offset="0.171" stop-color="#e4e4e4"/><stop offset="0.221" stop-color="#cbcbcb"/><stop offset="0.311" stop-color="#8b8b8b"/><stop offset="0.332" stop-color="#828282"/><stop offset="0.354" stop-color="#7e7e7e"/><stop offset="0.393" stop-color="#848484"/><stop offset="0.507" stop-color="#b4b4b4"/><stop offset="0.589" stop-color="#c2c2c2"/><stop offset="0.761" stop-color="#c7c7c7"/><stop offset="1.000" stop-color="#b9b9b9"/></linearGradient><linearGradient id="hg32" x2="0" y2="1"><stop offset="0.000" stop-color="#f6f6f6"/><stop offset="0.104" stop-color="#f1f1f1"/><stop offset="0.168" stop-color="#e4e4e4"/><stop offset="0.218" stop-color="#cdcdcd"/><stop offset="0.307" stop-color="#919191"/><stop offset="0.332" stop-color="#868686"/><stop offset="0.354" stop-color="#828282"/><stop offset="0.396" stop-color="#898989"/><stop offset="0.511" stop-color="#b5b5b5"/><stop offset="0.596" stop-color="#c3c3c3"/><stop offset="0.764" stop-color="#c6c6c6"/><stop offset="1.000" stop-color="#b5b5b5"/></linearGradient><linearGradient id="hg33" x2="0" y2="1"><stop offset="0.000" stop-color="#f8f8f8"/><stop offset="0.104" stop-color="#f2f2f2"/><stop offset="0.168" stop-color="#e6e6e6"/><stop offset="0.218" stop-color="#cfcfcf"/><stop offset="0.307" stop-color="#969696"/><stop offset="0.350" stop-color="#898989"/><stop offset="0.393" stop-color="#8e8e8e"/><stop offset="0.518" stop-color="#bababa"/><stop offset="0.611" stop-color="#c6c6c6"/><stop offset="0.768" stop-color="#c8c8c8"/><stop offset="1.000" stop-color="#b4b4b4"/></linearGradient><linearGradient id="hg34" x2="0" y2="1"><stop offset="0.000" stop-color="#f5f5f5"/><stop offset="0.100" stop-color="#f0f0f0"/><stop offset="0.164" stop-color="#e3e3e3"/><stop offset="0.214" stop-color="#cecece"/><stop offset="0.307" stop-color="#979797"/><stop offset="0.350" stop-color="#8b8b8b"/><stop offset="0.396" stop-color="#909090"/><stop offset="0.521" stop-color="#b9b9b9"/><stop offset="0.621" stop-color="#c5c5c5"/><stop offset="0.775" stop-color="#c4c4c4"/><stop offset="1.000" stop-color="#adadad"/></linearGradient><linearGradient id="hg35" x2="0" y2="1"><stop offset="0.000" stop-color="#f4f4f4"/><stop offset="0.096" stop-color="#eeeeee"/><stop offset="0.161" stop-color="#e3e3e3"/><stop offset="0.211" stop-color="#cfcfcf"/><stop offset="0.304" stop-color="#9b9b9b"/><stop offset="0.350" stop-color="#8e8e8e"/><stop offset="0.396" stop-color="#939393"/><stop offset="0.525" stop-color="#bababa"/><stop offset="0.632" stop-color="#c5c5c5"/><stop offset="0.771" stop-color="#c3c3c3"/><stop offset="1.000" stop-color="#a9a9a9"/></linearGradient><linearGradient id="hg36" x2="0" y2="1"><stop offset="0.000" stop-color="#f1f1f1"/><stop offset="0.096" stop-color="#ebebeb"/><stop offset="0.161" stop-color="#e0e0e0"/><stop offset="0.211" stop-color="#cdcdcd"/><stop offset="0.304" stop-color="#9b9b9b"/><stop offset="0.350" stop-color="#8f8f8f"/><stop offset="0.396" stop-color="#949494"/><stop offset="0.529" stop-color="#b9b9b9"/><stop offset="0.639" stop-color="#c3c3c3"/><stop offset="0.764" stop-color="#bfbfbf"/><stop offset="0.936" stop-color="#a7a7a7"/><stop offset="1.000" stop-color="#a2a2a2"/></linearGradient><linearGradient id="hg37" x2="0" y2="1"><stop offset="0.000" stop-color="#eeeeee"/><stop offset="0.093" stop-color="#e9e9e9"/><stop offset="0.157" stop-color="#dedede"/><stop offset="0.207" stop-color="#cccccc"/><stop offset="0.304" stop-color="#9c9c9c"/><stop offset="0.350" stop-color="#919191"/><stop offset="0.396" stop-color="#959595"/><stop offset="0.532" stop-color="#b8b8b8"/><stop offset="0.643" stop-color="#c0c0c0"/><stop offset="0.757" stop-color="#bcbcbc"/><stop offset="0.929" stop-color="#a1a1a1"/><stop offset="1.000" stop-color="#9c9c9c"/></linearGradient><linearGradient id="hg38" x2="0" y2="1"><stop offset="0.000" stop-color="#efefef"/><stop offset="0.093" stop-color="#eaeaea"/><stop offset="0.157" stop-color="#dfdfdf"/><stop offset="0.207" stop-color="#cdcdcd"/><stop offset="0.300" stop-color="#a1a1a1"/><stop offset="0.346" stop-color="#969696"/><stop offset="0.396" stop-color="#999999"/><stop offset="0.532" stop-color="#bababa"/><stop offset="0.639" stop-color="#c2c2c2"/><stop offset="0.743" stop-color="#bdbdbd"/><stop offset="0.925" stop-color="#a0a0a0"/><stop offset="1.000" stop-color="#9c9c9c"/></linearGradient><linearGradient id="hg39" x2="0" y2="1"><stop offset="0.000" stop-color="#ededed"/><stop offset="0.089" stop-color="#e8e8e8"/><stop offset="0.154" stop-color="#dedede"/><stop offset="0.204" stop-color="#cecece"/><stop offset="0.300" stop-color="#a3a3a3"/><stop offset="0.346" stop-color="#989898"/><stop offset="0.396" stop-color="#9b9b9b"/><stop offset="0.532" stop-color="#bbbbbb"/><stop offset="0.636" stop-color="#c1c1c1"/><stop offset="0.746" stop-color="#bbbbbb"/><stop offset="0.929" stop-color="#9c9c9c"/><stop offset="1.000" stop-color="#9a9a9a"/></linearGradient><linearGradient id="hg40" x2="0" y2="1"><stop offset="0.000" stop-color="#eaeaea"/><stop offset="0.089" stop-color="#e5e5e5"/><stop offset="0.154" stop-color="#dbdbdb"/><stop offset="0.204" stop-color="#cbcbcb"/><stop offset="0.300" stop-color="#a3a3a3"/><stop offset="0.346" stop-color="#999999"/><stop offset="0.396" stop-color="#9c9c9c"/><stop offset="0.532" stop-color="#b9b9b9"/><stop offset="0.632" stop-color="#bfbfbf"/><stop offset="0.739" stop-color="#b8b8b8"/><stop offset="0.918" stop-color="#989898"/><stop offset="1.000" stop-color="#969696"/></linearGradient><linearGradient id="hg41" x2="0" y2="1"><stop offset="0.000" stop-color="#e9e9e9"/><stop offset="0.086" stop-color="#e4e4e4"/><stop offset="0.150" stop-color="#dbdbdb"/><stop offset="0.200" stop-color="#cccccc"/><stop offset="0.296" stop-color="#a6a6a6"/><stop offset="0.343" stop-color="#9c9c9c"/><stop offset="0.396" stop-color="#9f9f9f"/><stop offset="0.532" stop-color="#bababa"/><stop offset="0.625" stop-color="#bfbfbf"/><stop offset="0.729" stop-color="#b7b7b7"/><stop offset="0.911" stop-color="#969696"/><stop offset="1.000" stop-color="#969696"/></linearGradient><linearGradient id="hg42" x2="0" y2="1"><stop offset="0.000" stop-color="#e8e8e8"/><stop offset="0.086" stop-color="#e3e3e3"/><stop offset="0.150" stop-color="#dadada"/><stop offset="0.200" stop-color="#cccccc"/><stop offset="0.296" stop-color="#a8a8a8"/><stop offset="0.343" stop-color="#9f9f9f"/><stop offset="0.396" stop-color="#a1a1a1"/><stop offset="0.532" stop-color="#bbbbbb"/><stop offset="0.621" stop-color="#bfbfbf"/><stop offset="0.721" stop-color="#b7b7b7"/><stop offset="0.904" stop-color="#949494"/><stop offset="0.950" stop-color="#929292"/><stop offset="1.000" stop-color="#969696"/></linearGradient><linearGradient id="hg43" x2="0" y2="1"><stop offset="0.000" stop-color="#e5e5e5"/><stop offset="0.086" stop-color="#e1e1e1"/><stop offset="0.150" stop-color="#d8d8d8"/><stop offset="0.200" stop-color="#cacaca"/><stop offset="0.293" stop-color="#aaaaaa"/><stop offset="0.343" stop-color="#a0a0a0"/><stop offset="0.396" stop-color="#a2a2a2"/><stop offset="0.532" stop-color="#bababa"/><stop offset="0.614" stop-color="#bdbdbd"/><stop offset="0.711" stop-color="#b5b5b5"/><stop offset="0.893" stop-color="#919191"/><stop offset="0.946" stop-color="#8e8e8e"/><stop offset="1.000" stop-color="#949494"/></linearGradient><linearGradient id="hg44" x2="0" y2="1"><stop offset="0.000" stop-color="#e5e5e5"/><stop offset="0.086" stop-color="#e1e1e1"/><stop offset="0.146" stop-color="#d8d8d8"/><stop offset="0.196" stop-color="#cccccc"/><stop offset="0.293" stop-color="#acacac"/><stop offset="0.343" stop-color="#a3a3a3"/><stop offset="0.396" stop-color="#a5a5a5"/><stop offset="0.529" stop-color="#bbbbbb"/><stop offset="0.604" stop-color="#bebebe"/><stop offset="0.700" stop-color="#b5b5b5"/><stop offset="0.886" stop-color="#919191"/><stop offset="0.943" stop-color="#8f8f8f"/><stop offset="1.000" stop-color="#969696"/></linearGradient><linearGradient id="hg45" x2="0" y2="1"><stop offset="0.000" stop-color="#e4e4e4"/><stop offset="0.082" stop-color="#e0e0e0"/><stop offset="0.146" stop-color="#d8d8d8"/><stop offset="0.196" stop-color="#cbcbcb"/><stop offset="0.293" stop-color="#acacac"/><stop offset="0.339" stop-color="#a4a4a4"/><stop offset="0.386" stop-color="#a5a5a5"/><stop offset="0.514" stop-color="#b9b9b9"/><stop offset="0.596" stop-color="#bebebe"/><stop offset="0.689" stop-color="#b5b5b5"/><stop offset="0.879" stop-color="#919191"/><stop offset="0.936" stop-color="#909090"/><stop offset="1.000" stop-color="#999999"/></linearGradient><linearGradient id="hg46" x2="0" y2="1"><stop offset="0.000" stop-color="#e4e4e4"/><stop offset="0.082" stop-color="#dfdfdf"/><stop offset="0.143" stop-color="#d7d7d7"/><stop offset="0.193" stop-color="#cccccc"/><stop offset="0.289" stop-color="#aeaeae"/><stop offset="0.339" stop-color="#a5a5a5"/><stop offset="0.386" stop-color="#a5a5a5"/><stop offset="0.514" stop-color="#b9b9b9"/><stop offset="0.589" stop-color="#bdbdbd"/><stop offset="0.679" stop-color="#b5b5b5"/><stop offset="0.818" stop-color="#999999"/><stop offset="0.871" stop-color="#919191"/><stop offset="0.932" stop-color="#919191"/><stop offset="1.000" stop-color="#9c9c9c"/></linearGradient><linearGradient id="hg47" x2="0" y2="1"><stop offset="0.000" stop-color="#e2e2e2"/><stop offset="0.082" stop-color="#dedede"/><stop offset="0.143" stop-color="#d6d6d6"/><stop offset="0.289" stop-color="#adadad"/><stop offset="0.339" stop-color="#a5a5a5"/><stop offset="0.386" stop-color="#a5a5a5"/><stop offset="0.511" stop-color="#b8b8b8"/><stop offset="0.582" stop-color="#bcbcbc"/><stop offset="0.668" stop-color="#b5b5b5"/><stop offset="0.811" stop-color="#989898"/><stop offset="0.864" stop-color="#919191"/><stop offset="0.929" stop-color="#929292"/><stop offset="1.000" stop-color="#9e9e9e"/></linearGradient><linearGradient id="hg48" x2="0" y2="1"><stop offset="0.000" stop-color="#e3e3e3"/><stop offset="0.139" stop-color="#d7d7d7"/><stop offset="0.289" stop-color="#afafaf"/><stop offset="0.339" stop-color="#a7a7a7"/><stop offset="0.389" stop-color="#a8a8a8"/><stop offset="0.507" stop-color="#b9b9b9"/><stop offset="0.575" stop-color="#bdbdbd"/><stop offset="0.661" stop-color="#b6b6b6"/><stop offset="0.804" stop-color="#9a9a9a"/><stop offset="0.861" stop-color="#939393"/><stop offset="0.925" stop-color="#959595"/><stop offset="1.000" stop-color="#a2a2a2"/></linearGradient><linearGradient id="hg49" x2="0" y2="1"><stop offset="0.000" stop-color="#e2e2e2"/><stop offset="0.139" stop-color="#d6d6d6"/><stop offset="0.289" stop-color="#b0b0b0"/><stop offset="0.339" stop-color="#a8a8a8"/><stop offset="0.389" stop-color="#a9a9a9"/><stop offset="0.504" stop-color="#b9b9b9"/><stop offset="0.571" stop-color="#bdbdbd"/><stop offset="0.657" stop-color="#b6b6b6"/><stop offset="0.796" stop-color="#9b9b9b"/><stop offset="0.854" stop-color="#949494"/><stop offset="0.921" stop-color="#969696"/><stop offset="1.000" stop-color="#a5a5a5"/></linearGradient><linearGradient id="hg50" x2="0" y2="1"><stop offset="0.000" stop-color="#e0e0e0"/><stop offset="0.136" stop-color="#d5d5d5"/><stop offset="0.286" stop-color="#b0b0b0"/><stop offset="0.339" stop-color="#a8a8a8"/><stop offset="0.389" stop-color="#a9a9a9"/><stop offset="0.504" stop-color="#b8b8b8"/><stop offset="0.568" stop-color="#bcbcbc"/><stop offset="0.650" stop-color="#b5b5b5"/><stop offset="0.793" stop-color="#9b9b9b"/><stop offset="0.850" stop-color="#949494"/><stop offset="0.918" stop-color="#979797"/><stop offset="1.000" stop-color="#a6a6a6"/></linearGradient><linearGradient id="hg51" x2="0" y2="1"><stop offset="0.000" stop-color="#dedede"/><stop offset="0.136" stop-color="#d3d3d3"/><stop offset="0.286" stop-color="#afafaf"/><stop offset="0.339" stop-color="#a7a7a7"/><stop offset="0.393" stop-color="#a8a8a8"/><stop offset="0.521" stop-color="#b8b8b8"/><stop offset="0.586" stop-color="#b9b9b9"/><stop offset="0.661" stop-color="#b2b2b2"/><stop offset="0.804" stop-color="#989898"/><stop offset="0.864" stop-color="#949494"/><stop offset="0.925" stop-color="#999999"/><stop offset="1.000" stop-color="#a7a7a7"/></linearGradient><linearGradient id="hg52" x2="0" y2="1"><stop offset="0.000" stop-color="#e0e0e0"/><stop offset="0.136" stop-color="#d5d5d5"/><stop offset="0.286" stop-color="#b1b1b1"/><stop offset="0.339" stop-color="#aaaaaa"/><stop offset="0.393" stop-color="#ababab"/><stop offset="0.518" stop-color="#bababa"/><stop offset="0.582" stop-color="#bbbbbb"/><stop offset="0.654" stop-color="#b4b4b4"/><stop offset="0.796" stop-color="#9c9c9c"/><stop offset="0.857" stop-color="#989898"/><stop offset="0.918" stop-color="#9c9c9c"/><stop offset="1.000" stop-color="#acacac"/></linearGradient><linearGradient id="hg53" x2="0" y2="1"><stop offset="0.000" stop-color="#dedede"/><stop offset="0.132" stop-color="#d3d3d3"/><stop offset="0.286" stop-color="#b0b0b0"/><stop offset="0.339" stop-color="#a9a9a9"/><stop offset="0.393" stop-color="#aaaaaa"/><stop offset="0.518" stop-color="#b8b8b8"/><stop offset="0.579" stop-color="#b9b9b9"/><stop offset="0.650" stop-color="#b3b3b3"/><stop offset="0.789" stop-color="#9c9c9c"/><stop offset="0.854" stop-color="#989898"/><stop offset="0.918" stop-color="#9d9d9d"/><stop offset="1.000" stop-color="#adadad"/></linearGradient><linearGradient id="hg54" x2="0" y2="1"><stop offset="0.000" stop-color="#dfdfdf"/><stop offset="0.132" stop-color="#d4d4d4"/><stop offset="0.282" stop-color="#b2b2b2"/><stop offset="0.339" stop-color="#ababab"/><stop offset="0.393" stop-color="#acacac"/><stop offset="0.514" stop-color="#bababa"/><stop offset="0.575" stop-color="#bbbbbb"/><stop offset="0.646" stop-color="#b5b5b5"/><stop offset="0.782" stop-color="#9f9f9f"/><stop offset="0.846" stop-color="#9b9b9b"/><stop offset="0.911" stop-color="#a0a0a0"/><stop offset="1.000" stop-color="#b1b1b1"/></linearGradient><linearGradient id="hg55" x2="0" y2="1"><stop offset="0.000" stop-color="#dcdcdc"/><stop offset="0.129" stop-color="#d2d2d2"/><stop offset="0.282" stop-color="#b0b0b0"/><stop offset="0.339" stop-color="#a9a9a9"/><stop offset="0.393" stop-color="#aaaaaa"/><stop offset="0.514" stop-color="#b7b7b7"/><stop offset="0.571" stop-color="#b8b8b8"/><stop offset="0.639" stop-color="#b3b3b3"/><stop offset="0.779" stop-color="#9e9e9e"/><stop offset="0.843" stop-color="#9a9a9a"/><stop offset="0.907" stop-color="#a0a0a0"/><stop offset="1.000" stop-color="#b1b1b1"/></linearGradient><linearGradient id="hg56" x2="0" y2="1"><stop offset="0.000" stop-color="#dedede"/><stop offset="0.129" stop-color="#d4d4d4"/><stop offset="0.282" stop-color="#b3b3b3"/><stop offset="0.339" stop-color="#acacac"/><stop offset="0.393" stop-color="#adadad"/><stop offset="0.511" stop-color="#bababa"/><stop offset="0.568" stop-color="#bbbbbb"/><stop offset="0.636" stop-color="#b6b6b6"/><stop offset="0.771" stop-color="#a2a2a2"/><stop offset="0.836" stop-color="#9f9f9f"/><stop offset="0.904" stop-color="#a4a4a4"/><stop offset="1.000" stop-color="#b5b5b5"/></linearGradient><linearGradient id="hg57" x2="0" y2="1"><stop offset="0.000" stop-color="#dcdcdc"/><stop offset="0.129" stop-color="#d2d2d2"/><stop offset="0.282" stop-color="#b2b2b2"/><stop offset="0.339" stop-color="#ababab"/><stop offset="0.564" stop-color="#b9b9b9"/><stop offset="0.632" stop-color="#b4b4b4"/><stop offset="0.768" stop-color="#a2a2a2"/><stop offset="0.832" stop-color="#9f9f9f"/><stop offset="0.900" stop-color="#a5a5a5"/><stop offset="1.000" stop-color="#b6b6b6"/></linearGradient><linearGradient id="hg58" x2="0" y2="1"><stop offset="0.000" stop-color="#dadada"/><stop offset="0.125" stop-color="#d0d0d0"/><stop offset="0.282" stop-color="#b0b0b0"/><stop offset="0.339" stop-color="#aaaaaa"/><stop offset="0.561" stop-color="#b8b8b8"/><stop offset="0.625" stop-color="#b3b3b3"/><stop offset="0.761" stop-color="#a2a2a2"/><stop offset="0.825" stop-color="#9f9f9f"/><stop offset="0.893" stop-color="#a5a5a5"/><stop offset="1.000" stop-color="#b7b7b7"/></linearGradient><linearGradient id="hg59" x2="0" y2="1"><stop offset="0.000" stop-color="#dbdbdb"/><stop offset="0.125" stop-color="#d1d1d1"/><stop offset="0.282" stop-color="#b2b2b2"/><stop offset="0.343" stop-color="#ababab"/><stop offset="0.561" stop-color="#b9b9b9"/><stop offset="0.754" stop-color="#a5a5a5"/><stop offset="0.821" stop-color="#a2a2a2"/><stop offset="0.889" stop-color="#a8a8a8"/><stop offset="1.000" stop-color="#bababa"/></linearGradient><linearGradient id="hg60" x2="0" y2="1"><stop offset="0.000" stop-color="#dbdbdb"/><stop offset="0.121" stop-color="#d1d1d1"/><stop offset="0.282" stop-color="#b2b2b2"/><stop offset="0.343" stop-color="#acacac"/><stop offset="0.557" stop-color="#b9b9b9"/><stop offset="0.750" stop-color="#a6a6a6"/><stop offset="0.814" stop-color="#a4a4a4"/><stop offset="0.882" stop-color="#a9a9a9"/><stop offset="1.000" stop-color="#bcbcbc"/></linearGradient></defs>
<g shape-rendering="crispEdges"><rect x="45" y="382" width="3" height="140" fill="url(#hg0)"/><rect x="48" y="382" width="3" height="140" fill="url(#hg1)"/><rect x="51" y="382" width="3" height="140" fill="url(#hg2)"/><rect x="54" y="382" width="3" height="140" fill="url(#hg3)"/><rect x="57" y="382" width="3" height="140" fill="url(#hg4)"/><rect x="60" y="382" width="3" height="140" fill="url(#hg5)"/><rect x="63" y="382" width="3" height="140" fill="url(#hg6)"/><rect x="66" y="382" width="3" height="140" fill="url(#hg7)"/><rect x="69" y="382" width="3" height="140" fill="url(#hg8)"/><rect x="72" y="382" width="3" height="140" fill="url(#hg9)"/><rect x="75" y="382" width="3" height="140" fill="url(#hg10)"/><rect x="78" y="382" width="3" height="140" fill="url(#hg11)"/><rect x="81" y="382" width="3" height="140" fill="url(#hg12)"/><rect x="84" y="382" width="3" height="140" fill="url(#hg13)"/><rect x="87" y="382" width="3" height="140" fill="url(#hg14)"/><rect x="90" y="382" width="3" height="140" fill="url(#hg15)"/><rect x="93" y="382" width="3" height="140" fill="url(#hg16)"/><rect x="96" y="382" width="3" height="140" fill="url(#hg17)"/><rect x="99" y="382" width="3" height="140" fill="url(#hg18)"/><rect x="102" y="382" width="3" height="140" fill="url(#hg19)"/><rect x="105" y="382" width="3" height="140" fill="url(#hg20)"/><rect x="108" y="382" width="3" height="140" fill="url(#hg21)"/><rect x="111" y="382" width="3" height="140" fill="url(#hg22)"/><rect x="114" y="382" width="3" height="140" fill="url(#hg23)"/><rect x="117" y="382" width="3" height="140" fill="url(#hg24)"/><rect x="120" y="382" width="3" height="140" fill="url(#hg25)"/><rect x="123" y="382" width="3" height="140" fill="url(#hg26)"/><rect x="126" y="382" width="3" height="140" fill="url(#hg27)"/><rect x="129" y="382" width="3" height="140" fill="url(#hg28)"/><rect x="132" y="382" width="3" height="140" fill="url(#hg29)"/><rect x="135" y="382" width="3" height="140" fill="url(#hg30)"/><rect x="138" y="382" width="3" height="140" fill="url(#hg31)"/><rect x="141" y="382" width="3" height="140" fill="url(#hg32)"/><rect x="144" y="382" width="3" height="140" fill="url(#hg33)"/><rect x="147" y="382" width="3" height="140" fill="url(#hg34)"/><rect x="150" y="382" width="3" height="140" fill="url(#hg35)"/><rect x="153" y="382" width="3" height="140" fill="url(#hg36)"/><rect x="156" y="382" width="3" height="140" fill="url(#hg37)"/><rect x="159" y="382" width="3" height="140" fill="url(#hg38)"/><rect x="162" y="382" width="3" height="140" fill="url(#hg39)"/><rect x="165" y="382" width="3" height="140" fill="url(#hg40)"/><rect x="168" y="382" width="3" height="140" fill="url(#hg41)"/><rect x="171" y="382" width="3" height="140" fill="url(#hg42)"/><rect x="174" y="382" width="3" height="140" fill="url(#hg43)"/><rect x="177" y="382" width="3" height="140" fill="url(#hg44)"/><rect x="180" y="382" width="3" height="140" fill="url(#hg45)"/><rect x="183" y="382" width="3" height="140" fill="url(#hg46)"/><rect x="186" y="382" width="3" height="140" fill="url(#hg47)"/><rect x="189" y="382" width="3" height="140" fill="url(#hg48)"/><rect x="192" y="382" width="3" height="140" fill="url(#hg49)"/><rect x="195" y="382" width="3" height="140" fill="url(#hg50)"/><rect x="198" y="382" width="3" height="140" fill="url(#hg51)"/><rect x="201" y="382" width="3" height="140" fill="url(#hg52)"/><rect x="204" y="382" width="3" height="140" fill="url(#hg53)"/><rect x="207" y="382" width="3" height="140" fill="url(#hg54)"/><rect x="210" y="382" width="3" height="140" fill="url(#hg55)"/><rect x="213" y="382" width="3" height="140" fill="url(#hg56)"/><rect x="216" y="382" width="3" height="140" fill="url(#hg57)"/><rect x="219" y="382" width="3" height="140" fill="url(#hg58)"/><rect x="222" y="382" width="3" height="140" fill="url(#hg59)"/><rect x="225" y="382" width="2" height="140" fill="url(#hg60)"/></g>
<path d="M256.6 38.7L276.5 37.7L301.6 35.3L310.2 34.7L319.6 34.7L333.1 35.7L336.8 35.6L338.7 35.3L340.6 34.8L347.3 31.5L348.8 31.0L350.3 30.8L352.2 31.2L354.1 32.2L360.5 37.9L363.1 39.8L365.7 41.0L368.7 41.8" fill="none" stroke="#161616" stroke-width="0.85" stroke-linejoin="round" />
<path d="M256.6 43.2L267.5 42.8L276.5 42.1L284.3 41.3L301.2 39.2L309.8 38.5L319.2 38.7L333.5 40.2L337.2 40.3L340.6 39.5L347.0 36.4L348.5 35.9L349.6 35.8L351.5 36.1L353.3 37.2L359.7 43.1L362.3 45.0L365.3 46.4L368.7 47.2" fill="none" stroke="#161616" stroke-width="0.85" stroke-linejoin="round" />
<path d="M256.6 47.6L267.5 47.2L276.5 46.6L284.3 45.6L300.5 43.1L309.1 42.3L314.0 42.3L318.8 42.7L324.1 43.3L333.1 44.9L337.2 45.0L339.1 44.8L340.6 44.3L346.6 41.3L348.1 40.8L349.2 40.7L350.7 41.0L352.6 42.1L354.5 43.8L358.6 48.0L361.6 50.3L364.6 51.7L368.7 52.5" fill="none" stroke="#161616" stroke-width="0.85" stroke-linejoin="round" />
<path d="M256.6 52.0L267.5 51.6L276.1 50.9L284.0 49.7L300.1 46.7L304.6 46.2L308.7 45.9L313.2 46.0L318.1 46.5L323.3 47.4L333.1 49.5L335.3 49.8L337.2 49.9L339.1 49.6L340.6 49.1L346.6 46.0L347.7 45.7L348.8 45.6L350.3 46.1L352.2 47.3L357.8 53.2L360.8 55.6L362.3 56.4L364.2 57.0L368.7 57.8" fill="none" stroke="#161616" stroke-width="0.85" stroke-linejoin="round" />
<path d="M256.6 55.7L267.5 55.4L276.5 54.6L284.0 53.2L299.0 49.6L302.7 49.0L306.1 48.7L311.3 48.7L316.6 49.4L322.2 50.8L332.7 53.9L336.5 54.5L338.3 54.4L339.8 54.0L341.7 53.1L345.8 50.7L347.0 50.3L348.1 50.3L349.6 50.7L351.1 51.8L356.7 58.2L358.2 59.6L359.7 60.7L361.6 61.7L363.5 62.3L368.7 63.0" fill="none" stroke="#161616" stroke-width="0.85" stroke-linejoin="round" />
<path d="M256.6 59.5L266.7 59.3L275.0 58.5L282.8 56.9L295.2 53.2L299.7 52.1L304.6 51.3L309.5 51.4L313.2 51.9L317.3 52.9L321.8 54.5L331.6 58.3L335.7 59.3L337.6 59.3L339.1 59.0L341.0 58.1L345.5 55.3L347.0 54.9L348.1 55.0L349.2 55.6L350.3 56.5L355.6 63.1L357.1 64.7L358.6 65.9L360.5 66.9L362.3 67.5L365.0 68.0L368.7 68.3" fill="none" stroke="#f01818" stroke-width="0.85" stroke-linejoin="round" />
<path d="M256.6 63.5L267.1 63.4L271.2 63.1L275.3 62.4L279.1 61.5L282.8 60.3L294.5 55.6L298.6 54.2L303.1 53.3L307.2 53.3L311.0 53.9L314.7 55.2L318.8 57.1L329.7 62.8L332.3 63.9L334.6 64.4L336.5 64.5L338.3 64.0L340.2 62.9L344.3 59.7L345.8 59.2L347.0 59.4L348.1 60.0L349.2 61.1L354.5 68.4L356.0 70.0L357.5 71.2L359.3 72.2L361.6 72.8L364.6 73.3L368.7 73.5" fill="none" stroke="#161616" stroke-width="0.85" stroke-linejoin="round" />
<path d="M256.6 67.4L262.6 67.5L267.5 67.4L271.6 66.9L275.3 66.2L278.7 65.2L282.5 63.7L293.7 57.8L297.5 56.1L301.6 55.1L305.3 55.0L308.7 55.8L312.5 57.4L316.2 59.6L327.1 66.9L330.5 68.7L333.1 69.6L335.0 69.7L336.8 69.2L338.7 68.0L343.2 64.0L344.7 63.4L345.8 63.6L347.0 64.3L348.1 65.5L352.2 72.0L353.7 74.1L354.8 75.3L356.3 76.5L358.2 77.4L360.8 78.1L364.2 78.5L368.7 78.8" fill="none" stroke="#161616" stroke-width="0.85" stroke-linejoin="round" />
<path d="M256.6 70.8L262.6 71.0L267.1 70.9L271.2 70.4L275.0 69.6L278.3 68.3L281.7 66.7L292.2 59.9L296.0 57.9L299.7 56.7L301.6 56.5L303.5 56.6L306.8 57.5L310.2 59.3L313.6 61.8L321.1 68.1L324.5 70.7L328.2 73.1L331.2 74.3L333.5 74.5L335.3 74.0L337.2 72.6L341.0 68.6L342.1 67.6L343.6 67.0L344.7 67.2L345.8 68.1L347.0 69.5L352.2 78.4L353.7 80.2L355.2 81.5L357.1 82.5L359.7 83.2L363.5 83.7L368.7 84.0" fill="none" stroke="#161616" stroke-width="0.85" stroke-linejoin="round" />
<path d="M256.6 74.2L262.6 74.6L267.1 74.5L270.8 74.0L274.6 72.9L278.0 71.5L281.3 69.4L291.1 61.8L294.5 59.6L297.8 58.2L299.7 58.0L301.2 58.0L302.7 58.3L304.6 59.0L308.0 61.2L311.3 64.2L321.1 73.8L324.8 76.8L327.8 78.5L329.7 79.2L331.2 79.4L332.7 79.2L333.8 78.8L336.1 76.9L340.6 71.5L341.7 70.8L342.8 70.6L344.0 71.1L345.5 72.9L350.7 82.5L352.2 84.6L354.1 86.4L356.3 87.7L359.0 88.4L363.1 88.9L368.7 89.2" fill="none" stroke="#f01818" stroke-width="0.85" stroke-linejoin="round" />
<path d="M256.6 78.0L262.2 78.3L266.7 78.2L270.5 77.7L274.2 76.6L277.2 75.2L280.6 73.0L289.6 65.3L293.0 62.8L294.8 61.9L296.3 61.4L298.2 61.1L299.7 61.2L301.2 61.5L302.7 62.2L305.7 64.2L308.7 67.0L315.5 74.3L318.5 77.3L321.8 80.1L325.2 82.2L327.1 83.0L328.6 83.3L330.1 83.3L331.6 82.8L332.7 82.1L334.2 80.8L339.1 75.1L340.6 74.3L341.7 74.3L342.8 75.0L344.0 76.3L345.5 78.7L350.0 87.1L351.8 89.6L353.7 91.2L356.3 92.6L359.3 93.5L363.5 94.1L368.7 94.4" fill="none" stroke="#161616" stroke-width="0.85" stroke-linejoin="round" />
<path d="M256.6 81.8L262.2 82.1L266.7 82.0L270.5 81.4L273.8 80.2L276.8 78.6L279.8 76.5L288.5 68.5L291.5 66.1L293.3 65.0L294.8 64.5L296.3 64.2L297.8 64.3L300.5 65.1L303.5 67.3L306.5 70.2L312.8 77.6L316.2 81.2L319.6 84.1L323.0 86.1L324.8 86.9L326.7 87.2L328.2 87.1L329.7 86.7L330.8 86.0L332.3 84.7L336.1 80.4L337.6 78.9L339.1 78.1L340.2 78.1L341.3 78.7L342.8 80.3L349.2 91.5L351.1 93.9L353.0 95.7L355.6 97.3L359.0 98.4L363.1 99.2L368.7 99.5" fill="none" stroke="#161616" stroke-width="0.85" stroke-linejoin="round" />
<path d="M256.6 85.7L261.8 86.0L266.0 85.8L269.3 85.2L272.7 84.0L275.3 82.5L278.3 80.2L286.6 71.9L289.6 69.4L291.1 68.5L292.6 67.8L294.1 67.5L295.6 67.6L296.7 67.9L298.2 68.5L300.8 70.5L303.8 73.6L309.8 81.0L312.8 84.3L316.2 87.4L319.6 89.6L321.8 90.6L323.7 91.0L325.6 91.0L327.1 90.5L328.6 89.7L330.1 88.4L334.2 83.7L335.7 82.3L337.2 81.5L338.3 81.6L339.5 82.1L341.0 83.6L342.5 85.8L346.2 92.5L348.1 95.4L350.3 98.2L352.6 100.3L355.6 102.2L359.3 103.6L363.5 104.4L368.7 104.7" fill="none" stroke="#161616" stroke-width="0.85" stroke-linejoin="round" />
<path d="M256.6 89.7L261.5 89.9L265.2 89.6L268.2 89.0L271.2 87.8L273.8 86.3L276.8 83.8L284.7 75.4L287.3 72.9L288.8 71.9L290.3 71.2L291.8 70.9L293.3 70.9L295.6 71.8L298.2 73.8L300.8 76.7L306.8 84.5L309.8 88.0L313.2 91.1L316.6 93.3L318.8 94.3L320.7 94.7L322.6 94.8L324.5 94.4L326.0 93.6L327.5 92.4L332.0 87.4L333.5 86.1L335.0 85.3L336.5 85.3L338.0 86.1L339.5 87.8L345.1 96.6L347.7 100.2L350.3 103.0L353.3 105.6L356.3 107.5L359.7 108.8L363.5 109.5L368.7 109.9" fill="none" stroke="#161616" stroke-width="0.85" stroke-linejoin="round" />
<path d="M256.6 93.7L261.1 93.8L264.5 93.5L267.5 92.7L270.1 91.5L272.7 89.8L275.3 87.4L282.8 78.8L285.5 76.2L287.0 75.1L288.5 74.5L290.0 74.2L291.1 74.3L293.3 75.3L295.6 77.2L298.2 80.2L303.8 87.9L306.8 91.6L310.2 94.9L313.6 97.1L315.8 98.0L318.1 98.6L320.0 98.6L321.8 98.2L323.3 97.4L325.2 96.0L329.7 91.3L331.2 90.0L333.1 89.1L334.6 89.2L336.1 90.1L337.6 91.7L343.2 99.6L346.2 103.2L351.8 108.9L354.8 111.5L357.5 113.1L360.5 114.2L363.8 114.8L368.7 115.1" fill="none" stroke="#161616" stroke-width="0.85" stroke-linejoin="round" />
<path d="M256.6 97.8L260.7 97.8L263.7 97.4L266.3 96.7L269.0 95.4L271.2 93.8L273.8 91.3L281.0 82.6L283.6 79.9L285.1 78.8L286.2 78.2L287.7 77.8L288.8 77.9L290.0 78.2L291.1 78.8L293.3 80.8L295.6 83.5L301.6 92.0L304.2 95.4L307.6 98.7L311.0 101.0L313.2 101.9L315.5 102.5L317.7 102.6L319.6 102.2L321.1 101.5L323.0 100.2L327.8 95.3L329.3 94.1L331.2 93.3L332.7 93.4L333.8 93.9L335.3 95.2L342.5 104.1L348.5 109.9L353.7 115.5L355.6 117.1L357.8 118.5L360.5 119.5L363.8 120.0L368.7 120.3" fill="none" stroke="#161616" stroke-width="0.85" stroke-linejoin="round" />
<path d="M256.6 102.0L260.0 101.9L263.0 101.4L265.6 100.6L267.8 99.4L270.1 97.7L272.3 95.5L279.5 86.5L282.1 83.7L283.6 82.6L284.7 82.0L286.2 81.7L287.3 81.8L289.2 82.6L291.5 84.5L293.7 87.3L299.7 96.1L302.3 99.5L305.3 102.6L308.7 105.0L311.0 106.0L313.6 106.7L315.8 106.8L318.1 106.4L319.6 105.7L321.5 104.4L326.3 99.6L327.8 98.4L329.7 97.6L331.2 97.7L332.3 98.3L333.8 99.5L340.2 107.2L342.1 109.0L348.1 113.9L353.7 120.5L356.3 123.0L358.6 124.2L360.8 124.9L363.8 125.3L368.7 125.5" fill="none" stroke="#161616" stroke-width="0.85" stroke-linejoin="round" />
<path d="M256.6 106.1L259.6 106.0L262.2 105.5L264.5 104.6L266.7 103.4L269.0 101.6L271.2 99.2L278.0 90.4L280.6 87.5L282.1 86.4L283.2 85.8L284.7 85.5L285.8 85.7L287.0 86.1L288.1 86.9L290.3 89.1L292.6 92.1L298.2 100.6L301.2 104.5L303.8 107.1L306.8 109.1L309.1 110.2L311.7 110.9L314.0 111.0L316.2 110.6L318.1 109.8L319.6 108.8L324.8 103.8L326.3 102.7L328.2 101.9L329.7 102.1L330.8 102.7L332.3 103.9L337.2 109.6L339.5 111.9L341.7 113.6L345.8 116.2L347.7 117.7L350.0 120.3L354.1 126.1L356.3 128.3L358.2 129.4L360.8 130.2L363.8 130.5L368.7 130.7" fill="none" stroke="#161616" stroke-width="0.85" stroke-linejoin="round" />
<path d="M256.6 110.3L259.2 110.0L261.8 109.3L264.1 108.3L266.0 107.1L267.8 105.4L270.1 102.9L276.5 94.3L278.7 91.7L280.2 90.4L281.3 89.8L282.8 89.4L284.0 89.5L285.8 90.3L288.1 92.4L290.3 95.4L296.0 104.2L298.6 107.7L301.6 110.9L305.0 113.3L307.6 114.5L310.2 115.1L312.5 115.2L314.7 114.8L316.6 114.0L318.1 113.0L323.3 108.1L324.8 107.0L326.7 106.3L328.2 106.5L329.3 107.1L330.8 108.3L335.7 113.9L338.3 116.3L340.6 117.8L345.5 120.1L347.7 121.8L350.0 124.6L354.1 131.3L355.2 132.6L356.7 134.0L358.6 134.9L360.8 135.5L363.8 135.7L368.7 135.8" fill="none" stroke="#161616" stroke-width="0.85" stroke-linejoin="round" />
<path d="M256.6 114.7L258.8 114.4L261.1 113.8L263.3 112.8L265.2 111.5L267.1 109.8L269.0 107.7L275.7 98.5L278.0 95.9L279.5 94.6L280.6 94.0L281.7 93.7L282.8 93.8L284.7 94.6L287.0 96.7L289.2 99.7L294.5 108.0L297.5 112.2L300.5 115.4L303.8 117.8L306.5 118.9L309.1 119.6L311.3 119.7L313.6 119.3L315.5 118.6L317.0 117.6L322.2 112.8L323.7 111.7L325.6 111.0L327.1 111.1L328.2 111.7L329.7 112.8L335.0 118.6L337.6 120.9L340.2 122.4L345.5 124.4L347.7 126.0L348.8 127.3L350.0 129.0L354.1 136.6L355.2 138.1L356.7 139.4L358.2 140.2L360.5 140.7L368.7 141.0" fill="none" stroke="#161616" stroke-width="0.85" stroke-linejoin="round" />
<path d="M256.6 119.4L258.8 119.1L261.1 118.4L263.0 117.5L264.8 116.2L266.7 114.5L268.6 112.4L275.0 103.6L277.2 100.8L278.7 99.5L279.8 98.8L281.3 98.4L282.5 98.5L283.6 98.9L284.7 99.7L287.0 102.0L289.2 105.2L294.5 113.6L297.5 117.7L300.1 120.3L303.1 122.4L305.3 123.5L308.0 124.2L310.6 124.4L312.8 124.1L314.7 123.4L316.6 122.2L321.5 117.8L323.3 116.5L325.2 115.9L326.7 116.1L327.8 116.7L329.3 117.9L334.6 123.6L337.2 125.8L339.8 127.1L345.5 128.9L347.7 130.4L348.8 131.6L350.0 133.4L354.1 142.1L355.2 143.6L356.3 144.7L357.8 145.5L360.1 146.0L368.7 146.2" fill="none" stroke="#161616" stroke-width="0.85" stroke-linejoin="round" />
<path d="M256.6 124.1L258.8 123.7L260.7 123.1L262.6 122.2L264.5 120.9L266.3 119.2L268.2 117.1L274.6 108.2L276.8 105.4L278.3 104.1L279.5 103.5L281.0 103.1L282.1 103.2L283.2 103.7L284.3 104.5L286.6 106.9L288.8 110.2L293.7 118.1L296.7 122.2L299.3 124.9L302.3 127.1L304.6 128.1L307.2 128.8L309.8 129.1L312.1 128.8L314.0 128.2L315.8 127.1L321.1 122.5L322.6 121.4L324.5 120.8L326.3 121.1L328.6 122.6L333.8 128.2L336.8 130.6L339.8 132.0L345.8 133.6L347.0 134.2L348.1 135.1L349.2 136.5L350.0 137.9L353.0 145.2L354.1 147.6L355.2 149.2L356.3 150.2L357.8 150.9L359.7 151.2L368.7 151.4" fill="none" stroke="#161616" stroke-width="0.85" stroke-linejoin="round" />
<path d="M256.6 128.7L258.8 128.3L260.7 127.7L262.6 126.7L264.5 125.3L266.3 123.5L268.2 121.3L274.2 112.8L276.5 110.0L278.0 108.7L279.1 108.1L280.2 107.8L281.3 107.8L283.2 108.7L285.5 110.9L287.3 113.4L293.0 122.6L295.6 126.3L298.6 129.5L301.6 131.7L304.2 132.9L306.8 133.6L309.5 133.8L311.7 133.5L313.6 132.8L315.5 131.7L320.3 127.5L322.2 126.2L324.1 125.7L325.6 125.9L326.7 126.5L327.8 127.3L333.5 133.2L336.5 135.5L339.8 136.9L345.8 138.2L347.0 138.7L348.1 139.5L349.2 140.9L350.3 143.1L353.7 152.4L354.8 154.3L356.0 155.4L357.5 156.1L359.3 156.4L368.7 156.5" fill="none" stroke="#161616" stroke-width="0.85" stroke-linejoin="round" />
<path d="M256.6 133.4L258.8 132.9L260.7 132.2L262.6 131.2L264.1 130.1L266.0 128.2L267.8 126.0L273.8 117.4L276.1 114.6L277.6 113.3L278.7 112.7L279.8 112.5L281.0 112.6L282.1 113.0L283.2 113.8L285.5 116.3L287.3 119.0L292.6 127.6L295.6 131.7L298.2 134.5L301.2 136.6L303.5 137.6L306.1 138.3L308.7 138.5L311.0 138.2L312.8 137.6L314.7 136.5L320.0 132.2L321.5 131.2L323.3 130.6L325.2 130.9L327.5 132.4L332.7 137.8L335.7 140.1L337.6 141.0L339.5 141.6L346.2 143.0L347.3 143.5L348.5 144.4L349.6 146.0L350.3 147.6L353.7 157.8L354.8 159.7L356.0 160.8L357.1 161.3L359.0 161.6L368.7 161.7" fill="none" stroke="#161616" stroke-width="0.85" stroke-linejoin="round" />
<path d="M312.5 339.4L318.2 338.4L322.2 337.2L325.0 335.7L327.9 333.2L329.6 331.0L331.3 327.9L333.0 323.7L336.4 313.2L337.6 311.0L338.1 310.5L338.7 310.6L339.3 311.2L339.8 312.2L343.8 324.1L345.5 328.2L347.3 331.2L349.5 334.0L352.4 336.1L354.1 337.0L356.4 337.9L361.5 339.0L368.9 339.8L368.9 341Z" fill="#c9c9f9" stroke="none"/>
<path d="M257.0 222.7L262.7 222.2L267.5 221.5L272.0 220.5L276.5 219.1L280.6 217.4L284.7 215.3L297.4 207.7L302.3 205.1L304.9 204.0L307.5 203.2L310.2 202.7L312.4 202.6L314.7 202.7L317.3 203.2L319.9 203.9L322.5 205.0L327.4 207.6L340.5 215.4L344.6 217.4L348.7 219.1L353.2 220.5L357.7 221.5L362.9 222.2L368.9 222.7" fill="none" stroke="#161616" stroke-width="0.85" stroke-linejoin="round" />
<path d="M257.0 227.9L263.0 227.4L268.3 226.7L273.1 225.7L277.6 224.3L281.7 222.6L286.2 220.4L299.3 212.6L304.2 210.0L306.8 208.9L309.4 208.2L312.0 207.7L314.3 207.5L316.5 207.7L319.1 208.1L321.4 208.8L324.0 209.9L328.5 212.2L342.0 220.3L346.1 222.4L350.2 224.1L354.3 225.4L358.8 226.5L363.7 227.2L368.9 227.7" fill="none" stroke="#161616" stroke-width="0.85" stroke-linejoin="round" />
<path d="M257.0 233.1L263.4 232.7L269.0 231.9L273.9 230.9L278.7 229.5L283.2 227.7L287.7 225.5L301.2 217.5L305.7 215.1L308.3 214.0L310.9 213.2L313.5 212.7L316.1 212.5L318.4 212.7L320.6 213.0L322.9 213.7L325.5 214.8L330.0 217.2L343.1 225.0L347.2 227.2L351.3 228.9L355.4 230.3L359.5 231.3L364.0 232.1L368.9 232.7" fill="none" stroke="#161616" stroke-width="0.85" stroke-linejoin="round" />
<path d="M257.0 238.3L263.8 237.9L269.8 237.1L275.0 236.1L279.9 234.6L284.4 232.9L288.8 230.7L293.3 228.1L302.3 222.6L306.8 220.3L309.8 219.1L312.8 218.2L315.4 217.7L318.0 217.5L320.3 217.6L322.1 217.9L324.4 218.6L326.6 219.5L331.1 221.9L344.2 229.8L348.3 232.0L352.4 233.7L356.2 235.1L360.3 236.2L364.4 237.0L368.9 237.7" fill="none" stroke="#161616" stroke-width="0.85" stroke-linejoin="round" />
<path d="M257.0 243.4L263.8 243.0L269.8 242.3L275.0 241.3L280.2 239.8L284.7 238.1L289.2 235.9L293.7 233.3L302.3 227.8L306.8 225.5L310.2 224.2L313.9 223.1L317.3 222.5L319.9 222.3L321.8 222.4L323.6 222.7L327.4 224.1L331.1 226.2L344.2 234.1L348.7 236.5L352.8 238.4L356.6 239.8L360.7 241.0L364.8 241.9L368.9 242.6" fill="none" stroke="#161616" stroke-width="0.85" stroke-linejoin="round" />
<path d="M257.0 248.6L264.1 248.1L270.1 247.4L275.7 246.3L280.6 244.9L285.1 243.2L289.6 241.0L293.7 238.6L301.6 233.5L305.7 231.4L310.2 229.7L315.4 228.1L319.1 227.2L321.8 227.0L323.6 227.2L325.1 227.5L328.5 228.9L343.8 238.3L348.3 240.7L352.8 242.8L356.6 244.3L360.7 245.7L364.8 246.7L368.9 247.4" fill="none" stroke="#f01818" stroke-width="0.85" stroke-linejoin="round" />
<path d="M257.0 253.6L263.8 253.1L269.4 252.3L274.6 251.2L279.5 249.9L284.0 248.2L288.5 246.0L292.2 243.8L299.7 238.8L303.1 237.1L306.0 236.1L319.9 232.4L323.6 231.9L325.9 232.2L328.5 233.2L340.8 241.5L345.7 244.3L350.9 246.8L355.4 248.7L359.9 250.2L364.4 251.4L368.9 252.3" fill="none" stroke="#161616" stroke-width="0.85" stroke-linejoin="round" />
<path d="M257.0 258.6L263.0 258.0L268.3 257.3L273.1 256.3L278.0 254.9L282.9 253.2L287.3 251.0L291.1 248.8L297.8 244.0L300.8 242.5L303.8 241.7L310.2 240.8L313.5 240.2L316.5 239.3L322.9 237.2L325.5 236.8L327.4 237.1L329.6 238.1L339.7 245.8L343.8 248.3L348.3 250.6L353.6 252.9L358.4 254.6L363.7 256.1L368.9 257.2" fill="none" stroke="#161616" stroke-width="0.85" stroke-linejoin="round" />
<path d="M257.0 263.5L263.4 262.8L269.4 261.8L275.0 260.4L280.2 258.7L283.6 257.3L287.0 255.5L290.0 253.5L295.9 249.1L297.8 248.0L299.3 247.4L301.9 247.0L309.8 246.8L313.9 246.2L318.4 244.9L325.1 242.1L327.4 241.8L328.9 242.0L330.7 243.0L339.7 250.9L342.7 252.9L346.5 255.0L351.7 257.3L357.3 259.3L362.9 261.0L368.9 262.2" fill="none" stroke="#161616" stroke-width="0.85" stroke-linejoin="round" />
<path d="M257.0 268.4L263.4 267.6L269.4 266.5L275.0 265.0L279.9 263.4L282.9 262.1L285.8 260.4L288.5 258.6L294.1 254.1L295.6 253.2L297.1 252.6L299.7 252.3L305.3 252.8L308.3 252.9L311.7 252.7L315.0 252.2L317.6 251.6L319.9 250.8L326.6 247.4L328.9 246.7L330.4 247.0L332.2 248.0L340.5 256.3L343.5 258.5L346.5 260.2L351.3 262.4L356.9 264.4L362.9 266.0L368.9 267.3" fill="none" stroke="#f01818" stroke-width="0.85" stroke-linejoin="round" />
<path d="M257.0 273.6L263.4 272.7L269.4 271.6L275.0 270.1L279.5 268.4L282.1 267.2L284.7 265.5L287.3 263.5L292.6 258.7L294.1 257.7L295.2 257.2L296.3 257.0L297.8 257.0L303.4 258.1L306.8 258.4L310.9 258.3L316.1 257.7L319.1 257.1L321.4 256.4L323.6 255.3L328.5 252.3L329.6 251.9L330.7 251.8L332.2 252.1L333.7 253.2L341.2 261.6L343.8 263.9L346.8 265.8L350.9 267.7L356.6 269.7L362.5 271.4L368.9 272.6" fill="none" stroke="#161616" stroke-width="0.85" stroke-linejoin="round" />
<path d="M257.0 278.7L263.4 277.9L269.4 276.7L274.6 275.2L278.7 273.6L281.4 272.2L283.6 270.6L286.2 268.3L291.1 263.3L292.6 262.2L293.7 261.7L294.8 261.5L295.9 261.6L301.9 263.5L305.3 264.0L309.4 264.0L318.0 263.3L321.0 262.7L323.3 261.9L325.5 260.7L330.0 257.6L331.1 257.0L332.2 256.8L333.4 257.1L334.9 258.0L336.4 259.7L340.5 265.1L342.7 267.7L345.3 270.0L347.9 271.7L351.7 273.5L356.9 275.3L362.5 276.8L368.9 278.0" fill="none" stroke="#161616" stroke-width="0.85" stroke-linejoin="round" />
<path d="M257.0 283.8L263.4 283.0L269.0 281.8L274.2 280.3L278.0 278.8L280.6 277.3L282.9 275.5L285.1 273.3L290.0 267.7L291.5 266.5L292.6 266.0L293.7 265.9L294.8 266.1L300.4 268.6L302.3 269.2L304.2 269.5L307.9 269.5L319.5 268.8L322.5 268.2L324.8 267.3L327.0 266.0L331.5 262.4L332.6 261.8L333.7 261.7L334.9 262.0L336.4 263.2L343.5 272.9L345.7 275.2L348.3 277.1L352.1 279.0L356.9 280.7L362.5 282.1L368.9 283.3" fill="none" stroke="#161616" stroke-width="0.85" stroke-linejoin="round" />
<path d="M257.0 288.9L263.4 288.0L269.4 286.8L274.2 285.3L278.0 283.7L280.2 282.3L282.5 280.4L284.7 277.9L289.2 272.3L290.7 270.9L291.8 270.4L293.0 270.2L294.1 270.5L299.7 273.6L301.6 274.3L303.4 274.7L306.8 274.8L320.3 274.1L323.3 273.6L325.5 272.6L327.7 271.0L332.2 267.0L333.4 266.3L334.5 266.0L335.6 266.4L337.1 267.7L343.8 277.8L346.1 280.3L348.7 282.4L352.1 284.2L356.9 285.9L362.5 287.3L368.9 288.5" fill="none" stroke="#161616" stroke-width="0.85" stroke-linejoin="round" />
<path d="M257.0 294.1L263.4 293.1L269.4 291.8L274.2 290.3L277.6 288.8L279.9 287.3L282.1 285.2L284.4 282.5L288.8 276.5L290.0 275.4L291.1 274.7L292.2 274.5L293.3 274.9L298.9 278.5L300.8 279.4L302.7 279.9L306.0 280.1L321.0 279.5L324.0 278.9L326.6 277.7L328.9 275.8L333.0 271.5L334.1 270.7L335.2 270.4L336.4 270.8L337.8 272.3L344.2 282.7L346.5 285.4L349.1 287.6L352.4 289.5L356.9 291.1L362.5 292.6L368.9 293.7" fill="none" stroke="#161616" stroke-width="0.85" stroke-linejoin="round" />
<path d="M257.0 299.2L263.4 298.2L269.0 297.0L273.9 295.4L277.2 293.8L279.5 292.2L281.4 290.4L283.6 287.7L288.1 281.0L289.6 279.5L290.7 278.9L291.5 278.9L292.6 279.2L298.6 283.7L300.4 284.6L302.3 285.1L305.7 285.3L312.8 285.0L322.1 284.9L325.1 284.2L327.4 283.0L329.6 281.0L334.1 275.7L335.2 275.0L336.0 274.8L337.1 275.2L338.2 276.3L339.7 278.6L343.1 284.9L345.0 288.0L347.2 290.9L349.4 292.9L352.8 294.8L356.9 296.3L362.5 297.8L368.9 298.9" fill="none" stroke="#161616" stroke-width="0.85" stroke-linejoin="round" />
<path d="M257.0 304.3L263.4 303.3L269.4 301.9L273.9 300.4L277.2 298.7L279.5 297.0L281.4 295.0L283.6 291.9L287.7 285.4L288.8 284.1L290.0 283.3L291.1 283.2L292.2 283.7L297.8 288.6L299.7 289.7L301.6 290.3L304.9 290.6L312.8 290.3L322.5 290.3L325.5 289.7L327.7 288.4L330.0 286.2L334.5 280.4L335.6 279.4L336.7 279.1L337.8 279.7L339.3 281.6L343.8 290.5L346.1 294.2L347.9 296.5L349.8 298.2L352.8 300.0L356.9 301.5L362.5 303.0L368.9 304.1" fill="none" stroke="#161616" stroke-width="0.85" stroke-linejoin="round" />
<path d="M257.0 309.4L263.4 308.4L269.4 307.0L273.9 305.4L277.2 303.6L279.5 301.8L281.4 299.6L283.2 296.9L287.3 289.9L288.5 288.5L289.6 287.7L290.7 287.5L291.8 288.1L297.4 293.6L299.3 294.8L301.2 295.5L304.6 295.9L312.8 295.6L322.9 295.6L325.9 294.9L327.4 294.1L328.5 293.2L330.7 290.7L334.9 284.7L336.0 283.6L336.7 283.4L337.8 283.8L339.0 285.0L340.1 287.0L343.5 294.3L345.3 297.8L347.6 301.0L349.8 303.2L352.8 305.1L356.9 306.7L362.5 308.2L368.9 309.2" fill="none" stroke="#161616" stroke-width="0.85" stroke-linejoin="round" />
<path d="M257.0 314.5L263.4 313.5L269.4 312.0L273.9 310.5L276.9 308.8L279.1 307.0L281.0 304.8L282.9 301.9L287.3 293.9L288.5 292.5L289.6 291.9L290.3 291.9L291.5 292.5L297.1 298.6L298.9 299.9L300.8 300.7L304.2 301.1L312.8 300.9L323.3 301.0L324.8 300.7L326.3 300.2L327.7 299.3L328.9 298.4L331.1 295.5L335.2 288.9L336.4 287.9L337.1 287.6L338.2 288.1L339.3 289.6L345.3 302.5L347.6 306.0L349.8 308.3L352.8 310.3L356.9 311.9L362.5 313.3L368.9 314.4" fill="none" stroke="#161616" stroke-width="0.85" stroke-linejoin="round" />
<path d="M257.0 319.6L263.4 318.5L269.4 317.1L273.9 315.5L276.9 313.8L279.1 311.8L281.0 309.4L282.9 306.3L287.0 298.5L288.1 296.9L289.2 296.2L290.0 296.2L291.1 296.8L296.7 303.6L298.6 305.1L300.4 305.9L303.8 306.4L312.8 306.2L323.6 306.4L325.1 306.1L326.6 305.5L328.1 304.6L329.2 303.5L331.5 300.4L335.6 293.2L336.7 292.1L337.5 291.9L338.6 292.5L339.7 294.2L344.2 304.9L346.1 308.6L347.9 311.4L349.8 313.4L352.8 315.4L356.6 316.9L362.2 318.4L368.9 319.6" fill="none" stroke="#161616" stroke-width="0.85" stroke-linejoin="round" />
<path d="M257.0 324.8L263.8 323.6L269.4 322.2L273.9 320.6L276.9 318.8L279.1 316.7L281.0 314.3L282.9 311.0L286.6 303.4L287.7 301.7L288.8 300.8L289.6 300.8L290.7 301.4L291.8 302.6L294.8 306.8L296.3 308.6L298.2 310.2L300.4 311.3L303.8 311.7L312.8 311.5L323.6 311.7L325.1 311.5L326.6 311.0L328.1 310.0L329.2 309.0L331.5 305.8L335.6 298.1L336.7 296.7L337.5 296.3L337.8 296.4L338.6 296.8L339.7 298.4L340.8 300.9L344.2 309.5L345.7 312.8L347.6 315.9L349.8 318.5L352.8 320.6L356.6 322.1L362.2 323.6L368.9 324.8" fill="none" stroke="#161616" stroke-width="0.85" stroke-linejoin="round" />
<path d="M257.0 329.9L263.8 328.8L269.4 327.4L273.9 325.8L276.9 324.0L278.7 322.3L280.6 319.8L282.5 316.6L286.6 308.0L287.7 306.4L288.8 305.5L290.0 305.7L291.1 306.7L294.8 312.2L296.7 314.4L298.2 315.6L300.1 316.5L301.6 316.9L303.4 317.0L312.4 316.8L321.4 317.1L324.0 317.0L325.5 316.7L327.0 316.1L328.5 315.1L329.6 314.0L331.9 310.5L336.0 302.4L337.1 301.2L337.8 300.9L339.0 301.7L340.1 303.6L344.2 314.3L346.1 318.4L347.9 321.5L349.8 323.6L351.3 324.9L352.8 325.8L356.6 327.3L362.2 328.8L368.9 329.9" fill="none" stroke="#161616" stroke-width="0.85" stroke-linejoin="round" />
<path d="M257.0 335.1L263.8 334.0L269.8 332.5L273.9 330.9L276.9 329.1L278.7 327.4L280.6 324.8L282.5 321.5L286.6 312.6L287.7 311.0L288.5 310.4L289.2 310.3L290.3 310.9L291.5 312.2L294.5 317.0L295.9 319.0L297.8 320.7L300.1 321.9L301.6 322.2L303.4 322.3L312.8 322.1L324.0 322.3L325.5 322.1L327.0 321.5L328.5 320.5L329.6 319.4L331.9 315.9L336.0 307.4L337.1 305.9L337.8 305.5L338.6 305.8L339.7 307.3L340.8 309.7L343.8 318.0L345.7 322.6L347.6 326.0L349.8 328.8L351.3 330.0L352.8 330.9L356.6 332.5L362.2 334.0L368.9 335.1" fill="none" stroke="#161616" stroke-width="0.85" stroke-linejoin="round" />
<path d="M257.0 340.3L263.8 339.2L269.8 337.7L273.9 336.1L276.9 334.3L278.7 332.4L280.6 329.8L282.5 326.3L286.6 317.2L287.7 315.6L288.5 315.1L289.6 315.2L290.7 316.3L294.5 322.3L296.3 324.8L297.8 326.1L299.7 327.1L301.2 327.5L303.1 327.7L312.8 327.4L324.0 327.7L325.5 327.4L327.0 326.9L328.5 325.9L329.6 324.8L331.9 321.3L336.4 311.7L337.5 310.3L338.2 310.2L338.6 310.3L339.3 311.1L340.5 313.2L344.2 323.8L346.1 328.3L347.9 331.6L349.8 333.9L351.3 335.2L352.8 336.1L356.6 337.7L362.2 339.1L368.9 340.3" fill="none" stroke="#161616" stroke-width="0.85" stroke-linejoin="round" />
<path d="M297.5 517.2L314.2 516.6L315.4 516.3L316.3 515.9L317.8 514.5L319.2 511.5L320.6 506.5L324.9 483.5L326.6 476.4L327.3 474.3L328.2 472.4L329.2 471.3L330.4 470.9L332.5 471.6L334.2 472.7L335.4 474.3L336.6 477.1L338.5 484.3L343.0 507.1L344.4 511.8L345.1 513.5L346.1 514.9L347.5 516.1L349.7 516.6L368.7 517.2Z" fill="#c9c9f9" stroke="none"/>
<path d="M256.8 395.5L265.1 395.4L272.9 395.5L281.5 395.9L299.5 397.1L304.4 397.3L308.5 397.2L313.3 396.6L317.8 395.7L329.8 391.9L333.2 391.0L336.5 390.5L339.5 390.4L342.9 390.9L346.6 392.0L350.4 393.6L361.2 398.9L365.0 400.3L368.7 401.4" fill="none" stroke="#161616" stroke-width="0.85" stroke-linejoin="round" />
<path d="M256.8 399.3L265.1 399.0L273.3 399.3L281.5 399.8L299.9 401.6L304.7 401.9L308.8 401.8L313.3 401.4L317.8 400.4L321.9 399.2L329.8 396.4L333.2 395.4L336.2 395.0L339.2 394.9L342.5 395.4L345.9 396.5L349.3 398.1L360.5 403.8L364.6 405.4L368.7 406.6" fill="none" stroke="#161616" stroke-width="0.85" stroke-linejoin="round" />
<path d="M256.8 402.9L265.1 402.7L272.9 403.0L281.2 403.8L299.9 406.2L304.7 406.6L309.2 406.6L313.7 406.1L318.2 405.1L321.9 403.9L329.8 400.9L332.8 400.0L335.8 399.4L338.8 399.4L341.8 399.9L345.1 401.0L348.5 402.6L356.4 407.1L360.1 408.9L364.2 410.6L368.7 411.8" fill="none" stroke="#161616" stroke-width="0.85" stroke-linejoin="round" />
<path d="M256.8 406.5L264.7 406.3L272.6 406.8L280.8 407.8L299.9 410.8L304.7 411.3L309.2 411.4L313.7 410.9L318.2 409.9L321.9 408.6L329.4 405.4L332.8 404.3L335.8 403.8L338.8 403.8L341.8 404.4L345.1 405.8L348.1 407.4L356.4 412.3L360.5 414.4L364.6 416.0L368.7 417.0" fill="none" stroke="#161616" stroke-width="0.85" stroke-linejoin="round" />
<path d="M256.8 409.6L264.3 409.4L272.2 410.0L280.0 411.3L299.1 415.2L304.4 415.9L308.8 416.0L313.3 415.6L317.8 414.5L321.6 413.1L329.4 409.5L332.4 408.5L335.4 407.9L338.0 407.9L341.0 408.6L344.4 410.1L347.4 411.8L355.2 417.0L359.7 419.4L364.2 421.1L368.7 422.2" fill="none" stroke="#161616" stroke-width="0.85" stroke-linejoin="round" />
<path d="M256.8 412.7L263.9 412.6L271.4 413.3L278.9 414.8L298.0 419.6L303.6 420.5L308.1 420.7L312.2 420.5L316.0 419.6L320.4 417.9L328.3 414.0L331.3 412.8L334.7 412.0L337.7 412.0L340.6 412.8L343.6 414.3L354.1 421.6L358.6 424.2L363.5 426.2L368.7 427.4" fill="none" stroke="#f01818" stroke-width="0.85" stroke-linejoin="round" />
<path d="M256.8 417.5L263.6 417.5L270.3 418.3L277.0 419.7L290.9 423.5L296.9 424.9L302.9 425.9L307.7 426.2L311.8 425.8L316.0 424.8L320.4 422.8L327.6 418.8L330.5 417.3L333.9 416.4L336.9 416.3L339.9 417.1L342.9 418.6L345.5 420.5L353.0 426.2L357.9 429.2L360.5 430.4L363.1 431.3L368.7 432.5" fill="none" stroke="#161616" stroke-width="0.85" stroke-linejoin="round" />
<path d="M256.8 422.7L262.8 422.7L268.8 423.5L275.5 425.0L289.0 428.7L295.4 430.3L301.7 431.3L307.0 431.6L311.5 431.2L315.6 430.0L320.1 427.9L327.6 423.2L330.5 421.7L333.5 420.7L336.5 420.7L339.2 421.4L342.1 423.0L344.8 424.9L352.2 431.1L357.1 434.2L359.7 435.5L362.3 436.4L365.3 437.1L368.7 437.6" fill="none" stroke="#161616" stroke-width="0.85" stroke-linejoin="round" />
<path d="M256.8 428.4L262.1 428.5L267.7 429.2L274.1 430.5L287.9 434.3L294.6 435.8L301.4 436.8L307.0 437.0L311.5 436.4L315.6 435.2L319.7 433.1L327.2 428.1L330.2 426.3L333.2 425.3L334.7 425.1L336.2 425.2L338.8 426.0L341.4 427.5L344.0 429.5L351.5 436.0L354.1 437.9L356.4 439.3L359.0 440.5L362.0 441.5L365.0 442.2L368.7 442.7" fill="none" stroke="#161616" stroke-width="0.85" stroke-linejoin="round" />
<path d="M256.8 434.2L262.5 434.4L268.8 435.3L274.4 436.6L287.9 440.1L295.4 441.6L301.4 442.3L306.6 442.4L311.5 441.7L315.6 440.2L319.7 438.0L327.2 432.6L329.8 431.0L332.8 429.9L335.4 429.7L338.0 430.4L340.6 431.9L343.3 434.1L350.8 440.9L353.4 442.9L355.6 444.3L358.6 445.7L361.6 446.7L365.0 447.3L368.7 447.8" fill="none" stroke="#f01818" stroke-width="0.85" stroke-linejoin="round" />
<path d="M256.8 441.0L262.1 441.2L267.7 441.8L286.0 445.6L293.5 446.8L299.9 447.3L305.5 447.2L310.3 446.4L314.5 444.9L318.9 442.3L326.4 436.7L329.1 435.0L332.0 433.8L334.7 433.6L337.3 434.3L339.9 435.9L342.5 438.1L350.4 445.7L353.0 447.8L355.2 449.2L358.2 450.6L361.2 451.6L364.6 452.3L368.7 452.7" fill="none" stroke="#161616" stroke-width="0.85" stroke-linejoin="round" />
<path d="M256.8 447.7L261.7 447.8L266.9 448.3L284.5 451.0L292.0 451.9L299.1 452.2L305.1 451.8L310.0 450.7L314.1 449.0L318.6 446.2L325.7 440.6L328.3 438.8L331.3 437.4L333.9 437.1L336.5 437.9L339.5 439.8L342.1 442.3L349.6 450.1L352.2 452.3L354.9 454.1L357.9 455.5L360.9 456.5L364.6 457.3L368.7 457.7" fill="none" stroke="#161616" stroke-width="0.85" stroke-linejoin="round" />
<path d="M256.8 454.2L261.3 454.2L266.2 454.4L283.8 456.3L291.6 456.8L299.1 456.8L305.1 456.2L309.6 455.0L313.7 453.1L318.2 450.1L325.3 444.0L327.9 442.0L330.9 440.5L332.4 440.2L333.5 440.2L334.7 440.4L336.2 441.0L338.8 442.8L341.4 445.5L348.9 454.2L351.5 456.7L354.1 458.6L357.1 460.3L360.5 461.5L364.2 462.2L368.7 462.7" fill="none" stroke="#161616" stroke-width="0.85" stroke-linejoin="round" />
<path d="M256.8 460.7L265.4 460.6L283.0 461.6L291.3 461.8L299.1 461.4L305.1 460.5L309.6 459.1L313.7 457.0L318.2 453.7L325.3 447.0L327.9 444.9L330.5 443.4L332.0 443.1L333.2 443.1L334.3 443.3L335.8 444.0L338.4 446.1L341.0 449.1L348.5 458.8L351.1 461.5L353.7 463.5L356.7 465.2L360.1 466.5L363.8 467.2L368.7 467.7" fill="none" stroke="#161616" stroke-width="0.85" stroke-linejoin="round" />
<path d="M256.8 467.1L264.7 466.9L282.7 466.8L291.3 466.6L299.1 466.0L305.1 464.8L309.6 463.2L313.7 460.8L318.2 457.2L324.9 450.3L327.6 447.9L330.2 446.3L332.4 445.9L333.9 446.1L335.0 446.6L336.2 447.4L337.7 448.8L340.3 452.1L347.8 463.0L350.4 466.0L353.0 468.3L356.0 470.1L359.4 471.4L363.5 472.2L368.7 472.7" fill="none" stroke="#161616" stroke-width="0.85" stroke-linejoin="round" />
<path d="M256.8 473.0L292.0 471.2L299.9 470.3L305.5 468.9L309.6 467.2L313.7 464.6L318.2 460.6L324.9 453.0L327.6 450.4L330.2 448.7L331.3 448.3L332.4 448.3L333.5 448.5L334.7 449.1L335.8 449.9L337.3 451.5L339.9 455.3L344.8 463.6L347.0 467.1L349.6 470.5L352.2 473.0L355.2 475.0L359.0 476.4L363.1 477.2L368.7 477.7" fill="none" stroke="#161616" stroke-width="0.85" stroke-linejoin="round" />
<path d="M256.8 478.2L292.4 475.7L299.9 474.7L305.5 473.1L310.0 471.0L314.1 468.0L318.2 463.8L324.9 455.5L327.2 452.9L329.8 450.9L330.9 450.4L332.0 450.3L333.2 450.5L334.3 451.0L335.4 452.0L336.9 453.8L339.2 457.5L344.0 467.1L346.3 471.1L348.9 474.9L351.5 477.8L354.5 479.9L358.2 481.4L362.7 482.3L368.7 482.7" fill="none" stroke="#161616" stroke-width="0.85" stroke-linejoin="round" />
<path d="M256.8 483.4L283.8 481.1L292.8 480.2L299.9 479.0L302.9 478.2L305.5 477.3L307.7 476.2L310.0 474.9L314.1 471.6L316.3 469.3L318.6 466.6L325.3 457.3L327.6 454.6L329.8 452.7L330.9 452.2L332.0 452.1L333.2 452.3L334.3 453.1L335.4 454.2L336.5 455.8L338.8 460.1L343.3 470.4L345.5 475.1L348.1 479.5L350.8 482.6L353.7 484.9L355.6 485.8L357.5 486.5L362.0 487.3L368.7 487.7" fill="none" stroke="#161616" stroke-width="0.85" stroke-linejoin="round" />
<path d="M256.8 488.6L283.8 485.8L293.1 484.7L300.2 483.3L303.2 482.3L305.9 481.3L308.1 480.1L310.3 478.6L312.6 476.7L314.5 474.9L316.7 472.3L318.9 469.3L325.3 459.6L327.6 456.5L329.8 454.4L330.9 453.8L332.0 453.7L333.2 454.0L334.3 454.9L335.4 456.4L336.5 458.3L338.4 462.5L342.9 474.5L345.1 479.8L347.4 484.0L350.0 487.5L351.5 488.9L353.0 489.9L354.9 490.9L356.7 491.5L361.6 492.3L368.7 492.6" fill="none" stroke="#161616" stroke-width="0.85" stroke-linejoin="round" />
<path d="M256.8 493.6L283.8 490.5L293.5 489.2L300.6 487.7L303.6 486.7L306.2 485.5L308.5 484.2L310.7 482.6L313.0 480.6L314.8 478.6L317.1 475.8L319.3 472.6L325.7 462.0L327.9 458.7L329.1 457.3L330.2 456.4L331.3 455.8L332.0 455.8L333.2 456.2L334.3 457.2L336.2 460.3L338.0 465.0L342.5 478.7L344.4 483.8L346.6 488.6L347.8 490.5L349.3 492.5L350.8 494.0L352.2 495.1L354.1 496.0L356.0 496.6L360.9 497.4L368.7 497.6" fill="none" stroke="#161616" stroke-width="0.85" stroke-linejoin="round" />
<path d="M256.8 498.4L284.2 495.2L293.9 493.9L301.0 492.3L304.0 491.3L306.6 490.0L309.2 488.4L311.5 486.7L313.7 484.5L315.6 482.3L317.8 479.2L320.1 475.7L327.9 461.9L330.2 459.2L331.3 458.5L332.0 458.3L333.2 458.7L334.3 459.8L336.2 463.3L338.0 468.7L342.1 483.1L344.0 488.8L346.3 494.0L348.5 497.5L350.0 499.1L351.5 500.2L353.4 501.1L355.2 501.7L360.1 502.4L368.7 502.6" fill="none" stroke="#161616" stroke-width="0.85" stroke-linejoin="round" />
<path d="M256.8 503.2L284.5 500.0L294.3 498.6L298.0 497.8L301.4 496.9L304.4 495.8L307.0 494.5L309.6 492.8L311.8 491.0L314.1 488.7L316.0 486.4L318.2 483.1L320.4 479.4L326.8 467.2L328.7 464.0L330.5 461.7L331.7 461.0L332.4 461.0L333.5 461.5L334.3 462.4L335.0 463.6L336.2 466.3L338.0 472.5L341.4 486.0L343.3 492.6L345.5 498.5L347.8 502.4L348.9 503.7L350.4 505.0L352.2 506.1L354.1 506.7L359.0 507.3L368.7 507.5" fill="none" stroke="#161616" stroke-width="0.85" stroke-linejoin="round" />
<path d="M256.8 508.1L284.9 504.7L294.6 503.2L298.4 502.5L301.7 501.5L304.7 500.4L307.3 499.0L310.0 497.3L312.2 495.3L314.5 492.9L316.7 489.9L320.8 483.1L328.7 467.4L330.5 464.7L331.7 463.9L332.4 463.7L333.5 464.1L334.3 465.0L335.0 466.4L336.2 469.3L337.7 474.7L341.0 489.7L342.9 497.1L345.1 503.6L346.3 505.9L347.4 507.7L348.5 509.0L350.0 510.2L351.9 511.2L353.7 511.8L358.6 512.3L368.7 512.5" fill="none" stroke="#161616" stroke-width="0.85" stroke-linejoin="round" />
<path d="M256.8 512.9L285.3 509.4L295.0 507.9L298.7 507.1L302.1 506.1L305.1 504.9L307.7 503.5L310.3 501.7L312.6 499.6L314.8 497.1L316.7 494.6L318.9 491.0L321.2 486.9L327.6 473.3L329.4 469.7L331.3 467.2L332.0 466.8L332.8 466.7L333.9 467.4L334.7 468.6L336.2 472.5L337.7 478.4L341.0 494.8L342.9 502.6L344.8 508.4L345.9 510.8L347.0 512.7L348.1 514.0L349.6 515.3L351.5 516.3L353.4 516.8L358.2 517.3L368.7 517.4" fill="none" stroke="#161616" stroke-width="0.85" stroke-linejoin="round" />
<defs><marker id="mc" markerWidth="8" markerHeight="8" refX="4" refY="4" markerUnits="userSpaceOnUse"><circle cx="4" cy="4" r="2.5" fill="none" stroke="#ff0000" stroke-width="1.0"/></marker></defs>
<path d="M453.5 158.8L454.1 158.9L454.6 158.6L455.2 158.2L455.7 158.4L456.3 158.1L456.8 158.7L457.4 159.4L457.9 158.3L458.5 158.2L459.0 158.9L459.6 158.7L460.1 158.6L460.7 157.9L461.2 158.4L461.8 158.8L462.3 157.6L462.9 158.1L463.4 157.1L464.0 157.5L464.5 157.1L465.1 158.1L465.6 157.4L466.2 158.3L466.7 158.2L467.3 157.9L467.8 156.5L468.4 157.6L468.9 157.9L469.5 157.9L470.0 156.9L470.6 157.5L471.1 157.1L471.7 157.2L472.2 158.3L472.8 157.1L473.3 157.5L473.9 158.0L474.4 157.0L475.0 157.2L475.5 157.3L476.1 157.2L476.6 156.3L477.2 157.0L477.7 157.7L478.3 155.8L478.8 157.2L479.4 156.7L479.9 156.1L480.5 157.6L481.0 156.7L481.6 155.4L482.1 156.0L482.7 156.2L483.2 155.6L483.8 156.0L484.3 155.4L484.9 155.7L485.4 156.0L486.0 154.5L486.5 154.9L487.1 154.3L487.6 154.5L488.2 153.5L488.7 153.7L489.3 153.7L489.8 154.2L490.4 154.2L490.9 152.4L491.5 152.5L492.0 153.1L492.6 151.1L493.1 151.7L493.7 151.6L494.2 152.1L494.8 151.4L495.3 150.4L495.9 150.0L496.4 149.7L497.0 150.5L497.5 148.9L498.1 148.7L498.6 148.8L499.2 148.2L499.7 147.9L500.3 147.1L500.8 147.6L501.4 147.1L501.9 148.0L502.5 147.4L503.0 146.8L503.6 147.1L504.1 146.3L504.7 147.0L505.2 146.2L505.8 146.4L506.3 145.1L506.9 146.0L507.4 144.5L508.0 144.2L508.5 145.2L509.1 144.6L509.6 145.2L510.2 146.4L510.7 144.2L511.3 144.2L511.8 144.6L512.4 144.6L512.9 144.0L513.5 143.8L514.0 144.2L514.6 143.9L515.1 142.7L515.7 143.1L516.2 143.0L516.8 142.0L517.3 142.6L517.9 141.7L518.4 142.6L519.0 141.9L519.5 141.5L520.1 140.8L520.6 140.9L521.2 139.3L521.7 139.6L522.3 140.4L522.8 138.4L523.4 140.1L523.9 138.1L524.5 139.4L525.0 138.1L525.6 138.8L526.1 138.1L526.7 136.7L527.2 138.2L527.8 138.0L528.3 136.7L528.9 136.2L529.4 136.0L530.0 135.1L530.5 136.1L531.1 134.7L531.6 134.6L532.2 133.7L532.7 133.4L533.3 132.6L533.8 133.9L534.4 132.5L534.9 132.9L535.5 131.9L536.0 131.1L536.6 131.0L537.1 130.5L537.7 130.5L538.2 129.9L538.8 129.7L539.3 128.6L539.9 128.7L540.4 130.0L541.0 128.1L541.5 127.5L542.1 128.1L542.6 128.5L543.2 126.2L543.7 126.7L544.3 126.1L544.8 124.9L545.4 126.3L545.9 125.3L546.5 125.0L547.0 124.0L547.6 124.4L548.1 123.3L548.7 123.2L549.2 122.1L549.8 121.5L550.3 122.9L550.9 121.1L551.4 121.2L552.0 120.6L552.5 119.8L553.1 119.4L553.6 119.7L554.2 118.6L554.7 118.3L555.3 118.0L555.8 118.4L556.4 117.7L556.9 117.1L557.5 116.0L558.0 115.1L558.6 116.3L559.1 115.9L559.7 114.8L560.2 114.9L560.8 114.7L561.3 114.3L561.9 114.0L562.4 112.6L563.0 113.7L563.5 111.2L564.1 112.4L564.6 111.7L565.2 111.6L565.7 111.9L566.3 111.2L566.8 108.7L567.4 107.8L567.9 109.4L568.5 107.5L569.0 107.8L569.6 108.0L570.1 105.5L570.7 104.6L571.2 106.0L571.8 105.3L572.3 104.5L572.9 104.1L573.4 102.8L574.0 101.6L574.5 102.1L575.1 100.8L575.6 99.5L576.2 100.8L576.7 99.7L577.3 99.4L577.8 97.5L578.4 97.1L578.9 96.1L579.5 95.5L580.0 95.9L580.6 94.3L581.1 94.7L581.7 94.1L582.2 95.1L582.8 91.1L583.3 92.7L583.9 91.1L584.4 90.6L585.0 88.5L585.5 88.8L586.1 89.5L586.6 88.0L587.2 87.5L587.7 86.5L588.3 87.4L588.8 85.6L589.4 82.7L589.9 83.6L590.5 81.7L591.0 79.6L591.6 82.0L592.1 83.4L592.7 81.4L593.2 79.5L593.8 79.1L594.3 80.9L594.9 79.2L595.4 78.5L596.0 77.9L596.5 77.4L597.1 77.8L597.6 77.0L598.2 76.0L598.7 74.0L599.3 75.2L599.8 73.2L600.4 74.7L600.9 71.1L601.5 71.7L602.0 71.1L602.6 68.6L603.1 71.6L603.7 70.5L604.2 67.5L604.8 68.4L605.3 67.4L605.9 63.3L606.4 66.4L607.0 65.6L607.5 65.4L608.1 63.6L608.6 64.2L609.2 64.0L609.7 65.4L610.3 64.0L610.8 63.3L611.4 64.9L611.9 62.0L612.5 61.9L613.0 59.8L613.6 63.8L614.1 62.7L614.7 62.4L615.2 61.7L615.8 60.7L616.3 60.5L616.9 59.6L617.4 59.3L618.0 59.3L618.5 60.9L619.1 59.4L619.6 58.3L620.2 57.3L620.7 56.9L621.3 59.5L621.8 57.8L622.4 56.9L622.9 56.0L623.5 54.7L624.0 55.8L624.6 56.7L625.1 54.7L625.7 54.6L626.2 54.3L626.8 54.5L627.3 51.9L627.9 53.4L628.4 52.3L629.0 54.3L629.5 51.8L630.1 53.3L630.6 54.3L631.2 51.5L631.7 50.8L632.3 51.6L632.8 51.0L633.4 49.3L633.9 51.0L634.5 52.9L635.0 49.4L635.6 49.2L636.1 47.8L636.7 49.4L637.2 46.9L637.8 46.8" fill="none" stroke="none" marker-start="url(#mc)" marker-mid="url(#mc)" marker-end="url(#mc)"/>
<path d="M451.3 152.7L462.8 151.9L473.2 150.7L483.7 148.9L490.4 147.1L496.2 144.6L502.8 140.9L508.6 137.0L514.3 132.1L519.1 126.9L523.8 120.7L527.6 115.0L531.5 108.4L536.2 99.3L541.0 89.6L558.2 51.4L560.1 47.7L562.9 42.7L564.9 39.6L566.8 37.3L569.6 35.4L571.5 34.7L572.5 34.7L574.4 35.4L577.3 37.3L579.2 39.8L581.1 43.3L584.9 51.3L591.6 69.6L601.1 92.6L603.0 95.8L604.9 98.3L607.8 101.3L611.6 104.7L614.5 106.8L618.3 109.0L623.1 111.4L629.7 114.1L635.5 116.1L641.2 117.8" fill="none" stroke="#0000c0" stroke-width="2.8" stroke-linejoin="round"/>
<defs><marker id="mfr" markerWidth="8" markerHeight="8" refX="4" refY="4" markerUnits="userSpaceOnUse"><circle cx="4" cy="4" r="2.45" fill="none" stroke="#ff0000" stroke-width="1.0"/></marker></defs>
<path d="M453.8 237.3v6.9M454.8 233.2v4.1M455.7 239.4v2.0M456.6 234.7v13.9M457.6 237.3v2.6M458.5 232.8v13.5M459.5 239.5v7.3M460.4 235.9v4.5M461.4 227.8v19.4M462.3 234.7v2.8M463.3 238.2v3.2M464.2 242.1v3.3M465.2 240.3v5.4M466.1 236.6v5.0M467.1 235.0v9.8M468.0 239.2v4.1M469.0 240.4v6.3M469.9 241.7v2.7M470.9 238.8v11.2M471.8 243.2v3.8M472.8 242.8v3.1M473.7 243.8v3.1M474.7 243.7v5.2M475.6 243.2v6.0M476.6 241.0v14.1M477.5 248.7v5.3M478.5 247.5v3.7M479.4 246.9v4.0M480.4 243.8v4.7M481.3 247.8v6.5M482.3 245.5v3.8M483.2 246.2v6.4M484.2 252.5v4.9M485.1 254.0v3.4M486.1 249.1v12.1M487.0 250.3v5.6M488.0 252.0v9.7M488.9 253.0v8.6M489.9 259.3v3.5M490.8 259.4v12.1M491.8 258.5v8.0M492.7 260.3v2.9M493.7 253.1v18.0M494.6 263.3v4.4M495.6 260.7v11.3M496.5 260.6v10.0M497.5 266.3v5.9M498.4 263.1v9.7M499.4 271.5v4.2M500.3 272.8v3.6M501.3 269.6v12.4M502.2 268.2v11.4M503.2 275.6v2.6M504.1 274.9v3.4M505.1 272.5v9.2M506.0 275.1v6.0M507.0 274.8v4.4M507.9 275.4v4.2M508.9 281.3v2.6M509.8 277.6v7.5M510.8 279.7v6.2M511.7 283.8v2.3M512.7 277.4v5.9M513.6 280.3v5.1M514.6 281.5v7.6M515.5 284.4v4.1M516.5 283.8v3.6M517.4 287.1v3.9M518.4 284.6v7.1M519.3 281.0v10.3M520.3 284.9v4.9M521.2 290.2v2.3M522.2 289.6v3.5M523.1 282.3v10.4M524.1 292.6v3.8M525.0 291.3v5.0M526.0 292.8v6.3M526.9 286.7v13.1M527.9 292.4v3.7M528.8 290.2v6.4M529.8 299.6v3.9M530.7 294.4v5.0M531.7 300.3v2.1M532.6 294.8v5.7M533.6 292.4v15.5M534.5 296.0v2.6M535.5 298.5v4.6M536.4 301.8v5.3M537.4 295.6v10.3M538.3 302.6v7.5M539.3 303.9v3.5M540.2 301.8v3.5M541.2 302.5v5.8M542.1 303.9v4.6M543.1 306.7v2.2M544.0 304.3v6.3M545.0 301.9v11.4M545.9 308.1v2.8M546.9 307.4v2.2M547.8 307.2v2.9M548.8 307.9v8.4M549.7 313.7v2.1M550.7 305.6v9.0M551.6 310.9v6.6M552.6 311.9v2.9M553.5 311.9v2.9M554.5 315.2v5.7M555.4 312.2v6.9M556.4 316.3v9.1M557.3 313.1v6.3M558.3 317.7v3.6M559.2 316.1v5.1M560.2 313.3v9.1M561.1 318.0v6.8M562.1 318.0v4.3M563.0 320.2v4.3M564.0 319.1v4.2M564.9 315.8v6.8M565.9 320.3v3.1M566.8 319.0v7.1M567.8 321.9v6.2M568.7 318.0v5.9M569.7 321.9v2.9M570.6 317.1v5.2M571.6 323.2v5.1M572.5 320.5v3.2M573.5 317.7v6.2M574.4 324.1v2.3M575.4 326.6v3.6M576.3 319.3v6.1M577.3 321.2v4.9M578.2 322.5v4.0M579.2 319.8v7.5M580.1 321.2v12.1M581.1 318.8v11.0M582.0 323.3v2.3M583.0 326.1v3.0M583.9 319.8v8.9M584.9 325.9v2.6M585.8 320.4v6.3M586.8 321.7v2.5M587.7 319.3v4.0M588.7 327.4v5.7M589.6 320.0v9.3M590.6 321.6v8.3M591.5 322.4v4.9M592.5 322.4v5.3M593.4 323.3v2.6M594.4 327.6v2.9M595.3 319.0v4.7M596.3 318.0v3.5M597.2 318.8v4.2M598.2 316.8v5.9M599.1 323.0v3.6M600.1 321.5v6.4M601.0 316.5v6.9M602.0 317.7v2.1M602.9 318.6v5.2M603.9 323.8v3.5M604.8 313.1v3.0M605.8 320.6v5.0M606.7 314.4v8.8M607.7 321.0v6.4M608.6 316.9v3.6M609.6 314.4v12.8M610.5 314.6v6.1M611.5 317.9v2.5M612.4 323.0v5.0M613.4 318.9v10.7M614.3 319.6v3.0M615.3 318.2v3.5M616.2 313.8v7.1M617.2 319.3v4.1M618.1 319.9v4.8M619.1 320.1v4.1M620.0 317.1v10.0M621.0 314.8v9.1M621.9 320.0v4.3M622.9 319.9v4.8M623.8 320.7v10.4M624.8 325.1v4.6M625.7 320.6v2.8M626.7 318.3v3.8M627.6 319.7v4.8M628.6 318.8v3.4M629.5 315.6v8.9M630.5 320.1v3.5M631.4 316.6v5.0M632.4 322.0v3.3M633.3 319.5v4.5M634.3 321.1v3.4M635.2 316.0v11.3M636.2 316.8v6.9M637.1 318.2v3.0M638.1 318.6v6.5" stroke="#ff0000" stroke-width="0.7" fill="none"/>
<path d="M453.8 240.8L454.8 235.2L455.7 240.4L456.6 241.6L457.6 238.6L458.5 239.5L459.5 243.2L460.4 238.1L461.4 237.5L462.3 236.1L463.3 239.8L464.2 243.7L465.2 243.0L466.1 239.1L467.1 239.9L468.0 241.3L469.0 243.6L469.9 243.0L470.9 244.4L471.8 245.1L472.8 244.3L473.7 245.3L474.7 246.4L475.6 246.3L476.6 248.0L477.5 251.4L478.5 249.3L479.4 248.9L480.4 246.1L481.3 251.1L482.3 247.3L483.2 249.4L484.2 254.9L485.1 255.7L486.1 255.1L487.0 253.1L488.0 256.9L488.9 257.3L489.9 261.1L490.8 265.4L491.8 262.5L492.7 261.7L493.7 262.1L494.6 265.5L495.6 266.4L496.5 265.6L497.5 269.3L498.4 268.0L499.4 273.6L500.3 274.6L501.3 275.8L502.2 273.9L503.2 276.9L504.1 276.6L505.1 277.1L506.0 278.1L507.0 277.0L507.9 277.5L508.9 282.6L509.8 281.4L510.8 282.8L511.7 285.0L512.7 280.4L513.6 282.9L514.6 285.3L515.5 286.4L516.5 285.6L517.4 289.0L518.4 288.1L519.3 286.1L520.3 287.3L521.2 291.3L522.2 291.4L523.1 287.5L524.1 294.5L525.0 293.8L526.0 296.0L526.9 293.3L527.9 294.2L528.8 293.4L529.8 301.5L530.7 296.9L531.7 301.3L532.6 297.7L533.6 300.2L534.5 297.3L535.5 300.8L536.4 304.5L537.4 300.7L538.3 306.4L539.3 305.6L540.2 303.5L541.2 305.4L542.1 306.2L543.1 307.8L544.0 307.5L545.0 307.6L545.9 309.4L546.9 308.6L547.8 308.7L548.8 312.1L549.7 314.8L550.7 310.1L551.6 314.2L552.6 313.4L553.5 313.3L554.5 318.1L555.4 315.6L556.4 320.8L557.3 316.3L558.3 319.5L559.2 318.6L560.2 317.9L561.1 321.4L562.1 320.1L563.0 322.3L564.0 321.2L564.9 319.2L565.9 321.8L566.8 322.5L567.8 325.0L568.7 321.0L569.7 323.4L570.6 319.8L571.6 325.8L572.5 322.1L573.5 320.8L574.4 325.3L575.4 328.4L576.3 322.4L577.3 323.6L578.2 324.5L579.2 323.6L580.1 327.2L581.1 324.3L582.0 324.5L583.0 327.6L583.9 324.3L584.9 327.1L585.8 323.6L586.8 322.9L587.7 321.3L588.7 330.2L589.6 324.6L590.6 325.8L591.5 324.9L592.5 325.1L593.4 324.6L594.4 329.0L595.3 321.3L596.3 319.8L597.2 320.8L598.2 319.7L599.1 324.8L600.1 324.7L601.0 320.0L602.0 318.7L602.9 321.2L603.9 325.6L604.8 314.6L605.8 323.1L606.7 318.8L607.7 324.2L608.6 318.7L609.6 320.8L610.5 317.7L611.5 319.2L612.4 325.5L613.4 324.2L614.3 321.1L615.3 320.0L616.2 317.4L617.2 321.4L618.1 322.3L619.1 322.2L620.0 322.1L621.0 319.4L621.9 322.2L622.9 322.3L623.8 325.9L624.8 327.4L625.7 322.0L626.7 320.2L627.6 322.1L628.6 320.5L629.5 320.1L630.5 321.9L631.4 319.1L632.4 323.7L633.3 321.7L634.3 322.8L635.2 321.6L636.2 320.2L637.1 319.7L638.1 321.8" fill="none" stroke="none" marker-start="url(#mfr)" marker-mid="url(#mfr)" marker-end="url(#mfr)"/>
<defs><marker id="mfb" markerWidth="8" markerHeight="8" refX="4" refY="4" markerUnits="userSpaceOnUse"><circle cx="4" cy="4" r="2.45" fill="none" stroke="#0a0acc" stroke-width="1.0"/></marker></defs>
<path d="M453.8 320.6v3.0M454.8 318.9v1.9M455.7 316.8v1.7M456.6 317.3v3.7M457.6 317.7v2.5M458.5 318.5v3.1M459.5 319.9v2.0M460.4 316.1v4.1M461.4 319.0v4.5M462.3 316.7v4.1M463.3 319.7v3.0M464.2 318.6v3.9M465.2 318.1v4.3M466.1 319.7v1.8M467.1 317.7v4.4M468.0 318.6v2.4M469.0 316.5v3.6M469.9 318.3v4.2M470.9 321.6v2.5M471.8 321.7v2.5M472.8 320.3v3.2M473.7 319.4v3.0M474.7 317.7v2.4M475.6 320.7v1.7M476.6 317.9v2.8M477.5 317.7v2.7M478.5 317.6v1.8M479.4 317.8v1.7M480.4 316.0v2.9M481.3 316.2v2.6M482.3 313.6v4.2M483.2 315.1v2.1M484.2 317.4v3.7M485.1 313.3v4.4M486.1 313.2v3.0M487.0 311.6v7.0M488.0 312.9v3.6M488.9 309.8v3.6M489.9 311.1v2.4M490.8 310.2v6.1M491.8 308.9v5.8M492.7 307.9v6.4M493.7 310.5v4.0M494.6 307.3v3.2M495.6 307.6v3.6M496.5 306.3v3.4M497.5 309.5v1.8M498.4 303.7v2.7M499.4 304.7v3.3M500.3 305.2v1.8M501.3 305.2v4.2M502.2 303.1v7.4M503.2 305.9v3.2M504.1 300.8v4.3M505.1 303.8v4.1M506.0 302.9v2.2M507.0 301.1v3.9M507.9 303.1v2.6M508.9 300.0v4.0M509.8 297.9v4.0M510.8 299.1v5.8M511.7 299.1v1.7M512.7 299.2v2.9M513.6 299.5v4.4M514.6 300.2v2.0M515.5 300.3v4.4M516.5 298.6v1.6M517.4 296.0v1.9M518.4 295.9v3.2M519.3 294.4v4.5M520.3 294.3v2.5M521.2 296.2v2.3M522.2 294.1v2.0M523.1 291.6v1.8M524.1 293.6v4.1M525.0 291.5v4.5M526.0 292.4v2.7M526.9 291.1v2.9M527.9 290.6v4.0M528.8 289.6v2.6M529.8 290.5v2.7M530.7 288.4v2.8M531.7 285.1v7.5M532.6 286.6v2.7M533.6 280.8v6.8M534.5 282.9v4.4M535.5 282.2v3.6M536.4 282.2v2.7M537.4 278.7v2.9M538.3 282.6v1.8M539.3 279.2v1.7M540.2 275.6v2.5M541.2 271.1v7.3M542.1 274.5v2.3M543.1 270.0v9.2M544.0 270.6v2.9M545.0 269.7v4.3M545.9 266.9v4.3M546.9 268.2v2.5M547.8 264.3v2.7M548.8 261.3v7.6M549.7 260.6v9.1M550.7 263.0v6.3M551.6 252.6v10.9M552.6 253.9v6.1M553.5 249.6v9.2M554.5 251.7v6.8M555.4 247.0v4.9M556.4 244.2v8.7M557.3 245.7v3.2M558.3 241.8v3.3M559.2 240.4v1.9M560.2 237.6v4.8M561.1 228.6v11.8M562.1 232.3v2.8M563.0 232.5v2.4M564.0 229.1v7.6M564.9 228.0v5.3M565.9 224.4v3.2M566.8 223.9v7.1M567.8 228.1v1.9M568.7 220.7v13.5M569.7 217.5v15.4M570.6 220.8v3.7M571.6 221.3v7.8M572.5 219.8v4.0M573.5 216.3v7.1M574.4 218.3v3.4M575.4 218.7v11.2M576.3 220.0v2.4M577.3 213.6v18.4M578.2 214.2v9.5M579.2 217.2v9.2M580.1 214.5v7.6M581.1 216.9v4.4M582.0 220.3v8.5M583.0 217.2v7.2M583.9 215.0v6.3M584.9 215.4v7.6M585.8 216.7v7.5M586.8 220.7v4.1M587.7 215.3v9.1M588.7 211.9v12.0M589.6 218.6v6.3M590.6 214.8v16.6M591.5 220.7v6.6M592.5 224.6v5.8M593.4 224.1v4.8M594.4 221.7v14.0M595.3 221.3v9.4M596.3 226.5v9.2M597.2 231.0v7.3M598.2 228.3v9.2M599.1 229.3v6.5M600.1 229.2v7.9M601.0 235.9v2.3M602.0 226.1v12.1M602.9 228.7v11.2M603.9 227.3v17.3M604.8 232.5v8.8M605.8 233.2v3.3M606.7 235.2v3.1M607.7 234.5v2.7M608.6 235.3v3.4M609.6 235.2v3.0M610.5 230.4v8.9M611.5 229.7v15.3M612.4 238.5v1.6M613.4 232.7v6.2M614.3 236.1v2.4M615.3 237.8v3.0M616.2 232.4v7.4M617.2 236.0v5.7M618.1 233.2v6.6M619.1 239.3v3.8M620.0 240.8v5.9M621.0 236.2v14.4M621.9 231.2v16.1M622.9 236.0v10.7M623.8 238.6v3.5M624.8 231.9v17.2M625.7 240.3v6.5M626.7 236.4v3.0M627.6 241.4v2.9M628.6 238.3v4.9M629.5 242.3v2.9M630.5 239.0v5.0M631.4 236.9v6.2M632.4 240.0v4.0M633.3 241.1v4.3M634.3 237.7v8.9M635.2 242.4v1.9M636.2 238.3v7.0M637.1 237.6v2.7M638.1 241.5v7.9" stroke="#0a0acc" stroke-width="0.7" fill="none"/>
<path d="M453.8 322.1L454.8 319.8L455.7 317.7L456.6 319.2L457.6 319.0L458.5 320.0L459.5 320.9L460.4 318.2L461.4 321.2L462.3 318.8L463.3 321.2L464.2 320.6L465.2 320.3L466.1 320.6L467.1 319.9L468.0 319.8L469.0 318.3L469.9 320.4L470.9 322.8L471.8 322.9L472.8 321.9L473.7 320.9L474.7 318.9L475.6 321.5L476.6 319.3L477.5 319.1L478.5 318.4L479.4 318.6L480.4 317.5L481.3 317.5L482.3 315.7L483.2 316.2L484.2 319.3L485.1 315.5L486.1 314.7L487.0 315.1L488.0 314.7L488.9 311.6L489.9 312.3L490.8 313.3L491.8 311.8L492.7 311.1L493.7 312.5L494.6 308.9L495.6 309.4L496.5 308.1L497.5 310.4L498.4 305.0L499.4 306.4L500.3 306.1L501.3 307.3L502.2 306.8L503.2 307.5L504.1 302.9L505.1 305.8L506.0 304.0L507.0 303.1L507.9 304.4L508.9 302.0L509.8 299.9L510.8 302.0L511.7 299.9L512.7 300.7L513.6 301.7L514.6 301.2L515.5 302.5L516.5 299.4L517.4 296.9L518.4 297.5L519.3 296.6L520.3 295.6L521.2 297.3L522.2 295.1L523.1 292.5L524.1 295.7L525.0 293.8L526.0 293.7L526.9 292.6L527.9 292.6L528.8 290.9L529.8 291.8L530.7 289.8L531.7 288.8L532.6 287.9L533.6 284.2L534.5 285.1L535.5 283.9L536.4 283.6L537.4 280.1L538.3 283.5L539.3 280.0L540.2 276.9L541.2 274.8L542.1 275.6L543.1 274.5L544.0 272.1L545.0 271.9L545.9 269.1L546.9 269.4L547.8 265.7L548.8 265.1L549.7 265.1L550.7 266.2L551.6 258.0L552.6 257.0L553.5 254.3L554.5 255.1L555.4 249.5L556.4 248.6L557.3 247.3L558.3 243.5L559.2 241.3L560.2 240.0L561.1 234.5L562.1 233.6L563.0 233.7L564.0 233.0L564.9 230.7L565.9 226.0L566.8 227.5L567.8 229.0L568.7 227.5L569.7 225.2L570.6 222.6L571.6 225.2L572.5 221.8L573.5 219.8L574.4 220.0L575.4 224.3L576.3 221.2L577.3 222.8L578.2 219.0L579.2 221.8L580.1 218.3L581.1 219.1L582.0 224.6L583.0 220.8L583.9 218.2L584.9 219.2L585.8 220.4L586.8 222.8L587.7 219.9L588.7 218.0L589.6 221.7L590.6 223.0L591.5 224.0L592.5 227.5L593.4 226.5L594.4 228.7L595.3 226.0L596.3 231.1L597.2 234.7L598.2 232.9L599.1 232.6L600.1 233.1L601.0 237.0L602.0 232.2L602.9 234.3L603.9 235.9L604.8 236.9L605.8 234.9L606.7 236.7L607.7 235.9L608.6 236.9L609.6 236.7L610.5 234.9L611.5 237.3L612.4 239.3L613.4 235.8L614.3 237.4L615.3 239.3L616.2 236.1L617.2 238.8L618.1 236.5L619.1 241.2L620.0 243.8L621.0 243.4L621.9 239.2L622.9 241.4L623.8 240.3L624.8 240.5L625.7 243.5L626.7 237.9L627.6 242.8L628.6 240.7L629.5 243.8L630.5 241.5L631.4 239.9L632.4 242.0L633.3 243.2L634.3 242.1L635.2 243.4L636.2 241.8L637.1 239.0L638.1 245.5" fill="none" stroke="none" marker-start="url(#mfb)" marker-mid="url(#mfb)" marker-end="url(#mfb)"/>
<defs><marker id="mir" markerWidth="8" markerHeight="8" refX="4" refY="4" markerUnits="userSpaceOnUse"><circle cx="4" cy="4" r="2.45" fill="none" stroke="#ff0000" stroke-width="1.0"/></marker></defs>
<path d="M453.8 402.5v11.2M454.8 398.3v20.6M455.7 400.9v14.8M456.6 403.1v8.8M457.6 402.6v9.0M458.5 404.9v4.0M459.5 395.5v30.1M460.4 401.0v10.1M461.4 411.7v4.3M462.3 402.1v18.1M463.3 407.5v4.9M464.2 409.4v4.6M465.2 404.0v15.9M466.1 407.0v15.9M467.1 403.6v19.2M468.0 417.7v2.3M469.0 412.2v4.0M469.9 402.5v16.6M470.9 410.6v9.9M471.8 399.8v25.8M472.8 414.3v8.3M473.7 415.5v12.9M474.7 418.2v6.6M475.6 411.9v10.3M476.6 412.7v13.1M477.5 420.4v12.2M478.5 421.7v3.7M479.4 421.4v4.2M480.4 422.5v9.0M481.3 428.7v5.3M482.3 426.8v5.0M483.2 423.4v7.8M484.2 422.9v11.8M485.1 429.1v2.5M486.1 424.6v7.2M487.0 422.3v11.5M488.0 426.2v11.1M488.9 427.5v5.5M489.9 425.9v15.0M490.8 429.1v11.3M491.8 434.7v13.2M492.7 433.0v3.2M493.7 435.0v4.7M494.6 430.7v15.1M495.6 434.8v11.6M496.5 439.8v6.3M497.5 436.3v7.7M498.4 438.5v3.3M499.4 437.0v4.0M500.3 435.3v12.2M501.3 443.5v4.0M502.2 440.7v8.9M503.2 438.5v9.9M504.1 443.7v4.0M505.1 445.6v3.8M506.0 444.4v10.1M507.0 444.1v7.8M507.9 447.4v5.2M508.9 444.9v5.4M509.8 447.6v5.8M510.8 455.3v5.7M511.7 448.3v5.4M512.7 450.3v12.4M513.6 457.2v3.8M514.6 456.8v4.4M515.5 456.5v5.3M516.5 454.8v14.4M517.4 461.3v3.6M518.4 460.8v6.4M519.3 455.5v11.1M520.3 458.6v14.6M521.2 456.8v17.0M522.2 462.8v8.5M523.1 466.0v7.5M524.1 467.3v9.1M525.0 469.7v7.6M526.0 470.3v2.9M526.9 471.9v8.6M527.9 475.3v5.6M528.8 476.4v6.1M529.8 473.2v16.3M530.7 470.2v18.0M531.7 477.4v6.0M532.6 477.6v12.2M533.6 476.4v7.1M534.5 479.1v10.2M535.5 478.0v10.9M536.4 479.1v10.7M537.4 481.1v2.1M538.3 480.3v8.7M539.3 485.7v3.0M540.2 482.7v14.2M541.2 484.9v11.4M542.1 487.6v2.5M543.1 485.6v7.5M544.0 487.1v2.9M545.0 490.7v2.6M545.9 485.0v12.6M546.9 489.4v9.1M547.8 496.1v2.2M548.8 489.7v8.6M549.7 488.3v6.2M550.7 491.5v3.8M551.6 489.1v6.9M552.6 489.2v8.7M553.5 497.7v3.5M554.5 492.8v9.1M555.4 492.5v2.6M556.4 493.5v10.7M557.3 497.4v6.0M558.3 495.5v3.2M559.2 493.3v6.8M560.2 493.6v8.1M561.1 495.0v8.6M562.1 495.5v9.7M563.0 494.6v14.5M564.0 500.0v4.5M564.9 499.6v5.8M565.9 500.4v5.7M566.8 500.1v3.8M567.8 494.3v6.2M568.7 499.0v3.5M569.7 500.3v3.5M570.6 498.1v5.2M571.6 501.2v5.0M572.5 499.0v4.1M573.5 494.5v10.9M574.4 503.2v4.3M575.4 499.1v9.3M576.3 501.5v2.7M577.3 501.1v6.9M578.2 503.8v2.5M579.2 501.4v4.3M580.1 492.9v9.2M581.1 498.5v6.1M582.0 498.7v6.8M583.0 498.2v5.8M583.9 498.5v10.6M584.9 502.9v6.3M585.8 500.6v3.8M586.8 496.5v9.3M587.7 503.4v9.6M588.7 498.1v9.5M589.6 498.6v5.3M590.6 496.7v15.8M591.5 497.6v15.1M592.5 497.9v9.8M593.4 502.7v7.1M594.4 502.1v2.8M595.3 501.2v3.1M596.3 504.1v2.5M597.2 502.1v9.3M598.2 501.2v5.3M599.1 504.0v4.3M600.1 503.8v3.1M601.0 508.0v7.8M602.0 503.1v2.4M602.9 502.3v13.3M603.9 503.3v5.4M604.8 504.3v3.2M605.8 502.4v11.2M606.7 504.5v8.0M607.7 505.3v8.3M608.6 504.4v6.5M609.6 503.5v4.5M610.5 504.9v2.3M611.5 505.1v6.9M612.4 507.1v3.6M613.4 508.8v4.4M614.3 506.9v4.3M615.3 508.0v5.5M616.2 509.5v5.0M617.2 506.9v4.7M618.1 502.8v6.2M619.1 505.2v3.3M620.0 505.3v2.5M621.0 510.1v6.7M621.9 501.2v14.2M622.9 510.2v5.9M623.8 510.8v2.2M624.8 513.2v2.8M625.7 510.3v5.9M626.7 508.0v6.1M627.6 507.8v6.6M628.6 510.0v3.8M629.5 510.4v3.9M630.5 508.3v5.4M631.4 510.4v3.8M632.4 514.7v2.9M633.3 505.3v7.5M634.3 508.9v9.3M635.2 509.1v4.3M636.2 508.9v9.9M637.1 512.7v5.5M638.1 509.4v8.6" stroke="#ff0000" stroke-width="0.7" fill="none"/>
<path d="M453.8 408.1L454.8 408.6L455.7 408.3L456.6 407.5L457.6 407.1L458.5 406.9L459.5 410.5L460.4 406.0L461.4 413.9L462.3 411.2L463.3 410.0L464.2 411.7L465.2 412.0L466.1 415.0L467.1 413.2L468.0 418.9L469.0 414.2L469.9 410.8L470.9 415.5L471.8 412.7L472.8 418.5L473.7 421.9L474.7 421.5L475.6 417.0L476.6 419.2L477.5 426.5L478.5 423.5L479.4 423.5L480.4 427.0L481.3 431.3L482.3 429.3L483.2 427.3L484.2 428.8L485.1 430.3L486.1 428.2L487.0 428.1L488.0 431.7L488.9 430.2L489.9 433.4L490.8 434.8L491.8 441.3L492.7 434.6L493.7 437.4L494.6 438.3L495.6 440.7L496.5 443.0L497.5 440.2L498.4 440.2L499.4 439.0L500.3 441.4L501.3 445.5L502.2 445.1L503.2 443.4L504.1 445.7L505.1 447.5L506.0 449.5L507.0 448.0L507.9 450.0L508.9 447.6L509.8 450.5L510.8 458.2L511.7 450.9L512.7 456.5L513.6 459.1L514.6 459.0L515.5 459.2L516.5 462.0L517.4 463.2L518.4 464.0L519.3 461.1L520.3 465.9L521.2 465.3L522.2 467.0L523.1 469.8L524.1 471.8L525.0 473.5L526.0 471.7L526.9 476.2L527.9 478.1L528.8 479.4L529.8 481.3L530.7 479.2L531.7 480.4L532.6 483.7L533.6 479.9L534.5 484.2L535.5 483.4L536.4 484.5L537.4 482.1L538.3 484.6L539.3 487.2L540.2 489.8L541.2 490.6L542.1 488.9L543.1 489.3L544.0 488.6L545.0 492.0L545.9 491.3L546.9 494.0L547.8 497.2L548.8 494.0L549.7 491.4L550.7 493.4L551.6 492.6L552.6 493.6L553.5 499.4L554.5 497.4L555.4 493.8L556.4 498.9L557.3 500.4L558.3 497.1L559.2 496.7L560.2 497.7L561.1 499.3L562.1 500.4L563.0 501.9L564.0 502.3L564.9 502.5L565.9 503.2L566.8 502.0L567.8 497.4L568.7 500.8L569.7 502.0L570.6 500.6L571.6 503.7L572.5 501.0L573.5 500.0L574.4 505.3L575.4 503.8L576.3 502.9L577.3 504.6L578.2 505.0L579.2 503.6L580.1 497.5L581.1 501.5L582.0 502.1L583.0 501.1L583.9 503.8L584.9 506.1L585.8 502.5L586.8 501.1L587.7 508.2L588.7 502.8L589.6 501.2L590.6 504.6L591.5 505.1L592.5 502.8L593.4 506.2L594.4 503.6L595.3 502.7L596.3 505.3L597.2 506.8L598.2 503.8L599.1 506.1L600.1 505.3L601.0 511.9L602.0 504.2L602.9 509.0L603.9 506.0L604.8 506.0L605.8 508.0L606.7 508.5L607.7 509.5L608.6 507.6L609.6 505.7L610.5 506.1L611.5 508.6L612.4 509.0L613.4 511.0L614.3 509.1L615.3 510.8L616.2 512.0L617.2 509.3L618.1 505.9L619.1 506.8L620.0 506.5L621.0 513.4L621.9 508.3L622.9 513.1L623.8 511.9L624.8 514.6L625.7 513.3L626.7 511.1L627.6 511.1L628.6 511.9L629.5 512.3L630.5 511.0L631.4 512.3L632.4 516.1L633.3 509.1L634.3 513.6L635.2 511.2L636.2 513.8L637.1 515.5L638.1 513.7" fill="none" stroke="none" marker-start="url(#mir)" marker-mid="url(#mir)" marker-end="url(#mir)"/>
<defs><marker id="mib" markerWidth="8" markerHeight="8" refX="4" refY="4" markerUnits="userSpaceOnUse"><circle cx="4" cy="4" r="2.45" fill="none" stroke="#0a0acc" stroke-width="1.0"/></marker></defs>
<path d="M453.8 507.0v2.3M454.8 506.4v6.1M455.7 510.0v4.2M456.6 505.7v2.4M457.6 508.4v3.1M458.5 509.6v2.0M459.5 506.9v3.7M460.4 508.1v2.0M461.4 507.8v3.7M462.3 506.1v1.5M463.3 506.1v4.2M464.2 504.1v4.2M465.2 505.6v1.4M466.1 503.8v4.7M467.1 505.7v1.6M468.0 505.8v1.4M469.0 504.8v3.4M469.9 502.4v1.9M470.9 506.1v3.1M471.8 503.7v4.4M472.8 503.4v2.8M473.7 501.6v2.0M474.7 501.6v1.9M475.6 499.7v6.5M476.6 501.5v1.4M477.5 497.4v2.8M478.5 500.3v3.0M479.4 503.8v1.4M480.4 493.7v6.9M481.3 499.4v2.8M482.3 498.1v2.8M483.2 496.6v3.3M484.2 497.2v5.6M485.1 494.3v2.9M486.1 496.4v1.8M487.0 497.1v3.1M488.0 494.0v3.4M488.9 493.5v2.7M489.9 491.9v6.6M490.8 492.2v3.2M491.8 494.8v2.9M492.7 491.0v1.9M493.7 492.2v3.7M494.6 488.2v4.1M495.6 489.9v5.3M496.5 489.4v2.9M497.5 483.7v5.3M498.4 487.8v4.0M499.4 485.6v3.9M500.3 486.4v3.2M501.3 488.5v4.0M502.2 484.1v3.3M503.2 484.5v1.6M504.1 486.4v4.5M505.1 483.7v4.6M506.0 485.9v3.6M507.0 483.8v2.8M507.9 479.4v6.7M508.9 482.8v1.4M509.8 483.7v2.7M510.8 482.4v3.1M511.7 479.1v5.5M512.7 480.2v2.4M513.6 478.5v4.1M514.6 478.1v2.1M515.5 480.4v4.5M516.5 477.7v2.4M517.4 474.8v3.1M518.4 474.9v3.6M519.3 477.3v1.5M520.3 475.4v3.8M521.2 474.3v2.1M522.2 472.2v3.0M523.1 473.3v1.9M524.1 470.0v1.5M525.0 468.6v4.0M526.0 472.0v2.9M526.9 468.1v5.0M527.9 470.3v2.2M528.8 470.4v3.4M529.8 469.3v2.3M530.7 466.9v3.7M531.7 470.4v2.5M532.6 466.7v3.5M533.6 464.3v3.4M534.5 465.3v3.8M535.5 462.7v6.4M536.4 461.1v3.7M537.4 462.3v2.9M538.3 461.6v1.9M539.3 456.4v4.6M540.2 458.8v4.4M541.2 457.9v4.0M542.1 457.6v2.1M543.1 454.5v2.1M544.0 453.4v6.7M545.0 454.8v3.0M545.9 453.5v4.0M546.9 450.5v3.8M547.8 453.1v2.8M548.8 449.6v1.4M549.7 448.9v4.9M550.7 450.5v5.6M551.6 447.4v3.3M552.6 447.8v1.8M553.5 450.2v1.7M554.5 445.4v4.6M555.4 446.2v2.3M556.4 445.9v3.6M557.3 447.1v3.0M558.3 440.0v3.9M559.2 442.3v3.0M560.2 441.8v2.1M561.1 439.2v5.8M562.1 440.8v2.0M563.0 440.5v1.5M564.0 439.4v6.6M564.9 438.7v2.1M565.9 439.5v3.2M566.8 439.5v3.0M567.8 436.1v4.0M568.7 437.3v3.9M569.7 439.5v4.1M570.6 437.2v2.6M571.6 434.7v2.7M572.5 435.8v1.6M573.5 433.9v1.2M574.4 434.5v3.5M575.4 435.7v2.6M576.3 430.1v6.1M577.3 432.8v2.2M578.2 435.0v2.2M579.2 431.5v1.9M580.1 432.4v1.9M581.1 428.4v4.1M582.0 429.2v2.6M583.0 429.8v1.6M583.9 434.1v2.8M584.9 427.8v4.5M585.8 427.4v4.0M586.8 427.9v2.1M587.7 427.6v3.5M588.7 430.0v1.4M589.6 427.5v3.7M590.6 430.9v3.7M591.5 426.2v4.9M592.5 429.9v1.9M593.4 426.2v3.8M594.4 426.6v3.6M595.3 422.9v1.9M596.3 424.1v3.9M597.2 425.2v1.2M598.2 422.9v4.1M599.1 419.0v3.2M600.1 424.9v2.9M601.0 422.1v2.4M602.0 421.7v2.2M602.9 421.8v1.8M603.9 421.3v1.7M604.8 421.2v3.6M605.8 417.8v2.4M606.7 416.5v5.4M607.7 420.6v1.5M608.6 418.7v3.6M609.6 418.1v1.4M610.5 417.0v1.8M611.5 413.8v6.1M612.4 416.9v1.9M613.4 417.9v4.3M614.3 413.2v2.9M615.3 418.6v2.0M616.2 414.4v6.4M617.2 413.4v1.7M618.1 414.6v3.4M619.1 409.0v3.6M620.0 408.6v2.0M621.0 408.6v2.8M621.9 408.5v5.5M622.9 409.4v2.9M623.8 408.4v2.6M624.8 409.4v1.9M625.7 402.8v3.7M626.7 409.1v1.2M627.6 403.8v1.8M628.6 402.3v6.8M629.5 404.2v2.6M630.5 402.1v2.5M631.4 401.2v2.3M632.4 400.5v4.4M633.3 402.3v4.8M634.3 404.8v1.8M635.2 403.5v3.6M636.2 399.3v4.6M637.1 400.6v2.5M638.1 399.8v3.1" stroke="#0a0acc" stroke-width="0.7" fill="none"/>
<path d="M453.8 508.1L454.8 509.4L455.7 512.0L456.6 506.8L457.6 510.0L458.5 510.6L459.5 508.8L460.4 509.1L461.4 509.6L462.3 506.9L463.3 508.2L464.2 506.2L465.2 506.3L466.1 506.2L467.1 506.5L468.0 506.5L469.0 506.5L469.9 503.4L470.9 507.6L471.8 505.9L472.8 504.7L473.7 502.6L474.7 502.5L475.6 502.9L476.6 502.3L477.5 498.8L478.5 501.8L479.4 504.5L480.4 497.1L481.3 500.8L482.3 499.4L483.2 498.3L484.2 500.0L485.1 495.7L486.1 497.3L487.0 498.7L488.0 495.7L488.9 494.9L489.9 495.2L490.8 493.8L491.8 496.2L492.7 491.9L493.7 494.1L494.6 490.2L495.6 492.6L496.5 490.8L497.5 486.4L498.4 489.8L499.4 487.6L500.3 487.9L501.3 490.5L502.2 485.7L503.2 485.3L504.1 488.7L505.1 486.0L506.0 487.7L507.0 485.2L507.9 482.8L508.9 483.5L509.8 485.0L510.8 484.0L511.7 481.9L512.7 481.4L513.6 480.5L514.6 479.2L515.5 482.6L516.5 478.9L517.4 476.3L518.4 476.8L519.3 478.1L520.3 477.3L521.2 475.3L522.2 473.8L523.1 474.2L524.1 470.7L525.0 470.6L526.0 473.4L526.9 470.6L527.9 471.4L528.8 472.1L529.8 470.5L530.7 468.7L531.7 471.6L532.6 468.4L533.6 466.0L534.5 467.1L535.5 465.9L536.4 462.9L537.4 463.8L538.3 462.6L539.3 458.7L540.2 461.0L541.2 459.9L542.1 458.7L543.1 455.5L544.0 456.8L545.0 456.3L545.9 455.6L546.9 452.3L547.8 454.6L548.8 450.3L549.7 451.3L550.7 453.3L551.6 449.0L552.6 448.7L553.5 451.0L554.5 447.7L555.4 447.3L556.4 447.7L557.3 448.6L558.3 441.9L559.2 443.8L560.2 442.9L561.1 442.1L562.1 441.8L563.0 441.2L564.0 442.7L564.9 439.8L565.9 441.0L566.8 440.9L567.8 438.2L568.7 439.2L569.7 441.5L570.6 438.5L571.6 436.1L572.5 436.6L573.5 434.5L574.4 436.3L575.4 437.0L576.3 433.2L577.3 433.9L578.2 436.1L579.2 432.4L580.1 433.3L581.1 430.5L582.0 430.5L583.0 430.6L583.9 435.5L584.9 430.0L585.8 429.4L586.8 429.0L587.7 429.4L588.7 430.7L589.6 429.4L590.6 432.8L591.5 428.7L592.5 430.8L593.4 428.1L594.4 428.4L595.3 423.8L596.3 426.1L597.2 425.8L598.2 425.0L599.1 420.6L600.1 426.4L601.0 423.3L602.0 422.7L602.9 422.6L603.9 422.2L604.8 423.0L605.8 419.0L606.7 419.2L607.7 421.3L608.6 420.5L609.6 418.8L610.5 417.9L611.5 416.8L612.4 417.9L613.4 420.0L614.3 414.6L615.3 419.6L616.2 417.6L617.2 414.2L618.1 416.3L619.1 410.8L620.0 409.6L621.0 410.0L621.9 411.3L622.9 410.8L623.8 409.7L624.8 410.3L625.7 404.6L626.7 409.7L627.6 404.7L628.6 405.7L629.5 405.6L630.5 403.3L631.4 402.3L632.4 402.7L633.3 404.6L634.3 405.7L635.2 405.4L636.2 401.6L637.1 401.8L638.1 401.4" fill="none" stroke="none" marker-start="url(#mib)" marker-mid="url(#mib)" marker-end="url(#mib)"/>
<text transform="translate(0,10.5) scale(1.0,1)" font-size="10" text-anchor="start" font-weight="bold" fill="#000" >a</text>
<text transform="translate(236,10.5) scale(1.0,1)" font-size="10" text-anchor="start" font-weight="bold" fill="#000" >b</text>
<text transform="translate(412,10.5) scale(1.0,1)" font-size="10" text-anchor="start" font-weight="bold" fill="#000" >c</text>
<text transform="translate(0,196.5) scale(1.0,1)" font-size="10" text-anchor="start" font-weight="bold" fill="#000" >d</text>
<text transform="translate(236,196.5) scale(1.0,1)" font-size="10" text-anchor="start" font-weight="bold" fill="#000" >e</text>
<text transform="translate(412,196.5) scale(1.0,1)" font-size="10" text-anchor="start" font-weight="bold" fill="#000" >f</text>
<text transform="translate(0,378) scale(1.0,1)" font-size="10" text-anchor="start" font-weight="bold" fill="#000" >g</text>
<text transform="translate(236,378) scale(1.0,1)" font-size="10" text-anchor="start" font-weight="bold" fill="#000" >h</text>
<text transform="translate(411.5,378) scale(1.0,1)" font-size="10" text-anchor="start" font-weight="bold" fill="#000" >i</text>
<rect x="44.5" y="24.5" width="182.7" height="139.7" fill="none" stroke="#222" stroke-width="0.9"/>
<line x1="72.5" y1="164.2" x2="72.5" y2="168.4" stroke="#222" stroke-width="0.9" />
<text transform="translate(72.5,179.8) scale(0.97,1)" font-size="10" text-anchor="middle" font-weight="normal" fill="#111" stroke="#111" stroke-width="0.2" >50</text>
<line x1="111.17" y1="164.2" x2="111.17" y2="168.4" stroke="#222" stroke-width="0.9" />
<text transform="translate(111.17,179.8) scale(0.97,1)" font-size="10" text-anchor="middle" font-weight="normal" fill="#111" stroke="#111" stroke-width="0.2" >100</text>
<line x1="149.85" y1="164.2" x2="149.85" y2="168.4" stroke="#222" stroke-width="0.9" />
<text transform="translate(149.85,179.8) scale(0.97,1)" font-size="10" text-anchor="middle" font-weight="normal" fill="#111" stroke="#111" stroke-width="0.2" >150</text>
<line x1="188.52" y1="164.2" x2="188.52" y2="168.4" stroke="#222" stroke-width="0.9" />
<text transform="translate(188.52,179.8) scale(0.97,1)" font-size="10" text-anchor="middle" font-weight="normal" fill="#111" stroke="#111" stroke-width="0.2" >200</text>
<line x1="227.2" y1="164.2" x2="227.2" y2="168.4" stroke="#222" stroke-width="0.9" />
<text transform="translate(227.2,179.8) scale(0.97,1)" font-size="10" text-anchor="middle" font-weight="normal" fill="#111" stroke="#111" stroke-width="0.2" >250</text>
<line x1="53.16" y1="164.2" x2="53.16" y2="166.8" stroke="#222" stroke-width="0.9" />
<line x1="91.84" y1="164.2" x2="91.84" y2="166.8" stroke="#222" stroke-width="0.9" />
<line x1="130.51" y1="164.2" x2="130.51" y2="166.8" stroke="#222" stroke-width="0.9" />
<line x1="169.19" y1="164.2" x2="169.19" y2="166.8" stroke="#222" stroke-width="0.9" />
<line x1="207.86" y1="164.2" x2="207.86" y2="166.8" stroke="#222" stroke-width="0.9" />
<rect x="44.5" y="201.6" width="182.7" height="139.6" fill="none" stroke="#222" stroke-width="0.9"/>
<line x1="72.5" y1="341.2" x2="72.5" y2="345.4" stroke="#222" stroke-width="0.9" />
<text transform="translate(72.5,356.8) scale(0.97,1)" font-size="10" text-anchor="middle" font-weight="normal" fill="#111" stroke="#111" stroke-width="0.2" >50</text>
<line x1="111.17" y1="341.2" x2="111.17" y2="345.4" stroke="#222" stroke-width="0.9" />
<text transform="translate(111.17,356.8) scale(0.97,1)" font-size="10" text-anchor="middle" font-weight="normal" fill="#111" stroke="#111" stroke-width="0.2" >100</text>
<line x1="149.85" y1="341.2" x2="149.85" y2="345.4" stroke="#222" stroke-width="0.9" />
<text transform="translate(149.85,356.8) scale(0.97,1)" font-size="10" text-anchor="middle" font-weight="normal" fill="#111" stroke="#111" stroke-width="0.2" >150</text>
<line x1="188.52" y1="341.2" x2="188.52" y2="345.4" stroke="#222" stroke-width="0.9" />
<text transform="translate(188.52,356.8) scale(0.97,1)" font-size="10" text-anchor="middle" font-weight="normal" fill="#111" stroke="#111" stroke-width="0.2" >200</text>
<line x1="227.2" y1="341.2" x2="227.2" y2="345.4" stroke="#222" stroke-width="0.9" />
<text transform="translate(227.2,356.8) scale(0.97,1)" font-size="10" text-anchor="middle" font-weight="normal" fill="#111" stroke="#111" stroke-width="0.2" >250</text>
<line x1="53.16" y1="341.2" x2="53.16" y2="343.8" stroke="#222" stroke-width="0.9" />
<line x1="91.84" y1="341.2" x2="91.84" y2="343.8" stroke="#222" stroke-width="0.9" />
<line x1="130.51" y1="341.2" x2="130.51" y2="343.8" stroke="#222" stroke-width="0.9" />
<line x1="169.19" y1="341.2" x2="169.19" y2="343.8" stroke="#222" stroke-width="0.9" />
<line x1="207.86" y1="341.2" x2="207.86" y2="343.8" stroke="#222" stroke-width="0.9" />
<rect x="44.5" y="381.8" width="182.7" height="139.9" fill="none" stroke="#222" stroke-width="0.9"/>
<line x1="72.5" y1="521.7" x2="72.5" y2="525.9" stroke="#222" stroke-width="0.9" />
<text transform="translate(72.5,537.3) scale(0.97,1)" font-size="10" text-anchor="middle" font-weight="normal" fill="#111" stroke="#111" stroke-width="0.2" >50</text>
<line x1="111.17" y1="521.7" x2="111.17" y2="525.9" stroke="#222" stroke-width="0.9" />
<text transform="translate(111.17,537.3) scale(0.97,1)" font-size="10" text-anchor="middle" font-weight="normal" fill="#111" stroke="#111" stroke-width="0.2" >100</text>
<line x1="149.85" y1="521.7" x2="149.85" y2="525.9" stroke="#222" stroke-width="0.9" />
<text transform="translate(149.85,537.3) scale(0.97,1)" font-size="10" text-anchor="middle" font-weight="normal" fill="#111" stroke="#111" stroke-width="0.2" >150</text>
<line x1="188.52" y1="521.7" x2="188.52" y2="525.9" stroke="#222" stroke-width="0.9" />
<text transform="translate(188.52,537.3) scale(0.97,1)" font-size="10" text-anchor="middle" font-weight="normal" fill="#111" stroke="#111" stroke-width="0.2" >200</text>
<line x1="227.2" y1="521.7" x2="227.2" y2="525.9" stroke="#222" stroke-width="0.9" />
<text transform="translate(227.2,537.3) scale(0.97,1)" font-size="10" text-anchor="middle" font-weight="normal" fill="#111" stroke="#111" stroke-width="0.2" >250</text>
<line x1="53.16" y1="521.7" x2="53.16" y2="524.3" stroke="#222" stroke-width="0.9" />
<line x1="91.84" y1="521.7" x2="91.84" y2="524.3" stroke="#222" stroke-width="0.9" />
<line x1="130.51" y1="521.7" x2="130.51" y2="524.3" stroke="#222" stroke-width="0.9" />
<line x1="169.19" y1="521.7" x2="169.19" y2="524.3" stroke="#222" stroke-width="0.9" />
<line x1="207.86" y1="521.7" x2="207.86" y2="524.3" stroke="#222" stroke-width="0.9" />
<line x1="40.3" y1="45.5" x2="44.5" y2="45.5" stroke="#222" stroke-width="0.9" />
<text transform="translate(35.5,49.1) scale(0.97,1)" font-size="10" text-anchor="end" font-weight="normal" fill="#111" stroke="#111" stroke-width="0.2" >0</text>
<line x1="40.3" y1="93.1" x2="44.5" y2="93.1" stroke="#222" stroke-width="0.9" />
<text transform="translate(35.5,96.7) scale(0.97,1)" font-size="10" text-anchor="end" font-weight="normal" fill="#111" stroke="#111" stroke-width="0.2" >-100</text>
<line x1="40.3" y1="140.7" x2="44.5" y2="140.7" stroke="#222" stroke-width="0.9" />
<text transform="translate(35.5,144.3) scale(0.97,1)" font-size="10" text-anchor="end" font-weight="normal" fill="#111" stroke="#111" stroke-width="0.2" >-200</text>
<line x1="41.9" y1="69.3" x2="44.5" y2="69.3" stroke="#222" stroke-width="0.9" />
<line x1="41.9" y1="116.9" x2="44.5" y2="116.9" stroke="#222" stroke-width="0.9" />
<line x1="40.3" y1="212.7" x2="44.5" y2="212.7" stroke="#222" stroke-width="0.9" />
<text transform="translate(35.5,216.3) scale(0.97,1)" font-size="10" text-anchor="end" font-weight="normal" fill="#111" stroke="#111" stroke-width="0.2" >0.2</text>
<line x1="40.3" y1="271.4" x2="44.5" y2="271.4" stroke="#222" stroke-width="0.9" />
<text transform="translate(35.5,275) scale(0.97,1)" font-size="10" text-anchor="end" font-weight="normal" fill="#111" stroke="#111" stroke-width="0.2" ></text>
<line x1="40.3" y1="330.1" x2="44.5" y2="330.1" stroke="#222" stroke-width="0.9" />
<text transform="translate(35.5,333.7) scale(0.97,1)" font-size="10" text-anchor="end" font-weight="normal" fill="#111" stroke="#111" stroke-width="0.2" >-0.2</text>
<line x1="41.9" y1="242.05" x2="44.5" y2="242.05" stroke="#222" stroke-width="0.9" />
<line x1="41.9" y1="300.75" x2="44.5" y2="300.75" stroke="#222" stroke-width="0.9" />
<text transform="translate(33.2,276.7) scale(0.97,1)" font-size="10" text-anchor="end" font-weight="normal" fill="#111" stroke="#111" stroke-width="0.2" >M</text>
<line x1="27" y1="267.4" x2="33.6" y2="267.4" stroke="#555" stroke-width="0.8" />
<line x1="40.6" y1="420.1" x2="44.8" y2="420.1" stroke="#222" stroke-width="0.9" />
<text transform="translate(35.8,423.7) scale(0.97,1)" font-size="10" text-anchor="end" font-weight="normal" fill="#111" stroke="#111" stroke-width="0.2" >0</text>
<line x1="40.6" y1="504.9" x2="44.8" y2="504.9" stroke="#222" stroke-width="0.9" />
<text transform="translate(35.8,508.5) scale(0.97,1)" font-size="10" text-anchor="end" font-weight="normal" fill="#111" stroke="#111" stroke-width="0.2" >-100</text>
<line x1="42.2" y1="462.5" x2="44.8" y2="462.5" stroke="#222" stroke-width="0.9" />
<text transform="translate(140,192.5) scale(0.97,1)" font-size="10" text-anchor="middle" font-weight="normal" fill="#111" stroke="#111" stroke-width="0.2" >T (K)</text>
<text transform="translate(140,369.5) scale(0.97,1)" font-size="10" text-anchor="middle" font-weight="normal" fill="#111" stroke="#111" stroke-width="0.2" >T (K)</text>
<text transform="translate(140,551) scale(0.97,1)" font-size="10" text-anchor="middle" font-weight="normal" fill="#111" stroke="#111" stroke-width="0.2" >T (K)</text>
<rect x="254.3" y="24.4" width="117.4" height="139.8" fill="none" stroke="#222" stroke-width="0.9"/>
<line x1="275.5" y1="164.2" x2="275.5" y2="168.4" stroke="#222" stroke-width="0.9" />
<text transform="translate(276.6,179.8) scale(0.97,1)" font-size="10" text-anchor="middle" font-weight="normal" fill="#111" stroke="#111" stroke-width="0.2" >-200</text>
<line x1="313.7" y1="164.2" x2="313.7" y2="168.4" stroke="#222" stroke-width="0.9" />
<text transform="translate(314.8,179.8) scale(0.97,1)" font-size="10" text-anchor="middle" font-weight="normal" fill="#111" stroke="#111" stroke-width="0.2" >-100</text>
<line x1="351.9" y1="164.2" x2="351.9" y2="168.4" stroke="#222" stroke-width="0.9" />
<text transform="translate(351.9,179.8) scale(0.97,1)" font-size="10" text-anchor="middle" font-weight="normal" fill="#111" stroke="#111" stroke-width="0.2" >0</text>
<line x1="256.4" y1="164.2" x2="256.4" y2="166.8" stroke="#222" stroke-width="0.9" />
<line x1="294.6" y1="164.2" x2="294.6" y2="166.8" stroke="#222" stroke-width="0.9" />
<line x1="332.8" y1="164.2" x2="332.8" y2="166.8" stroke="#222" stroke-width="0.9" />
<rect x="254.3" y="201.4" width="117.4" height="139.8" fill="none" stroke="#222" stroke-width="0.9"/>
<line x1="265.5" y1="341.2" x2="265.5" y2="345.4" stroke="#222" stroke-width="0.9" />
<text transform="translate(266.6,356.8) scale(0.97,1)" font-size="10" text-anchor="middle" font-weight="normal" fill="#111" stroke="#111" stroke-width="0.2" >-0.2</text>
<line x1="312.5" y1="341.2" x2="312.5" y2="345.4" stroke="#222" stroke-width="0.9" />
<text transform="translate(312.5,356.8) scale(0.97,1)" font-size="10" text-anchor="middle" font-weight="normal" fill="#111" stroke="#111" stroke-width="0.2" ></text>
<line x1="359.5" y1="341.2" x2="359.5" y2="345.4" stroke="#222" stroke-width="0.9" />
<text transform="translate(359.5,356.8) scale(0.97,1)" font-size="10" text-anchor="middle" font-weight="normal" fill="#111" stroke="#111" stroke-width="0.2" >0.2</text>
<line x1="289" y1="341.2" x2="289" y2="343.8" stroke="#222" stroke-width="0.9" />
<line x1="336" y1="341.2" x2="336" y2="343.8" stroke="#222" stroke-width="0.9" />
<text transform="translate(311.8,356.9) scale(0.97,1)" font-size="10" text-anchor="middle" font-weight="normal" fill="#111" stroke="#111" stroke-width="0.2" >M</text>
<line x1="308.2" y1="347.5" x2="315.6" y2="347.5" stroke="#555" stroke-width="0.8" />
<rect x="254" y="382.2" width="117.6" height="140" fill="none" stroke="#222" stroke-width="0.9"/>
<line x1="270.4" y1="522.2" x2="270.4" y2="526.4" stroke="#222" stroke-width="0.9" />
<text transform="translate(271.5,537.8) scale(0.97,1)" font-size="10" text-anchor="middle" font-weight="normal" fill="#111" stroke="#111" stroke-width="0.2" >-100</text>
<line x1="338.2" y1="522.2" x2="338.2" y2="526.4" stroke="#222" stroke-width="0.9" />
<text transform="translate(338.2,537.8) scale(0.97,1)" font-size="10" text-anchor="middle" font-weight="normal" fill="#111" stroke="#111" stroke-width="0.2" >0</text>
<line x1="304.3" y1="522.2" x2="304.3" y2="524.8" stroke="#222" stroke-width="0.9" />
<text transform="translate(312,193.4) scale(0.97,1)" font-size="10" text-anchor="middle" font-weight="normal" fill="#111" stroke="#111" stroke-width="0.2" >E - E<tspan font-size="6.2" dy="2.5">F</tspan><tspan dy="-2.5"> (meV)</tspan></text>
<text transform="translate(309.7,369.6) scale(0.97,1)" font-size="10" text-anchor="middle" font-weight="normal" fill="#111" stroke="#111" stroke-width="0.2" >k<tspan font-size="6.5" dy="2.5">y</tspan><tspan dy="-2.5">&#8201;(&#197;</tspan><tspan font-size="6.5" dy="-3.5">-1</tspan><tspan dy="3.5">)</tspan></text>
<text transform="translate(312,547.9) scale(0.97,1)" font-size="10" text-anchor="middle" font-weight="normal" fill="#111" stroke="#111" stroke-width="0.2" >E - E<tspan font-size="6.2" dy="2.5">F</tspan><tspan dy="-2.5"> (meV)</tspan></text>
<text transform="translate(243.5,97.2) rotate(-90) scale(0.94,1)" font-size="10" text-anchor="middle" fill="#111" stroke="#111" stroke-width="0.2">Intensity (arb. units)</text>
<text transform="translate(243.5,274.4) rotate(-90) scale(0.94,1)" font-size="10" text-anchor="middle" fill="#111" stroke="#111" stroke-width="0.2">Intensity (arb. units)</text>
<text transform="translate(243.5,455) rotate(-90) scale(0.94,1)" font-size="10" text-anchor="middle" fill="#111" stroke="#111" stroke-width="0.2">Intensity (arb. units)</text>
<text transform="translate(375,45.3) scale(0.97,1)" font-size="10" text-anchor="start" font-weight="normal" fill="#111" stroke="#111" stroke-width="0.2" >250 K</text>
<text transform="translate(375,70.9) scale(0.97,1)" font-size="10" text-anchor="start" font-weight="normal" fill="#111" stroke="#111" stroke-width="0.2" >197 K</text>
<text transform="translate(375,92.4) scale(0.97,1)" font-size="10" text-anchor="start" font-weight="normal" fill="#111" stroke="#111" stroke-width="0.2" >157 K</text>
<text transform="translate(375,165) scale(0.97,1)" font-size="10" text-anchor="start" font-weight="normal" fill="#111" stroke="#111" stroke-width="0.2" >13 K</text>
<text transform="translate(375,226.8) scale(0.97,1)" font-size="10" text-anchor="start" font-weight="normal" fill="#111" stroke="#111" stroke-width="0.2" >250 K</text>
<text transform="translate(375,252.6) scale(0.97,1)" font-size="10" text-anchor="start" font-weight="normal" fill="#111" stroke="#111" stroke-width="0.2" >197 K</text>
<text transform="translate(375,272.2) scale(0.97,1)" font-size="10" text-anchor="start" font-weight="normal" fill="#111" stroke="#111" stroke-width="0.2" >157 K</text>
<text transform="translate(375,342) scale(0.97,1)" font-size="10" text-anchor="start" font-weight="normal" fill="#111" stroke="#111" stroke-width="0.2" >13 K</text>
<text transform="translate(375,405.6) scale(0.97,1)" font-size="10" text-anchor="start" font-weight="normal" fill="#111" stroke="#111" stroke-width="0.2" >250 K</text>
<text transform="translate(375,431) scale(0.97,1)" font-size="10" text-anchor="start" font-weight="normal" fill="#111" stroke="#111" stroke-width="0.2" >197 K</text>
<text transform="translate(375,452.6) scale(0.97,1)" font-size="10" text-anchor="start" font-weight="normal" fill="#111" stroke="#111" stroke-width="0.2" >157 K</text>
<text transform="translate(375,522.2) scale(0.97,1)" font-size="10" text-anchor="start" font-weight="normal" fill="#111" stroke="#111" stroke-width="0.2" >13 K</text>
<rect x="450.7" y="24.3" width="190.9" height="139.8" fill="none" stroke="#222" stroke-width="0.9"/>
<rect x="450.8" y="201.6" width="190.7" height="139.4" fill="none" stroke="#222" stroke-width="0.9"/>
<rect x="450.8" y="382.2" width="190.6" height="138.4" fill="none" stroke="#222" stroke-width="0.9"/>
<line x1="482.75" y1="164.1" x2="482.75" y2="168.3" stroke="#222" stroke-width="0.9" />
<text transform="translate(482.75,179.7) scale(0.97,1)" font-size="10" text-anchor="middle" font-weight="normal" fill="#111" stroke="#111" stroke-width="0.2" >50</text>
<line x1="521.1" y1="164.1" x2="521.1" y2="168.3" stroke="#222" stroke-width="0.9" />
<text transform="translate(521.1,179.7) scale(0.97,1)" font-size="10" text-anchor="middle" font-weight="normal" fill="#111" stroke="#111" stroke-width="0.2" >100</text>
<line x1="559.45" y1="164.1" x2="559.45" y2="168.3" stroke="#222" stroke-width="0.9" />
<text transform="translate(559.45,179.7) scale(0.97,1)" font-size="10" text-anchor="middle" font-weight="normal" fill="#111" stroke="#111" stroke-width="0.2" >150</text>
<line x1="597.8" y1="164.1" x2="597.8" y2="168.3" stroke="#222" stroke-width="0.9" />
<text transform="translate(597.8,179.7) scale(0.97,1)" font-size="10" text-anchor="middle" font-weight="normal" fill="#111" stroke="#111" stroke-width="0.2" >200</text>
<line x1="636.15" y1="164.1" x2="636.15" y2="168.3" stroke="#222" stroke-width="0.9" />
<text transform="translate(636.15,179.7) scale(0.97,1)" font-size="10" text-anchor="middle" font-weight="normal" fill="#111" stroke="#111" stroke-width="0.2" >250</text>
<line x1="463.57" y1="164.1" x2="463.57" y2="166.7" stroke="#222" stroke-width="0.9" />
<line x1="501.92" y1="164.1" x2="501.92" y2="166.7" stroke="#222" stroke-width="0.9" />
<line x1="540.27" y1="164.1" x2="540.27" y2="166.7" stroke="#222" stroke-width="0.9" />
<line x1="578.62" y1="164.1" x2="578.62" y2="166.7" stroke="#222" stroke-width="0.9" />
<line x1="616.98" y1="164.1" x2="616.98" y2="166.7" stroke="#222" stroke-width="0.9" />
<line x1="482.75" y1="341" x2="482.75" y2="345.2" stroke="#222" stroke-width="0.9" />
<text transform="translate(482.75,356.6) scale(0.97,1)" font-size="10" text-anchor="middle" font-weight="normal" fill="#111" stroke="#111" stroke-width="0.2" >50</text>
<line x1="521.1" y1="341" x2="521.1" y2="345.2" stroke="#222" stroke-width="0.9" />
<text transform="translate(521.1,356.6) scale(0.97,1)" font-size="10" text-anchor="middle" font-weight="normal" fill="#111" stroke="#111" stroke-width="0.2" >100</text>
<line x1="559.45" y1="341" x2="559.45" y2="345.2" stroke="#222" stroke-width="0.9" />
<text transform="translate(559.45,356.6) scale(0.97,1)" font-size="10" text-anchor="middle" font-weight="normal" fill="#111" stroke="#111" stroke-width="0.2" >150</text>
<line x1="597.8" y1="341" x2="597.8" y2="345.2" stroke="#222" stroke-width="0.9" />
<text transform="translate(597.8,356.6) scale(0.97,1)" font-size="10" text-anchor="middle" font-weight="normal" fill="#111" stroke="#111" stroke-width="0.2" >200</text>
<line x1="636.15" y1="341" x2="636.15" y2="345.2" stroke="#222" stroke-width="0.9" />
<text transform="translate(636.15,356.6) scale(0.97,1)" font-size="10" text-anchor="middle" font-weight="normal" fill="#111" stroke="#111" stroke-width="0.2" >250</text>
<line x1="463.57" y1="341" x2="463.57" y2="343.6" stroke="#222" stroke-width="0.9" />
<line x1="501.92" y1="341" x2="501.92" y2="343.6" stroke="#222" stroke-width="0.9" />
<line x1="540.27" y1="341" x2="540.27" y2="343.6" stroke="#222" stroke-width="0.9" />
<line x1="578.62" y1="341" x2="578.62" y2="343.6" stroke="#222" stroke-width="0.9" />
<line x1="616.98" y1="341" x2="616.98" y2="343.6" stroke="#222" stroke-width="0.9" />
<line x1="482.75" y1="520.6" x2="482.75" y2="524.8" stroke="#222" stroke-width="0.9" />
<text transform="translate(482.75,536.2) scale(0.97,1)" font-size="10" text-anchor="middle" font-weight="normal" fill="#111" stroke="#111" stroke-width="0.2" >50</text>
<line x1="521.1" y1="520.6" x2="521.1" y2="524.8" stroke="#222" stroke-width="0.9" />
<text transform="translate(521.1,536.2) scale(0.97,1)" font-size="10" text-anchor="middle" font-weight="normal" fill="#111" stroke="#111" stroke-width="0.2" >100</text>
<line x1="559.45" y1="520.6" x2="559.45" y2="524.8" stroke="#222" stroke-width="0.9" />
<text transform="translate(559.45,536.2) scale(0.97,1)" font-size="10" text-anchor="middle" font-weight="normal" fill="#111" stroke="#111" stroke-width="0.2" >150</text>
<line x1="597.8" y1="520.6" x2="597.8" y2="524.8" stroke="#222" stroke-width="0.9" />
<text transform="translate(597.8,536.2) scale(0.97,1)" font-size="10" text-anchor="middle" font-weight="normal" fill="#111" stroke="#111" stroke-width="0.2" >200</text>
<line x1="636.15" y1="520.6" x2="636.15" y2="524.8" stroke="#222" stroke-width="0.9" />
<text transform="translate(636.15,536.2) scale(0.97,1)" font-size="10" text-anchor="middle" font-weight="normal" fill="#111" stroke="#111" stroke-width="0.2" >250</text>
<line x1="463.57" y1="520.6" x2="463.57" y2="523.2" stroke="#222" stroke-width="0.9" />
<line x1="501.92" y1="520.6" x2="501.92" y2="523.2" stroke="#222" stroke-width="0.9" />
<line x1="540.27" y1="520.6" x2="540.27" y2="523.2" stroke="#222" stroke-width="0.9" />
<line x1="578.62" y1="520.6" x2="578.62" y2="523.2" stroke="#222" stroke-width="0.9" />
<line x1="616.98" y1="520.6" x2="616.98" y2="523.2" stroke="#222" stroke-width="0.9" />
<text transform="translate(547.5,192.5) scale(0.97,1)" font-size="10" text-anchor="middle" font-weight="normal" fill="#111" stroke="#111" stroke-width="0.2" >T (K)</text>
<text transform="translate(547.5,369.5) scale(0.97,1)" font-size="10" text-anchor="middle" font-weight="normal" fill="#111" stroke="#111" stroke-width="0.2" >T (K)</text>
<text transform="translate(547.5,551) scale(0.97,1)" font-size="10" text-anchor="middle" font-weight="normal" fill="#111" stroke="#111" stroke-width="0.2" >T (K)</text>
<line x1="446.5" y1="60.9" x2="450.7" y2="60.9" stroke="#222" stroke-width="0.9" />
<text transform="translate(441.7,64.5) scale(0.97,1)" font-size="10" text-anchor="end" font-weight="normal" fill="#111" stroke="#111" stroke-width="0.2" >-100</text>
<line x1="446.5" y1="115.1" x2="450.7" y2="115.1" stroke="#222" stroke-width="0.9" />
<text transform="translate(441.7,118.7) scale(0.97,1)" font-size="10" text-anchor="end" font-weight="normal" fill="#111" stroke="#111" stroke-width="0.2" >-150</text>
<line x1="641.6" y1="38.7" x2="645.8" y2="38.7" stroke="#222" stroke-width="0.9" />
<text transform="translate(650,42.3) scale(0.97,1)" font-size="10" text-anchor="start" font-weight="normal" fill="#111" stroke="#111" stroke-width="0.2" >3</text>
<line x1="641.6" y1="80.5" x2="645.8" y2="80.5" stroke="#222" stroke-width="0.9" />
<text transform="translate(650,84.1) scale(0.97,1)" font-size="10" text-anchor="start" font-weight="normal" fill="#111" stroke="#111" stroke-width="0.2" >2</text>
<line x1="641.6" y1="122.3" x2="645.8" y2="122.3" stroke="#222" stroke-width="0.9" />
<text transform="translate(650,125.9) scale(0.97,1)" font-size="10" text-anchor="start" font-weight="normal" fill="#111" stroke="#111" stroke-width="0.2" >1</text>
<line x1="641.6" y1="164.1" x2="645.8" y2="164.1" stroke="#222" stroke-width="0.9" />
<text transform="translate(650,167.7) scale(0.97,1)" font-size="10" text-anchor="start" font-weight="normal" fill="#111" stroke="#111" stroke-width="0.2" >0</text>
<line x1="446.6" y1="238.3" x2="450.8" y2="238.3" stroke="#222" stroke-width="0.9" />
<text transform="translate(441.8,241.9) scale(0.97,1)" font-size="10" text-anchor="end" font-weight="normal" fill="#111" stroke="#111" stroke-width="0.2" >0.08</text>
<line x1="446.6" y1="304.8" x2="450.8" y2="304.8" stroke="#222" stroke-width="0.9" />
<text transform="translate(441.8,308.4) scale(0.97,1)" font-size="10" text-anchor="end" font-weight="normal" fill="#111" stroke="#111" stroke-width="0.2" >0.04</text>
<line x1="641.5" y1="218.3" x2="645.7" y2="218.3" stroke="#222" stroke-width="0.9" />
<text transform="translate(649.9,221.9) scale(0.97,1)" font-size="10" text-anchor="start" font-weight="normal" fill="#111" stroke="#111" stroke-width="0.2" >0.19</text>
<line x1="641.5" y1="264.05" x2="645.7" y2="264.05" stroke="#222" stroke-width="0.9" />
<text transform="translate(649.9,267.65) scale(0.97,1)" font-size="10" text-anchor="start" font-weight="normal" fill="#111" stroke="#111" stroke-width="0.2" >0.16</text>
<line x1="641.5" y1="309.8" x2="645.7" y2="309.8" stroke="#222" stroke-width="0.9" />
<text transform="translate(649.9,313.4) scale(0.97,1)" font-size="10" text-anchor="start" font-weight="normal" fill="#111" stroke="#111" stroke-width="0.2" >0.13</text>
<line x1="446.6" y1="422" x2="450.8" y2="422" stroke="#222" stroke-width="0.9" />
<text transform="translate(441.8,425.6) scale(0.97,1)" font-size="10" text-anchor="end" font-weight="normal" fill="#111" stroke="#111" stroke-width="0.2" >0.18</text>
<line x1="446.6" y1="462.55" x2="450.8" y2="462.55" stroke="#222" stroke-width="0.9" />
<text transform="translate(441.8,466.15) scale(0.97,1)" font-size="10" text-anchor="end" font-weight="normal" fill="#111" stroke="#111" stroke-width="0.2" >0.12</text>
<line x1="446.6" y1="503.1" x2="450.8" y2="503.1" stroke="#222" stroke-width="0.9" />
<text transform="translate(441.8,506.7) scale(0.97,1)" font-size="10" text-anchor="end" font-weight="normal" fill="#111" stroke="#111" stroke-width="0.2" >0.06</text>
<line x1="641.4" y1="420.8" x2="645.6" y2="420.8" stroke="#222" stroke-width="0.9" />
<text transform="translate(649.8,424.4) scale(0.97,1)" font-size="10" text-anchor="start" font-weight="normal" fill="#111" stroke="#111" stroke-width="0.2" >0.06</text>
<line x1="641.4" y1="472.8" x2="645.6" y2="472.8" stroke="#222" stroke-width="0.9" />
<text transform="translate(649.8,476.4) scale(0.97,1)" font-size="10" text-anchor="start" font-weight="normal" fill="#111" stroke="#111" stroke-width="0.2" >0.04</text>
<text transform="translate(416.6,98.5) rotate(-90) scale(0.97,1)" font-size="10" text-anchor="middle" fill="#111" stroke="#111" stroke-width="0.2">E<tspan font-size="6.2" dy="2.5">v</tspan><tspan dy="-2.5"> (meV)</tspan></text>
<text transform="translate(667.5,84) rotate(90) scale(0.97,1)" font-size="10" text-anchor="middle" fill="#111" stroke="#111" stroke-width="0.2">R/R<tspan font-size="5.6" dy="3">300 K</tspan></text>
<text transform="translate(419,277.7) rotate(-90) scale(0.97,1)" font-size="10" text-anchor="middle" fill="#111" stroke="#111" stroke-width="0.2">Slope (counts/&#197;<tspan font-size="6.2" dy="-3">-1</tspan><tspan dy="3">)</tspan></text>
<text transform="translate(675,274.7) rotate(90) scale(0.97,1)" font-size="10" text-anchor="middle" fill="#111" stroke="#111" stroke-width="0.2">FWHM (&#197;<tspan font-size="6.2" dy="-3">-1</tspan><tspan dy="3">)</tspan></text>
<text transform="translate(417.8,459.5) rotate(-90) scale(0.97,1)" font-size="10" text-anchor="middle" fill="#111" stroke="#111" stroke-width="0.2">Slope (counts/eV)</text>
<text transform="translate(675.5,452.5) rotate(90) scale(0.97,1)" font-size="10" text-anchor="middle" fill="#111" stroke="#111" stroke-width="0.2">FWHM (eV)</text>
<text transform="translate(11.4,99.1) rotate(-90) scale(0.97,1)" font-size="10" text-anchor="middle" fill="#111" stroke="#111" stroke-width="0.2">E - E<tspan font-size="6.2" dy="2.5">F</tspan><tspan dy="-2.5"> (meV)</tspan></text>
<text transform="translate(15.5,272.7) rotate(-90) scale(0.97,1)" font-size="10" text-anchor="middle" fill="#111" stroke="#111" stroke-width="0.2">k<tspan font-size="6.2" dy="2">y</tspan><tspan dy="-2"> (&#197;</tspan><tspan font-size="6.2" dy="-3">-1</tspan><tspan dy="3">)</tspan></text>
<text transform="translate(17,452.6) rotate(-90) scale(0.97,1)" font-size="10" text-anchor="middle" fill="#111" stroke="#111" stroke-width="0.2">E - E<tspan font-size="6.2" dy="2.5">F</tspan><tspan dy="-2.5"> (meV)</tspan></text>
<defs><linearGradient id="cb" x1="0" x2="1" y1="0" y2="0"><stop offset="0" stop-color="#fafafa"/><stop offset="0.25" stop-color="#c6c6c6"/><stop offset="0.5" stop-color="#8e8e8e"/><stop offset="0.75" stop-color="#4e4e4e"/><stop offset="0.92" stop-color="#151515"/><stop offset="1" stop-color="#000"/></linearGradient></defs>
<rect x="111.5" y="12.2" width="51" height="6" fill="url(#cb)" stroke="#222" stroke-width="0.8"/>
<text transform="translate(92.8,18.7) scale(0.97,1)" font-size="10" text-anchor="start" font-weight="normal" fill="#111" stroke="#111" stroke-width="0.2" >Min</text>
<text transform="translate(165.8,18.7) scale(0.97,1)" font-size="10" text-anchor="start" font-weight="normal" fill="#111" stroke="#111" stroke-width="0.2" >Max</text>
<text transform="translate(138,7.2) scale(0.97,1)" font-size="10" text-anchor="middle" font-weight="normal" fill="#111" stroke="#111" stroke-width="0.2" >Intensity (arb. units)</text>
<line x1="383.5" y1="99" x2="383.5" y2="143.3" stroke="#111" stroke-width="1.0" />
<path d="M380.5 142.8L386.5 142.8L383.5 148.0Z" fill="#111"/>
<line x1="383.5" y1="276.4" x2="383.5" y2="324.3" stroke="#111" stroke-width="1.0" />
<path d="M380.5 323.8L386.5 323.8L383.5 329.0Z" fill="#111"/>
<line x1="383.5" y1="458.2" x2="383.5" y2="502.3" stroke="#111" stroke-width="1.0" />
<path d="M380.5 501.8L386.5 501.8L383.5 507.0Z" fill="#111"/>
<line x1="279.8" y1="130.4" x2="279.8" y2="124" stroke="#111" stroke-width="0.9" />
<path d="M277.6 124.5L282.0 124.5L279.8 120.0Z" fill="#111"/>
<text transform="translate(275.3,143) scale(0.97,1)" font-size="10" text-anchor="start" font-weight="normal" fill="#111" stroke="#111" stroke-width="0.2" >E<tspan font-size="6.2" dy="2.5">v</tspan></text>
<line x1="288.7" y1="313.4" x2="276.1" y2="339.8" stroke="#f01818" stroke-width="1.4" stroke-dasharray="1.3,1.2"/>
<line x1="334.1" y1="326.5" x2="343.9" y2="326.5" stroke="#1a2ad8" stroke-width="1.1" />
<path d="M331.8 326.5L334.6 324.8L334.6 328.2Z" fill="#1a2ad8"/>
<path d="M346.2 326.5L343.4 324.8L343.4 328.2Z" fill="#1a2ad8"/>
<line x1="331.9" y1="470.4" x2="309.1" y2="509.1" stroke="#f01818" stroke-width="1.4" stroke-dasharray="1.3,1.2"/>
<line x1="327.3" y1="495.9" x2="336.8" y2="495.9" stroke="#1a2ad8" stroke-width="1.1" />
<path d="M325.0 495.9L327.8 494.2L327.8 497.6Z" fill="#1a2ad8"/>
<path d="M339.1 495.9L336.3 494.2L336.3 497.6Z" fill="#1a2ad8"/>
<line x1="495.1" y1="136.5" x2="479.1" y2="136.5" stroke="#ff1a1a" stroke-width="1.15" />
<path d="M479.6 133.3L473.8 136.5L479.6 139.7L478.4 136.5Z" fill="#ff1a1a"/>
<line x1="611.1" y1="94.5" x2="627" y2="94.5" stroke="#2222e6" stroke-width="1.15" />
<path d="M626.5 91.3L632.3 94.5L626.5 97.7L627.7 94.5Z" fill="#2222e6"/>
<line x1="489.4" y1="284.5" x2="473.9" y2="284.5" stroke="#ff1a1a" stroke-width="1.15" />
<path d="M474.4 281.3L468.6 284.5L474.4 287.7L473.2 284.5Z" fill="#ff1a1a"/>
<line x1="580.2" y1="258.2" x2="596.2" y2="258.2" stroke="#2222e6" stroke-width="1.15" />
<path d="M595.7 255.0L601.5 258.2L595.7 261.4L596.9 258.2Z" fill="#2222e6"/>
<line x1="500.7" y1="464.9" x2="485.3" y2="464.9" stroke="#ff1a1a" stroke-width="1.15" />
<path d="M485.8 461.7L480.0 464.9L485.8 468.1L484.6 464.9Z" fill="#ff1a1a"/>
<line x1="591.4" y1="445.7" x2="607.1" y2="445.7" stroke="#2222e6" stroke-width="1.15" />
<path d="M606.6 442.5L612.4 445.7L606.6 448.9L607.8 445.7Z" fill="#2222e6"/>
<text transform="translate(199.2,35) scale(0.97,1)" font-size="10" text-anchor="start" font-weight="normal" fill="#111" stroke="#111" stroke-width="0.2" >T<tspan font-size="6" dy="3">cdw</tspan></text>
<text transform="translate(164.7,214.4) scale(0.97,1)" font-size="10" text-anchor="start" font-weight="normal" fill="#111" stroke="#111" stroke-width="0.2" >T<tspan font-size="6" dy="-3.6">*</tspan></text>
<text transform="translate(164.7,394.8) scale(0.97,1)" font-size="10" text-anchor="start" font-weight="normal" fill="#111" stroke="#111" stroke-width="0.2" >T<tspan font-size="6" dy="-3.6">*</tspan></text>
<text transform="translate(568.3,18.8) scale(0.97,1)" font-size="10" text-anchor="start" font-weight="normal" fill="#111" stroke="#111" stroke-width="0.2" >T<tspan font-size="6" dy="-3.6">*</tspan></text>
<text transform="translate(596,18.8) scale(0.97,1)" font-size="10" text-anchor="start" font-weight="normal" fill="#111" stroke="#111" stroke-width="0.2" >T<tspan font-size="6" dy="3">cdw</tspan></text>
<text transform="translate(568.3,196.3) scale(0.97,1)" font-size="10" text-anchor="start" font-weight="normal" fill="#111" stroke="#111" stroke-width="0.2" >T<tspan font-size="6" dy="-3.6">*</tspan></text>
<text transform="translate(596,196.3) scale(0.97,1)" font-size="10" text-anchor="start" font-weight="normal" fill="#111" stroke="#111" stroke-width="0.2" >T<tspan font-size="6" dy="3">cdw</tspan></text>
<text transform="translate(568.3,375.8) scale(0.97,1)" font-size="10" text-anchor="start" font-weight="normal" fill="#111" stroke="#111" stroke-width="0.2" >T<tspan font-size="6" dy="-3.6">*</tspan></text>
<text transform="translate(596,375.8) scale(0.97,1)" font-size="10" text-anchor="start" font-weight="normal" fill="#111" stroke="#111" stroke-width="0.2" >T<tspan font-size="6" dy="3">cdw</tspan></text>
<line x1="193.6" y1="162.8" x2="193.6" y2="24.5" stroke="#222" stroke-width="1.0" stroke-dasharray="4.1,5.55"/>
<line x1="160.5" y1="339.8" x2="160.5" y2="201.6" stroke="#222" stroke-width="1.0" stroke-dasharray="4.1,5.55"/>
<line x1="160.5" y1="520.3" x2="160.5" y2="381.8" stroke="#222" stroke-width="1.0" stroke-dasharray="4.1,5.55"/>
<line x1="570.6" y1="162.7" x2="570.6" y2="24.3" stroke="#4a4a4a" stroke-width="1.0" stroke-dasharray="4.1,5.55"/>
<line x1="603" y1="162.7" x2="603" y2="24.3" stroke="#4a4a4a" stroke-width="1.0" stroke-dasharray="4.1,5.55"/>
<line x1="570.6" y1="339.6" x2="570.6" y2="201.6" stroke="#4a4a4a" stroke-width="1.0" stroke-dasharray="4.1,5.55"/>
<line x1="603" y1="339.6" x2="603" y2="201.6" stroke="#4a4a4a" stroke-width="1.0" stroke-dasharray="4.1,5.55"/>
<line x1="570.6" y1="519.2" x2="570.6" y2="382.2" stroke="#4a4a4a" stroke-width="1.0" stroke-dasharray="4.1,5.55"/>
<line x1="603" y1="519.2" x2="603" y2="382.2" stroke="#4a4a4a" stroke-width="1.0" stroke-dasharray="4.1,5.55"/>
</svg></body></html>
